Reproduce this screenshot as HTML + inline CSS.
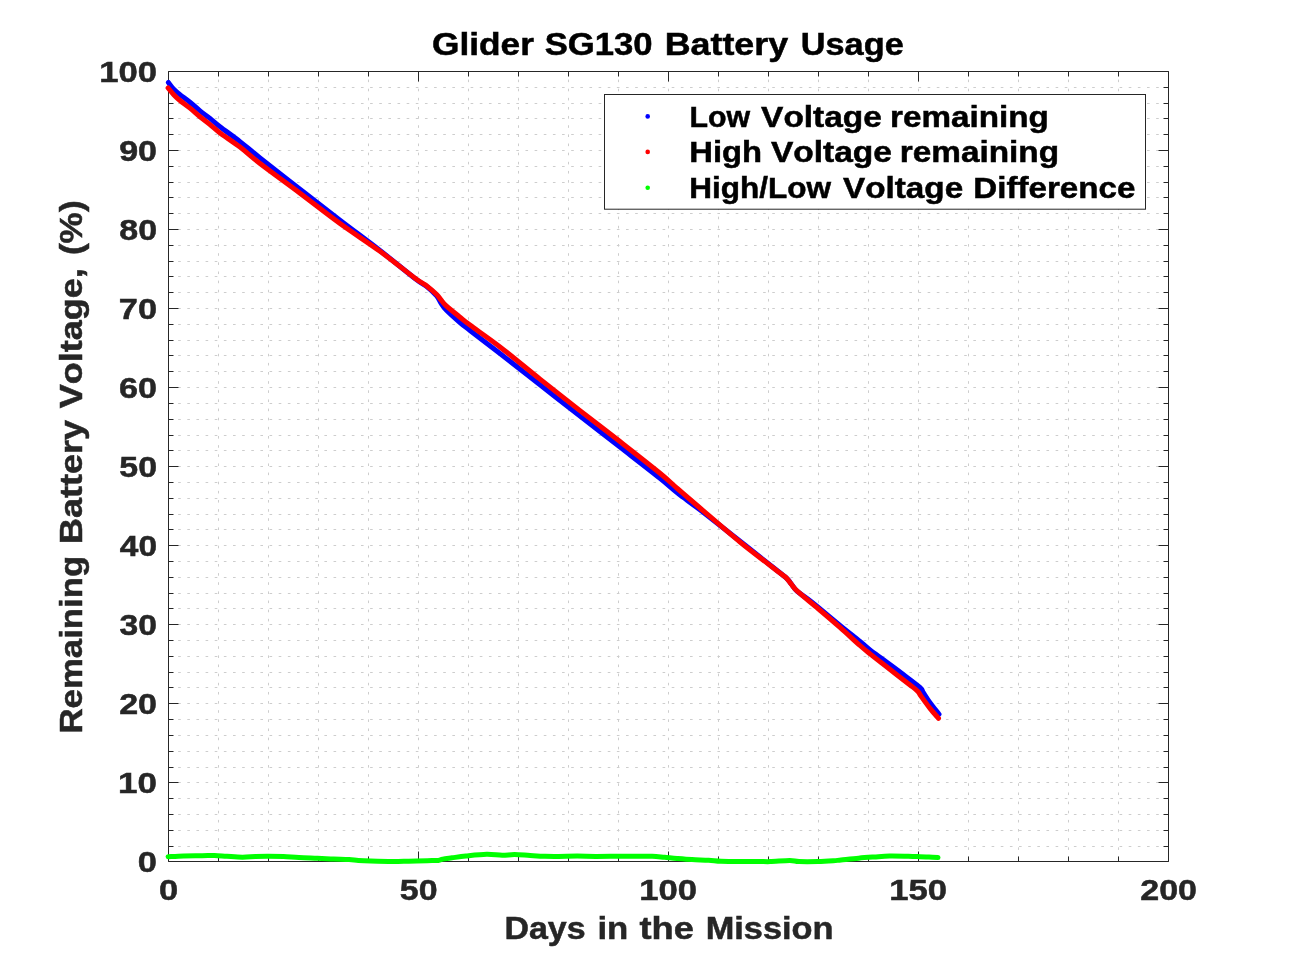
<!DOCTYPE html>
<html><head><meta charset="utf-8"><style>
html,body{margin:0;padding:0;background:#fff;width:1291px;height:968px;overflow:hidden}
svg{display:block;will-change:transform}
text{font-family:"Liberation Sans",sans-serif;font-weight:bold;font-kerning:none}
</style></head><body>
<svg width="1291" height="968" viewBox="0 0 1291 968">
<rect width="1291" height="968" fill="#fff"/>
<path d="M218.5 859.05V856.45M218.5 849.91V847.31M218.5 840.77V838.17M218.5 831.63V829.03M218.5 822.49V819.89M218.5 813.35V810.75M218.5 804.21V801.61M218.5 795.07V792.47M218.5 785.93V783.33M218.5 776.79V774.19M218.5 767.65V765.05M218.5 758.51V755.91M218.5 749.37V746.77M218.5 740.23V737.63M218.5 731.09V728.49M218.5 721.95V719.35M218.5 712.81V710.21M218.5 703.67V701.07M218.5 694.53V691.93M218.5 685.39V682.79M218.5 676.25V673.65M218.5 667.11V664.51M218.5 657.97V655.37M218.5 648.83V646.23M218.5 639.69V637.09M218.5 630.55V627.95M218.5 621.41V618.81M218.5 612.27V609.67M218.5 603.13V600.53M218.5 593.99V591.39M218.5 584.85V582.25M218.5 575.71V573.11M218.5 566.57V563.97M218.5 557.43V554.83M218.5 548.29V545.69M218.5 539.15V536.55M218.5 530.01V527.41M218.5 520.87V518.27M218.5 511.73V509.13M218.5 502.59V499.99M218.5 493.45V490.85M218.5 484.31V481.71M218.5 475.17V472.57M218.5 466.03V463.43M218.5 456.89V454.29M218.5 447.75V445.15M218.5 438.61V436.01M218.5 429.47V426.87M218.5 420.33V417.73M218.5 411.19V408.59M218.5 402.05V399.45M218.5 392.91V390.31M218.5 383.77V381.17M218.5 374.63V372.03M218.5 365.49V362.89M218.5 356.35V353.75M218.5 347.21V344.61M218.5 338.07V335.47M218.5 328.93V326.33M218.5 319.79V317.19M218.5 310.65V308.05M218.5 301.51V298.91M218.5 292.37V289.77M218.5 283.23V280.63M218.5 274.09V271.49M218.5 264.95V262.35M218.5 255.81V253.21M218.5 246.67V244.07M218.5 237.53V234.93M218.5 228.39V225.79M218.5 219.25V216.65M218.5 210.11V207.51M218.5 200.97V198.37M218.5 191.83V189.23M218.5 182.69V180.09M218.5 173.55V170.95M218.5 164.41V161.81M218.5 155.27V152.67M218.5 146.13V143.53M218.5 136.99V134.39M218.5 127.85V125.25M218.5 118.71V116.11M218.5 109.57V106.97M218.5 100.43V97.83M218.5 91.29V88.69M218.5 82.15V79.55M218.5 73.01V71.50M268.5 859.05V856.45M268.5 849.91V847.31M268.5 840.77V838.17M268.5 831.63V829.03M268.5 822.49V819.89M268.5 813.35V810.75M268.5 804.21V801.61M268.5 795.07V792.47M268.5 785.93V783.33M268.5 776.79V774.19M268.5 767.65V765.05M268.5 758.51V755.91M268.5 749.37V746.77M268.5 740.23V737.63M268.5 731.09V728.49M268.5 721.95V719.35M268.5 712.81V710.21M268.5 703.67V701.07M268.5 694.53V691.93M268.5 685.39V682.79M268.5 676.25V673.65M268.5 667.11V664.51M268.5 657.97V655.37M268.5 648.83V646.23M268.5 639.69V637.09M268.5 630.55V627.95M268.5 621.41V618.81M268.5 612.27V609.67M268.5 603.13V600.53M268.5 593.99V591.39M268.5 584.85V582.25M268.5 575.71V573.11M268.5 566.57V563.97M268.5 557.43V554.83M268.5 548.29V545.69M268.5 539.15V536.55M268.5 530.01V527.41M268.5 520.87V518.27M268.5 511.73V509.13M268.5 502.59V499.99M268.5 493.45V490.85M268.5 484.31V481.71M268.5 475.17V472.57M268.5 466.03V463.43M268.5 456.89V454.29M268.5 447.75V445.15M268.5 438.61V436.01M268.5 429.47V426.87M268.5 420.33V417.73M268.5 411.19V408.59M268.5 402.05V399.45M268.5 392.91V390.31M268.5 383.77V381.17M268.5 374.63V372.03M268.5 365.49V362.89M268.5 356.35V353.75M268.5 347.21V344.61M268.5 338.07V335.47M268.5 328.93V326.33M268.5 319.79V317.19M268.5 310.65V308.05M268.5 301.51V298.91M268.5 292.37V289.77M268.5 283.23V280.63M268.5 274.09V271.49M268.5 264.95V262.35M268.5 255.81V253.21M268.5 246.67V244.07M268.5 237.53V234.93M268.5 228.39V225.79M268.5 219.25V216.65M268.5 210.11V207.51M268.5 200.97V198.37M268.5 191.83V189.23M268.5 182.69V180.09M268.5 173.55V170.95M268.5 164.41V161.81M268.5 155.27V152.67M268.5 146.13V143.53M268.5 136.99V134.39M268.5 127.85V125.25M268.5 118.71V116.11M268.5 109.57V106.97M268.5 100.43V97.83M268.5 91.29V88.69M268.5 82.15V79.55M268.5 73.01V71.50M318.5 859.05V856.45M318.5 849.91V847.31M318.5 840.77V838.17M318.5 831.63V829.03M318.5 822.49V819.89M318.5 813.35V810.75M318.5 804.21V801.61M318.5 795.07V792.47M318.5 785.93V783.33M318.5 776.79V774.19M318.5 767.65V765.05M318.5 758.51V755.91M318.5 749.37V746.77M318.5 740.23V737.63M318.5 731.09V728.49M318.5 721.95V719.35M318.5 712.81V710.21M318.5 703.67V701.07M318.5 694.53V691.93M318.5 685.39V682.79M318.5 676.25V673.65M318.5 667.11V664.51M318.5 657.97V655.37M318.5 648.83V646.23M318.5 639.69V637.09M318.5 630.55V627.95M318.5 621.41V618.81M318.5 612.27V609.67M318.5 603.13V600.53M318.5 593.99V591.39M318.5 584.85V582.25M318.5 575.71V573.11M318.5 566.57V563.97M318.5 557.43V554.83M318.5 548.29V545.69M318.5 539.15V536.55M318.5 530.01V527.41M318.5 520.87V518.27M318.5 511.73V509.13M318.5 502.59V499.99M318.5 493.45V490.85M318.5 484.31V481.71M318.5 475.17V472.57M318.5 466.03V463.43M318.5 456.89V454.29M318.5 447.75V445.15M318.5 438.61V436.01M318.5 429.47V426.87M318.5 420.33V417.73M318.5 411.19V408.59M318.5 402.05V399.45M318.5 392.91V390.31M318.5 383.77V381.17M318.5 374.63V372.03M318.5 365.49V362.89M318.5 356.35V353.75M318.5 347.21V344.61M318.5 338.07V335.47M318.5 328.93V326.33M318.5 319.79V317.19M318.5 310.65V308.05M318.5 301.51V298.91M318.5 292.37V289.77M318.5 283.23V280.63M318.5 274.09V271.49M318.5 264.95V262.35M318.5 255.81V253.21M318.5 246.67V244.07M318.5 237.53V234.93M318.5 228.39V225.79M318.5 219.25V216.65M318.5 210.11V207.51M318.5 200.97V198.37M318.5 191.83V189.23M318.5 182.69V180.09M318.5 173.55V170.95M318.5 164.41V161.81M318.5 155.27V152.67M318.5 146.13V143.53M318.5 136.99V134.39M318.5 127.85V125.25M318.5 118.71V116.11M318.5 109.57V106.97M318.5 100.43V97.83M318.5 91.29V88.69M318.5 82.15V79.55M318.5 73.01V71.50M368.5 859.05V856.45M368.5 849.91V847.31M368.5 840.77V838.17M368.5 831.63V829.03M368.5 822.49V819.89M368.5 813.35V810.75M368.5 804.21V801.61M368.5 795.07V792.47M368.5 785.93V783.33M368.5 776.79V774.19M368.5 767.65V765.05M368.5 758.51V755.91M368.5 749.37V746.77M368.5 740.23V737.63M368.5 731.09V728.49M368.5 721.95V719.35M368.5 712.81V710.21M368.5 703.67V701.07M368.5 694.53V691.93M368.5 685.39V682.79M368.5 676.25V673.65M368.5 667.11V664.51M368.5 657.97V655.37M368.5 648.83V646.23M368.5 639.69V637.09M368.5 630.55V627.95M368.5 621.41V618.81M368.5 612.27V609.67M368.5 603.13V600.53M368.5 593.99V591.39M368.5 584.85V582.25M368.5 575.71V573.11M368.5 566.57V563.97M368.5 557.43V554.83M368.5 548.29V545.69M368.5 539.15V536.55M368.5 530.01V527.41M368.5 520.87V518.27M368.5 511.73V509.13M368.5 502.59V499.99M368.5 493.45V490.85M368.5 484.31V481.71M368.5 475.17V472.57M368.5 466.03V463.43M368.5 456.89V454.29M368.5 447.75V445.15M368.5 438.61V436.01M368.5 429.47V426.87M368.5 420.33V417.73M368.5 411.19V408.59M368.5 402.05V399.45M368.5 392.91V390.31M368.5 383.77V381.17M368.5 374.63V372.03M368.5 365.49V362.89M368.5 356.35V353.75M368.5 347.21V344.61M368.5 338.07V335.47M368.5 328.93V326.33M368.5 319.79V317.19M368.5 310.65V308.05M368.5 301.51V298.91M368.5 292.37V289.77M368.5 283.23V280.63M368.5 274.09V271.49M368.5 264.95V262.35M368.5 255.81V253.21M368.5 246.67V244.07M368.5 237.53V234.93M368.5 228.39V225.79M368.5 219.25V216.65M368.5 210.11V207.51M368.5 200.97V198.37M368.5 191.83V189.23M368.5 182.69V180.09M368.5 173.55V170.95M368.5 164.41V161.81M368.5 155.27V152.67M368.5 146.13V143.53M368.5 136.99V134.39M368.5 127.85V125.25M368.5 118.71V116.11M368.5 109.57V106.97M368.5 100.43V97.83M368.5 91.29V88.69M368.5 82.15V79.55M368.5 73.01V71.50M418.5 859.05V856.45M418.5 849.91V847.31M418.5 840.77V838.17M418.5 831.63V829.03M418.5 822.49V819.89M418.5 813.35V810.75M418.5 804.21V801.61M418.5 795.07V792.47M418.5 785.93V783.33M418.5 776.79V774.19M418.5 767.65V765.05M418.5 758.51V755.91M418.5 749.37V746.77M418.5 740.23V737.63M418.5 731.09V728.49M418.5 721.95V719.35M418.5 712.81V710.21M418.5 703.67V701.07M418.5 694.53V691.93M418.5 685.39V682.79M418.5 676.25V673.65M418.5 667.11V664.51M418.5 657.97V655.37M418.5 648.83V646.23M418.5 639.69V637.09M418.5 630.55V627.95M418.5 621.41V618.81M418.5 612.27V609.67M418.5 603.13V600.53M418.5 593.99V591.39M418.5 584.85V582.25M418.5 575.71V573.11M418.5 566.57V563.97M418.5 557.43V554.83M418.5 548.29V545.69M418.5 539.15V536.55M418.5 530.01V527.41M418.5 520.87V518.27M418.5 511.73V509.13M418.5 502.59V499.99M418.5 493.45V490.85M418.5 484.31V481.71M418.5 475.17V472.57M418.5 466.03V463.43M418.5 456.89V454.29M418.5 447.75V445.15M418.5 438.61V436.01M418.5 429.47V426.87M418.5 420.33V417.73M418.5 411.19V408.59M418.5 402.05V399.45M418.5 392.91V390.31M418.5 383.77V381.17M418.5 374.63V372.03M418.5 365.49V362.89M418.5 356.35V353.75M418.5 347.21V344.61M418.5 338.07V335.47M418.5 328.93V326.33M418.5 319.79V317.19M418.5 310.65V308.05M418.5 301.51V298.91M418.5 292.37V289.77M418.5 283.23V280.63M418.5 274.09V271.49M418.5 264.95V262.35M418.5 255.81V253.21M418.5 246.67V244.07M418.5 237.53V234.93M418.5 228.39V225.79M418.5 219.25V216.65M418.5 210.11V207.51M418.5 200.97V198.37M418.5 191.83V189.23M418.5 182.69V180.09M418.5 173.55V170.95M418.5 164.41V161.81M418.5 155.27V152.67M418.5 146.13V143.53M418.5 136.99V134.39M418.5 127.85V125.25M418.5 118.71V116.11M418.5 109.57V106.97M418.5 100.43V97.83M418.5 91.29V88.69M418.5 82.15V79.55M418.5 73.01V71.50M468.5 859.05V856.45M468.5 849.91V847.31M468.5 840.77V838.17M468.5 831.63V829.03M468.5 822.49V819.89M468.5 813.35V810.75M468.5 804.21V801.61M468.5 795.07V792.47M468.5 785.93V783.33M468.5 776.79V774.19M468.5 767.65V765.05M468.5 758.51V755.91M468.5 749.37V746.77M468.5 740.23V737.63M468.5 731.09V728.49M468.5 721.95V719.35M468.5 712.81V710.21M468.5 703.67V701.07M468.5 694.53V691.93M468.5 685.39V682.79M468.5 676.25V673.65M468.5 667.11V664.51M468.5 657.97V655.37M468.5 648.83V646.23M468.5 639.69V637.09M468.5 630.55V627.95M468.5 621.41V618.81M468.5 612.27V609.67M468.5 603.13V600.53M468.5 593.99V591.39M468.5 584.85V582.25M468.5 575.71V573.11M468.5 566.57V563.97M468.5 557.43V554.83M468.5 548.29V545.69M468.5 539.15V536.55M468.5 530.01V527.41M468.5 520.87V518.27M468.5 511.73V509.13M468.5 502.59V499.99M468.5 493.45V490.85M468.5 484.31V481.71M468.5 475.17V472.57M468.5 466.03V463.43M468.5 456.89V454.29M468.5 447.75V445.15M468.5 438.61V436.01M468.5 429.47V426.87M468.5 420.33V417.73M468.5 411.19V408.59M468.5 402.05V399.45M468.5 392.91V390.31M468.5 383.77V381.17M468.5 374.63V372.03M468.5 365.49V362.89M468.5 356.35V353.75M468.5 347.21V344.61M468.5 338.07V335.47M468.5 328.93V326.33M468.5 319.79V317.19M468.5 310.65V308.05M468.5 301.51V298.91M468.5 292.37V289.77M468.5 283.23V280.63M468.5 274.09V271.49M468.5 264.95V262.35M468.5 255.81V253.21M468.5 246.67V244.07M468.5 237.53V234.93M468.5 228.39V225.79M468.5 219.25V216.65M468.5 210.11V207.51M468.5 200.97V198.37M468.5 191.83V189.23M468.5 182.69V180.09M468.5 173.55V170.95M468.5 164.41V161.81M468.5 155.27V152.67M468.5 146.13V143.53M468.5 136.99V134.39M468.5 127.85V125.25M468.5 118.71V116.11M468.5 109.57V106.97M468.5 100.43V97.83M468.5 91.29V88.69M468.5 82.15V79.55M468.5 73.01V71.50M518.5 859.05V856.45M518.5 849.91V847.31M518.5 840.77V838.17M518.5 831.63V829.03M518.5 822.49V819.89M518.5 813.35V810.75M518.5 804.21V801.61M518.5 795.07V792.47M518.5 785.93V783.33M518.5 776.79V774.19M518.5 767.65V765.05M518.5 758.51V755.91M518.5 749.37V746.77M518.5 740.23V737.63M518.5 731.09V728.49M518.5 721.95V719.35M518.5 712.81V710.21M518.5 703.67V701.07M518.5 694.53V691.93M518.5 685.39V682.79M518.5 676.25V673.65M518.5 667.11V664.51M518.5 657.97V655.37M518.5 648.83V646.23M518.5 639.69V637.09M518.5 630.55V627.95M518.5 621.41V618.81M518.5 612.27V609.67M518.5 603.13V600.53M518.5 593.99V591.39M518.5 584.85V582.25M518.5 575.71V573.11M518.5 566.57V563.97M518.5 557.43V554.83M518.5 548.29V545.69M518.5 539.15V536.55M518.5 530.01V527.41M518.5 520.87V518.27M518.5 511.73V509.13M518.5 502.59V499.99M518.5 493.45V490.85M518.5 484.31V481.71M518.5 475.17V472.57M518.5 466.03V463.43M518.5 456.89V454.29M518.5 447.75V445.15M518.5 438.61V436.01M518.5 429.47V426.87M518.5 420.33V417.73M518.5 411.19V408.59M518.5 402.05V399.45M518.5 392.91V390.31M518.5 383.77V381.17M518.5 374.63V372.03M518.5 365.49V362.89M518.5 356.35V353.75M518.5 347.21V344.61M518.5 338.07V335.47M518.5 328.93V326.33M518.5 319.79V317.19M518.5 310.65V308.05M518.5 301.51V298.91M518.5 292.37V289.77M518.5 283.23V280.63M518.5 274.09V271.49M518.5 264.95V262.35M518.5 255.81V253.21M518.5 246.67V244.07M518.5 237.53V234.93M518.5 228.39V225.79M518.5 219.25V216.65M518.5 210.11V207.51M518.5 200.97V198.37M518.5 191.83V189.23M518.5 182.69V180.09M518.5 173.55V170.95M518.5 164.41V161.81M518.5 155.27V152.67M518.5 146.13V143.53M518.5 136.99V134.39M518.5 127.85V125.25M518.5 118.71V116.11M518.5 109.57V106.97M518.5 100.43V97.83M518.5 91.29V88.69M518.5 82.15V79.55M518.5 73.01V71.50M568.5 859.05V856.45M568.5 849.91V847.31M568.5 840.77V838.17M568.5 831.63V829.03M568.5 822.49V819.89M568.5 813.35V810.75M568.5 804.21V801.61M568.5 795.07V792.47M568.5 785.93V783.33M568.5 776.79V774.19M568.5 767.65V765.05M568.5 758.51V755.91M568.5 749.37V746.77M568.5 740.23V737.63M568.5 731.09V728.49M568.5 721.95V719.35M568.5 712.81V710.21M568.5 703.67V701.07M568.5 694.53V691.93M568.5 685.39V682.79M568.5 676.25V673.65M568.5 667.11V664.51M568.5 657.97V655.37M568.5 648.83V646.23M568.5 639.69V637.09M568.5 630.55V627.95M568.5 621.41V618.81M568.5 612.27V609.67M568.5 603.13V600.53M568.5 593.99V591.39M568.5 584.85V582.25M568.5 575.71V573.11M568.5 566.57V563.97M568.5 557.43V554.83M568.5 548.29V545.69M568.5 539.15V536.55M568.5 530.01V527.41M568.5 520.87V518.27M568.5 511.73V509.13M568.5 502.59V499.99M568.5 493.45V490.85M568.5 484.31V481.71M568.5 475.17V472.57M568.5 466.03V463.43M568.5 456.89V454.29M568.5 447.75V445.15M568.5 438.61V436.01M568.5 429.47V426.87M568.5 420.33V417.73M568.5 411.19V408.59M568.5 402.05V399.45M568.5 392.91V390.31M568.5 383.77V381.17M568.5 374.63V372.03M568.5 365.49V362.89M568.5 356.35V353.75M568.5 347.21V344.61M568.5 338.07V335.47M568.5 328.93V326.33M568.5 319.79V317.19M568.5 310.65V308.05M568.5 301.51V298.91M568.5 292.37V289.77M568.5 283.23V280.63M568.5 274.09V271.49M568.5 264.95V262.35M568.5 255.81V253.21M568.5 246.67V244.07M568.5 237.53V234.93M568.5 228.39V225.79M568.5 219.25V216.65M568.5 210.11V207.51M568.5 200.97V198.37M568.5 191.83V189.23M568.5 182.69V180.09M568.5 173.55V170.95M568.5 164.41V161.81M568.5 155.27V152.67M568.5 146.13V143.53M568.5 136.99V134.39M568.5 127.85V125.25M568.5 118.71V116.11M568.5 109.57V106.97M568.5 100.43V97.83M568.5 91.29V88.69M568.5 82.15V79.55M568.5 73.01V71.50M618.5 859.05V856.45M618.5 849.91V847.31M618.5 840.77V838.17M618.5 831.63V829.03M618.5 822.49V819.89M618.5 813.35V810.75M618.5 804.21V801.61M618.5 795.07V792.47M618.5 785.93V783.33M618.5 776.79V774.19M618.5 767.65V765.05M618.5 758.51V755.91M618.5 749.37V746.77M618.5 740.23V737.63M618.5 731.09V728.49M618.5 721.95V719.35M618.5 712.81V710.21M618.5 703.67V701.07M618.5 694.53V691.93M618.5 685.39V682.79M618.5 676.25V673.65M618.5 667.11V664.51M618.5 657.97V655.37M618.5 648.83V646.23M618.5 639.69V637.09M618.5 630.55V627.95M618.5 621.41V618.81M618.5 612.27V609.67M618.5 603.13V600.53M618.5 593.99V591.39M618.5 584.85V582.25M618.5 575.71V573.11M618.5 566.57V563.97M618.5 557.43V554.83M618.5 548.29V545.69M618.5 539.15V536.55M618.5 530.01V527.41M618.5 520.87V518.27M618.5 511.73V509.13M618.5 502.59V499.99M618.5 493.45V490.85M618.5 484.31V481.71M618.5 475.17V472.57M618.5 466.03V463.43M618.5 456.89V454.29M618.5 447.75V445.15M618.5 438.61V436.01M618.5 429.47V426.87M618.5 420.33V417.73M618.5 411.19V408.59M618.5 402.05V399.45M618.5 392.91V390.31M618.5 383.77V381.17M618.5 374.63V372.03M618.5 365.49V362.89M618.5 356.35V353.75M618.5 347.21V344.61M618.5 338.07V335.47M618.5 328.93V326.33M618.5 319.79V317.19M618.5 310.65V308.05M618.5 301.51V298.91M618.5 292.37V289.77M618.5 283.23V280.63M618.5 274.09V271.49M618.5 264.95V262.35M618.5 255.81V253.21M618.5 246.67V244.07M618.5 237.53V234.93M618.5 228.39V225.79M618.5 219.25V216.65M618.5 210.11V207.51M618.5 200.97V198.37M618.5 191.83V189.23M618.5 182.69V180.09M618.5 173.55V170.95M618.5 164.41V161.81M618.5 155.27V152.67M618.5 146.13V143.53M618.5 136.99V134.39M618.5 127.85V125.25M618.5 118.71V116.11M618.5 109.57V106.97M618.5 100.43V97.83M618.5 91.29V88.69M618.5 82.15V79.55M618.5 73.01V71.50M668.5 859.05V856.45M668.5 849.91V847.31M668.5 840.77V838.17M668.5 831.63V829.03M668.5 822.49V819.89M668.5 813.35V810.75M668.5 804.21V801.61M668.5 795.07V792.47M668.5 785.93V783.33M668.5 776.79V774.19M668.5 767.65V765.05M668.5 758.51V755.91M668.5 749.37V746.77M668.5 740.23V737.63M668.5 731.09V728.49M668.5 721.95V719.35M668.5 712.81V710.21M668.5 703.67V701.07M668.5 694.53V691.93M668.5 685.39V682.79M668.5 676.25V673.65M668.5 667.11V664.51M668.5 657.97V655.37M668.5 648.83V646.23M668.5 639.69V637.09M668.5 630.55V627.95M668.5 621.41V618.81M668.5 612.27V609.67M668.5 603.13V600.53M668.5 593.99V591.39M668.5 584.85V582.25M668.5 575.71V573.11M668.5 566.57V563.97M668.5 557.43V554.83M668.5 548.29V545.69M668.5 539.15V536.55M668.5 530.01V527.41M668.5 520.87V518.27M668.5 511.73V509.13M668.5 502.59V499.99M668.5 493.45V490.85M668.5 484.31V481.71M668.5 475.17V472.57M668.5 466.03V463.43M668.5 456.89V454.29M668.5 447.75V445.15M668.5 438.61V436.01M668.5 429.47V426.87M668.5 420.33V417.73M668.5 411.19V408.59M668.5 402.05V399.45M668.5 392.91V390.31M668.5 383.77V381.17M668.5 374.63V372.03M668.5 365.49V362.89M668.5 356.35V353.75M668.5 347.21V344.61M668.5 338.07V335.47M668.5 328.93V326.33M668.5 319.79V317.19M668.5 310.65V308.05M668.5 301.51V298.91M668.5 292.37V289.77M668.5 283.23V280.63M668.5 274.09V271.49M668.5 264.95V262.35M668.5 255.81V253.21M668.5 246.67V244.07M668.5 237.53V234.93M668.5 228.39V225.79M668.5 219.25V216.65M668.5 210.11V207.51M668.5 200.97V198.37M668.5 191.83V189.23M668.5 182.69V180.09M668.5 173.55V170.95M668.5 164.41V161.81M668.5 155.27V152.67M668.5 146.13V143.53M668.5 136.99V134.39M668.5 127.85V125.25M668.5 118.71V116.11M668.5 109.57V106.97M668.5 100.43V97.83M668.5 91.29V88.69M668.5 82.15V79.55M668.5 73.01V71.50M718.5 859.05V856.45M718.5 849.91V847.31M718.5 840.77V838.17M718.5 831.63V829.03M718.5 822.49V819.89M718.5 813.35V810.75M718.5 804.21V801.61M718.5 795.07V792.47M718.5 785.93V783.33M718.5 776.79V774.19M718.5 767.65V765.05M718.5 758.51V755.91M718.5 749.37V746.77M718.5 740.23V737.63M718.5 731.09V728.49M718.5 721.95V719.35M718.5 712.81V710.21M718.5 703.67V701.07M718.5 694.53V691.93M718.5 685.39V682.79M718.5 676.25V673.65M718.5 667.11V664.51M718.5 657.97V655.37M718.5 648.83V646.23M718.5 639.69V637.09M718.5 630.55V627.95M718.5 621.41V618.81M718.5 612.27V609.67M718.5 603.13V600.53M718.5 593.99V591.39M718.5 584.85V582.25M718.5 575.71V573.11M718.5 566.57V563.97M718.5 557.43V554.83M718.5 548.29V545.69M718.5 539.15V536.55M718.5 530.01V527.41M718.5 520.87V518.27M718.5 511.73V509.13M718.5 502.59V499.99M718.5 493.45V490.85M718.5 484.31V481.71M718.5 475.17V472.57M718.5 466.03V463.43M718.5 456.89V454.29M718.5 447.75V445.15M718.5 438.61V436.01M718.5 429.47V426.87M718.5 420.33V417.73M718.5 411.19V408.59M718.5 402.05V399.45M718.5 392.91V390.31M718.5 383.77V381.17M718.5 374.63V372.03M718.5 365.49V362.89M718.5 356.35V353.75M718.5 347.21V344.61M718.5 338.07V335.47M718.5 328.93V326.33M718.5 319.79V317.19M718.5 310.65V308.05M718.5 301.51V298.91M718.5 292.37V289.77M718.5 283.23V280.63M718.5 274.09V271.49M718.5 264.95V262.35M718.5 255.81V253.21M718.5 246.67V244.07M718.5 237.53V234.93M718.5 228.39V225.79M718.5 219.25V216.65M718.5 210.11V207.51M718.5 200.97V198.37M718.5 191.83V189.23M718.5 182.69V180.09M718.5 173.55V170.95M718.5 164.41V161.81M718.5 155.27V152.67M718.5 146.13V143.53M718.5 136.99V134.39M718.5 127.85V125.25M718.5 118.71V116.11M718.5 109.57V106.97M718.5 100.43V97.83M718.5 91.29V88.69M718.5 82.15V79.55M718.5 73.01V71.50M768.5 859.05V856.45M768.5 849.91V847.31M768.5 840.77V838.17M768.5 831.63V829.03M768.5 822.49V819.89M768.5 813.35V810.75M768.5 804.21V801.61M768.5 795.07V792.47M768.5 785.93V783.33M768.5 776.79V774.19M768.5 767.65V765.05M768.5 758.51V755.91M768.5 749.37V746.77M768.5 740.23V737.63M768.5 731.09V728.49M768.5 721.95V719.35M768.5 712.81V710.21M768.5 703.67V701.07M768.5 694.53V691.93M768.5 685.39V682.79M768.5 676.25V673.65M768.5 667.11V664.51M768.5 657.97V655.37M768.5 648.83V646.23M768.5 639.69V637.09M768.5 630.55V627.95M768.5 621.41V618.81M768.5 612.27V609.67M768.5 603.13V600.53M768.5 593.99V591.39M768.5 584.85V582.25M768.5 575.71V573.11M768.5 566.57V563.97M768.5 557.43V554.83M768.5 548.29V545.69M768.5 539.15V536.55M768.5 530.01V527.41M768.5 520.87V518.27M768.5 511.73V509.13M768.5 502.59V499.99M768.5 493.45V490.85M768.5 484.31V481.71M768.5 475.17V472.57M768.5 466.03V463.43M768.5 456.89V454.29M768.5 447.75V445.15M768.5 438.61V436.01M768.5 429.47V426.87M768.5 420.33V417.73M768.5 411.19V408.59M768.5 402.05V399.45M768.5 392.91V390.31M768.5 383.77V381.17M768.5 374.63V372.03M768.5 365.49V362.89M768.5 356.35V353.75M768.5 347.21V344.61M768.5 338.07V335.47M768.5 328.93V326.33M768.5 319.79V317.19M768.5 310.65V308.05M768.5 301.51V298.91M768.5 292.37V289.77M768.5 283.23V280.63M768.5 274.09V271.49M768.5 264.95V262.35M768.5 255.81V253.21M768.5 246.67V244.07M768.5 237.53V234.93M768.5 228.39V225.79M768.5 219.25V216.65M768.5 210.11V207.51M768.5 200.97V198.37M768.5 191.83V189.23M768.5 182.69V180.09M768.5 173.55V170.95M768.5 164.41V161.81M768.5 155.27V152.67M768.5 146.13V143.53M768.5 136.99V134.39M768.5 127.85V125.25M768.5 118.71V116.11M768.5 109.57V106.97M768.5 100.43V97.83M768.5 91.29V88.69M768.5 82.15V79.55M768.5 73.01V71.50M818.5 859.05V856.45M818.5 849.91V847.31M818.5 840.77V838.17M818.5 831.63V829.03M818.5 822.49V819.89M818.5 813.35V810.75M818.5 804.21V801.61M818.5 795.07V792.47M818.5 785.93V783.33M818.5 776.79V774.19M818.5 767.65V765.05M818.5 758.51V755.91M818.5 749.37V746.77M818.5 740.23V737.63M818.5 731.09V728.49M818.5 721.95V719.35M818.5 712.81V710.21M818.5 703.67V701.07M818.5 694.53V691.93M818.5 685.39V682.79M818.5 676.25V673.65M818.5 667.11V664.51M818.5 657.97V655.37M818.5 648.83V646.23M818.5 639.69V637.09M818.5 630.55V627.95M818.5 621.41V618.81M818.5 612.27V609.67M818.5 603.13V600.53M818.5 593.99V591.39M818.5 584.85V582.25M818.5 575.71V573.11M818.5 566.57V563.97M818.5 557.43V554.83M818.5 548.29V545.69M818.5 539.15V536.55M818.5 530.01V527.41M818.5 520.87V518.27M818.5 511.73V509.13M818.5 502.59V499.99M818.5 493.45V490.85M818.5 484.31V481.71M818.5 475.17V472.57M818.5 466.03V463.43M818.5 456.89V454.29M818.5 447.75V445.15M818.5 438.61V436.01M818.5 429.47V426.87M818.5 420.33V417.73M818.5 411.19V408.59M818.5 402.05V399.45M818.5 392.91V390.31M818.5 383.77V381.17M818.5 374.63V372.03M818.5 365.49V362.89M818.5 356.35V353.75M818.5 347.21V344.61M818.5 338.07V335.47M818.5 328.93V326.33M818.5 319.79V317.19M818.5 310.65V308.05M818.5 301.51V298.91M818.5 292.37V289.77M818.5 283.23V280.63M818.5 274.09V271.49M818.5 264.95V262.35M818.5 255.81V253.21M818.5 246.67V244.07M818.5 237.53V234.93M818.5 228.39V225.79M818.5 219.25V216.65M818.5 210.11V207.51M818.5 200.97V198.37M818.5 191.83V189.23M818.5 182.69V180.09M818.5 173.55V170.95M818.5 164.41V161.81M818.5 155.27V152.67M818.5 146.13V143.53M818.5 136.99V134.39M818.5 127.85V125.25M818.5 118.71V116.11M818.5 109.57V106.97M818.5 100.43V97.83M818.5 91.29V88.69M818.5 82.15V79.55M818.5 73.01V71.50M868.5 859.05V856.45M868.5 849.91V847.31M868.5 840.77V838.17M868.5 831.63V829.03M868.5 822.49V819.89M868.5 813.35V810.75M868.5 804.21V801.61M868.5 795.07V792.47M868.5 785.93V783.33M868.5 776.79V774.19M868.5 767.65V765.05M868.5 758.51V755.91M868.5 749.37V746.77M868.5 740.23V737.63M868.5 731.09V728.49M868.5 721.95V719.35M868.5 712.81V710.21M868.5 703.67V701.07M868.5 694.53V691.93M868.5 685.39V682.79M868.5 676.25V673.65M868.5 667.11V664.51M868.5 657.97V655.37M868.5 648.83V646.23M868.5 639.69V637.09M868.5 630.55V627.95M868.5 621.41V618.81M868.5 612.27V609.67M868.5 603.13V600.53M868.5 593.99V591.39M868.5 584.85V582.25M868.5 575.71V573.11M868.5 566.57V563.97M868.5 557.43V554.83M868.5 548.29V545.69M868.5 539.15V536.55M868.5 530.01V527.41M868.5 520.87V518.27M868.5 511.73V509.13M868.5 502.59V499.99M868.5 493.45V490.85M868.5 484.31V481.71M868.5 475.17V472.57M868.5 466.03V463.43M868.5 456.89V454.29M868.5 447.75V445.15M868.5 438.61V436.01M868.5 429.47V426.87M868.5 420.33V417.73M868.5 411.19V408.59M868.5 402.05V399.45M868.5 392.91V390.31M868.5 383.77V381.17M868.5 374.63V372.03M868.5 365.49V362.89M868.5 356.35V353.75M868.5 347.21V344.61M868.5 338.07V335.47M868.5 328.93V326.33M868.5 319.79V317.19M868.5 310.65V308.05M868.5 301.51V298.91M868.5 292.37V289.77M868.5 283.23V280.63M868.5 274.09V271.49M868.5 264.95V262.35M868.5 255.81V253.21M868.5 246.67V244.07M868.5 237.53V234.93M868.5 228.39V225.79M868.5 219.25V216.65M868.5 210.11V207.51M868.5 200.97V198.37M868.5 191.83V189.23M868.5 182.69V180.09M868.5 173.55V170.95M868.5 164.41V161.81M868.5 155.27V152.67M868.5 146.13V143.53M868.5 136.99V134.39M868.5 127.85V125.25M868.5 118.71V116.11M868.5 109.57V106.97M868.5 100.43V97.83M868.5 91.29V88.69M868.5 82.15V79.55M868.5 73.01V71.50M918.5 859.05V856.45M918.5 849.91V847.31M918.5 840.77V838.17M918.5 831.63V829.03M918.5 822.49V819.89M918.5 813.35V810.75M918.5 804.21V801.61M918.5 795.07V792.47M918.5 785.93V783.33M918.5 776.79V774.19M918.5 767.65V765.05M918.5 758.51V755.91M918.5 749.37V746.77M918.5 740.23V737.63M918.5 731.09V728.49M918.5 721.95V719.35M918.5 712.81V710.21M918.5 703.67V701.07M918.5 694.53V691.93M918.5 685.39V682.79M918.5 676.25V673.65M918.5 667.11V664.51M918.5 657.97V655.37M918.5 648.83V646.23M918.5 639.69V637.09M918.5 630.55V627.95M918.5 621.41V618.81M918.5 612.27V609.67M918.5 603.13V600.53M918.5 593.99V591.39M918.5 584.85V582.25M918.5 575.71V573.11M918.5 566.57V563.97M918.5 557.43V554.83M918.5 548.29V545.69M918.5 539.15V536.55M918.5 530.01V527.41M918.5 520.87V518.27M918.5 511.73V509.13M918.5 502.59V499.99M918.5 493.45V490.85M918.5 484.31V481.71M918.5 475.17V472.57M918.5 466.03V463.43M918.5 456.89V454.29M918.5 447.75V445.15M918.5 438.61V436.01M918.5 429.47V426.87M918.5 420.33V417.73M918.5 411.19V408.59M918.5 402.05V399.45M918.5 392.91V390.31M918.5 383.77V381.17M918.5 374.63V372.03M918.5 365.49V362.89M918.5 356.35V353.75M918.5 347.21V344.61M918.5 338.07V335.47M918.5 328.93V326.33M918.5 319.79V317.19M918.5 310.65V308.05M918.5 301.51V298.91M918.5 292.37V289.77M918.5 283.23V280.63M918.5 274.09V271.49M918.5 264.95V262.35M918.5 255.81V253.21M918.5 246.67V244.07M918.5 237.53V234.93M918.5 228.39V225.79M918.5 219.25V216.65M918.5 210.11V207.51M918.5 200.97V198.37M918.5 191.83V189.23M918.5 182.69V180.09M918.5 173.55V170.95M918.5 164.41V161.81M918.5 155.27V152.67M918.5 146.13V143.53M918.5 136.99V134.39M918.5 127.85V125.25M918.5 118.71V116.11M918.5 109.57V106.97M918.5 100.43V97.83M918.5 91.29V88.69M918.5 82.15V79.55M918.5 73.01V71.50M968.5 859.05V856.45M968.5 849.91V847.31M968.5 840.77V838.17M968.5 831.63V829.03M968.5 822.49V819.89M968.5 813.35V810.75M968.5 804.21V801.61M968.5 795.07V792.47M968.5 785.93V783.33M968.5 776.79V774.19M968.5 767.65V765.05M968.5 758.51V755.91M968.5 749.37V746.77M968.5 740.23V737.63M968.5 731.09V728.49M968.5 721.95V719.35M968.5 712.81V710.21M968.5 703.67V701.07M968.5 694.53V691.93M968.5 685.39V682.79M968.5 676.25V673.65M968.5 667.11V664.51M968.5 657.97V655.37M968.5 648.83V646.23M968.5 639.69V637.09M968.5 630.55V627.95M968.5 621.41V618.81M968.5 612.27V609.67M968.5 603.13V600.53M968.5 593.99V591.39M968.5 584.85V582.25M968.5 575.71V573.11M968.5 566.57V563.97M968.5 557.43V554.83M968.5 548.29V545.69M968.5 539.15V536.55M968.5 530.01V527.41M968.5 520.87V518.27M968.5 511.73V509.13M968.5 502.59V499.99M968.5 493.45V490.85M968.5 484.31V481.71M968.5 475.17V472.57M968.5 466.03V463.43M968.5 456.89V454.29M968.5 447.75V445.15M968.5 438.61V436.01M968.5 429.47V426.87M968.5 420.33V417.73M968.5 411.19V408.59M968.5 402.05V399.45M968.5 392.91V390.31M968.5 383.77V381.17M968.5 374.63V372.03M968.5 365.49V362.89M968.5 356.35V353.75M968.5 347.21V344.61M968.5 338.07V335.47M968.5 328.93V326.33M968.5 319.79V317.19M968.5 310.65V308.05M968.5 301.51V298.91M968.5 292.37V289.77M968.5 283.23V280.63M968.5 274.09V271.49M968.5 264.95V262.35M968.5 255.81V253.21M968.5 246.67V244.07M968.5 237.53V234.93M968.5 228.39V225.79M968.5 219.25V216.65M968.5 210.11V207.51M968.5 200.97V198.37M968.5 191.83V189.23M968.5 182.69V180.09M968.5 173.55V170.95M968.5 164.41V161.81M968.5 155.27V152.67M968.5 146.13V143.53M968.5 136.99V134.39M968.5 127.85V125.25M968.5 118.71V116.11M968.5 109.57V106.97M968.5 100.43V97.83M968.5 91.29V88.69M968.5 82.15V79.55M968.5 73.01V71.50M1018.5 859.05V856.45M1018.5 849.91V847.31M1018.5 840.77V838.17M1018.5 831.63V829.03M1018.5 822.49V819.89M1018.5 813.35V810.75M1018.5 804.21V801.61M1018.5 795.07V792.47M1018.5 785.93V783.33M1018.5 776.79V774.19M1018.5 767.65V765.05M1018.5 758.51V755.91M1018.5 749.37V746.77M1018.5 740.23V737.63M1018.5 731.09V728.49M1018.5 721.95V719.35M1018.5 712.81V710.21M1018.5 703.67V701.07M1018.5 694.53V691.93M1018.5 685.39V682.79M1018.5 676.25V673.65M1018.5 667.11V664.51M1018.5 657.97V655.37M1018.5 648.83V646.23M1018.5 639.69V637.09M1018.5 630.55V627.95M1018.5 621.41V618.81M1018.5 612.27V609.67M1018.5 603.13V600.53M1018.5 593.99V591.39M1018.5 584.85V582.25M1018.5 575.71V573.11M1018.5 566.57V563.97M1018.5 557.43V554.83M1018.5 548.29V545.69M1018.5 539.15V536.55M1018.5 530.01V527.41M1018.5 520.87V518.27M1018.5 511.73V509.13M1018.5 502.59V499.99M1018.5 493.45V490.85M1018.5 484.31V481.71M1018.5 475.17V472.57M1018.5 466.03V463.43M1018.5 456.89V454.29M1018.5 447.75V445.15M1018.5 438.61V436.01M1018.5 429.47V426.87M1018.5 420.33V417.73M1018.5 411.19V408.59M1018.5 402.05V399.45M1018.5 392.91V390.31M1018.5 383.77V381.17M1018.5 374.63V372.03M1018.5 365.49V362.89M1018.5 356.35V353.75M1018.5 347.21V344.61M1018.5 338.07V335.47M1018.5 328.93V326.33M1018.5 319.79V317.19M1018.5 310.65V308.05M1018.5 301.51V298.91M1018.5 292.37V289.77M1018.5 283.23V280.63M1018.5 274.09V271.49M1018.5 264.95V262.35M1018.5 255.81V253.21M1018.5 246.67V244.07M1018.5 237.53V234.93M1018.5 228.39V225.79M1018.5 219.25V216.65M1018.5 210.11V207.51M1018.5 200.97V198.37M1018.5 191.83V189.23M1018.5 182.69V180.09M1018.5 173.55V170.95M1018.5 164.41V161.81M1018.5 155.27V152.67M1018.5 146.13V143.53M1018.5 136.99V134.39M1018.5 127.85V125.25M1018.5 118.71V116.11M1018.5 109.57V106.97M1018.5 100.43V97.83M1018.5 91.29V88.69M1018.5 82.15V79.55M1018.5 73.01V71.50M1068.5 859.05V856.45M1068.5 849.91V847.31M1068.5 840.77V838.17M1068.5 831.63V829.03M1068.5 822.49V819.89M1068.5 813.35V810.75M1068.5 804.21V801.61M1068.5 795.07V792.47M1068.5 785.93V783.33M1068.5 776.79V774.19M1068.5 767.65V765.05M1068.5 758.51V755.91M1068.5 749.37V746.77M1068.5 740.23V737.63M1068.5 731.09V728.49M1068.5 721.95V719.35M1068.5 712.81V710.21M1068.5 703.67V701.07M1068.5 694.53V691.93M1068.5 685.39V682.79M1068.5 676.25V673.65M1068.5 667.11V664.51M1068.5 657.97V655.37M1068.5 648.83V646.23M1068.5 639.69V637.09M1068.5 630.55V627.95M1068.5 621.41V618.81M1068.5 612.27V609.67M1068.5 603.13V600.53M1068.5 593.99V591.39M1068.5 584.85V582.25M1068.5 575.71V573.11M1068.5 566.57V563.97M1068.5 557.43V554.83M1068.5 548.29V545.69M1068.5 539.15V536.55M1068.5 530.01V527.41M1068.5 520.87V518.27M1068.5 511.73V509.13M1068.5 502.59V499.99M1068.5 493.45V490.85M1068.5 484.31V481.71M1068.5 475.17V472.57M1068.5 466.03V463.43M1068.5 456.89V454.29M1068.5 447.75V445.15M1068.5 438.61V436.01M1068.5 429.47V426.87M1068.5 420.33V417.73M1068.5 411.19V408.59M1068.5 402.05V399.45M1068.5 392.91V390.31M1068.5 383.77V381.17M1068.5 374.63V372.03M1068.5 365.49V362.89M1068.5 356.35V353.75M1068.5 347.21V344.61M1068.5 338.07V335.47M1068.5 328.93V326.33M1068.5 319.79V317.19M1068.5 310.65V308.05M1068.5 301.51V298.91M1068.5 292.37V289.77M1068.5 283.23V280.63M1068.5 274.09V271.49M1068.5 264.95V262.35M1068.5 255.81V253.21M1068.5 246.67V244.07M1068.5 237.53V234.93M1068.5 228.39V225.79M1068.5 219.25V216.65M1068.5 210.11V207.51M1068.5 200.97V198.37M1068.5 191.83V189.23M1068.5 182.69V180.09M1068.5 173.55V170.95M1068.5 164.41V161.81M1068.5 155.27V152.67M1068.5 146.13V143.53M1068.5 136.99V134.39M1068.5 127.85V125.25M1068.5 118.71V116.11M1068.5 109.57V106.97M1068.5 100.43V97.83M1068.5 91.29V88.69M1068.5 82.15V79.55M1068.5 73.01V71.50M1118.5 859.05V856.45M1118.5 849.91V847.31M1118.5 840.77V838.17M1118.5 831.63V829.03M1118.5 822.49V819.89M1118.5 813.35V810.75M1118.5 804.21V801.61M1118.5 795.07V792.47M1118.5 785.93V783.33M1118.5 776.79V774.19M1118.5 767.65V765.05M1118.5 758.51V755.91M1118.5 749.37V746.77M1118.5 740.23V737.63M1118.5 731.09V728.49M1118.5 721.95V719.35M1118.5 712.81V710.21M1118.5 703.67V701.07M1118.5 694.53V691.93M1118.5 685.39V682.79M1118.5 676.25V673.65M1118.5 667.11V664.51M1118.5 657.97V655.37M1118.5 648.83V646.23M1118.5 639.69V637.09M1118.5 630.55V627.95M1118.5 621.41V618.81M1118.5 612.27V609.67M1118.5 603.13V600.53M1118.5 593.99V591.39M1118.5 584.85V582.25M1118.5 575.71V573.11M1118.5 566.57V563.97M1118.5 557.43V554.83M1118.5 548.29V545.69M1118.5 539.15V536.55M1118.5 530.01V527.41M1118.5 520.87V518.27M1118.5 511.73V509.13M1118.5 502.59V499.99M1118.5 493.45V490.85M1118.5 484.31V481.71M1118.5 475.17V472.57M1118.5 466.03V463.43M1118.5 456.89V454.29M1118.5 447.75V445.15M1118.5 438.61V436.01M1118.5 429.47V426.87M1118.5 420.33V417.73M1118.5 411.19V408.59M1118.5 402.05V399.45M1118.5 392.91V390.31M1118.5 383.77V381.17M1118.5 374.63V372.03M1118.5 365.49V362.89M1118.5 356.35V353.75M1118.5 347.21V344.61M1118.5 338.07V335.47M1118.5 328.93V326.33M1118.5 319.79V317.19M1118.5 310.65V308.05M1118.5 301.51V298.91M1118.5 292.37V289.77M1118.5 283.23V280.63M1118.5 274.09V271.49M1118.5 264.95V262.35M1118.5 255.81V253.21M1118.5 246.67V244.07M1118.5 237.53V234.93M1118.5 228.39V225.79M1118.5 219.25V216.65M1118.5 210.11V207.51M1118.5 200.97V198.37M1118.5 191.83V189.23M1118.5 182.69V180.09M1118.5 173.55V170.95M1118.5 164.41V161.81M1118.5 155.27V152.67M1118.5 146.13V143.53M1118.5 136.99V134.39M1118.5 127.85V125.25M1118.5 118.71V116.11M1118.5 109.57V106.97M1118.5 100.43V97.83M1118.5 91.29V88.69M1118.5 82.15V79.55M1118.5 73.01V71.50M169.03 846.5H171.63M178.17 846.5H180.77M187.31 846.5H189.91M196.45 846.5H199.05M205.59 846.5H208.19M214.73 846.5H217.33M223.87 846.5H226.47M233.01 846.5H235.61M242.15 846.5H244.75M251.29 846.5H253.89M260.43 846.5H263.03M269.57 846.5H272.17M278.71 846.5H281.31M287.85 846.5H290.45M296.99 846.5H299.59M306.13 846.5H308.73M315.27 846.5H317.87M324.41 846.5H327.01M333.55 846.5H336.15M342.69 846.5H345.29M351.83 846.5H354.43M360.97 846.5H363.57M370.11 846.5H372.71M379.25 846.5H381.85M388.39 846.5H390.99M397.53 846.5H400.13M406.67 846.5H409.27M415.81 846.5H418.41M424.95 846.5H427.55M434.09 846.5H436.69M443.23 846.5H445.83M452.37 846.5H454.97M461.51 846.5H464.11M470.65 846.5H473.25M479.79 846.5H482.39M488.93 846.5H491.53M498.07 846.5H500.67M507.21 846.5H509.81M516.35 846.5H518.95M525.49 846.5H528.09M534.63 846.5H537.23M543.77 846.5H546.37M552.91 846.5H555.51M562.05 846.5H564.65M571.19 846.5H573.79M580.33 846.5H582.93M589.47 846.5H592.07M598.61 846.5H601.21M607.75 846.5H610.35M616.89 846.5H619.49M626.03 846.5H628.63M635.17 846.5H637.77M644.31 846.5H646.91M653.45 846.5H656.05M662.59 846.5H665.19M671.73 846.5H674.33M680.87 846.5H683.47M690.01 846.5H692.61M699.15 846.5H701.75M708.29 846.5H710.89M717.43 846.5H720.03M726.57 846.5H729.17M735.71 846.5H738.31M744.85 846.5H747.45M753.99 846.5H756.59M763.13 846.5H765.73M772.27 846.5H774.87M781.41 846.5H784.01M790.55 846.5H793.15M799.69 846.5H802.29M808.83 846.5H811.43M817.97 846.5H820.57M827.11 846.5H829.71M836.25 846.5H838.85M845.39 846.5H847.99M854.53 846.5H857.13M863.67 846.5H866.27M872.81 846.5H875.41M881.95 846.5H884.55M891.09 846.5H893.69M900.23 846.5H902.83M909.37 846.5H911.97M918.51 846.5H921.11M927.65 846.5H930.25M936.79 846.5H939.39M945.93 846.5H948.53M955.07 846.5H957.67M964.21 846.5H966.81M973.35 846.5H975.95M982.49 846.5H985.09M991.63 846.5H994.23M1000.77 846.5H1003.37M1009.91 846.5H1012.51M1019.05 846.5H1021.65M1028.19 846.5H1030.79M1037.33 846.5H1039.93M1046.47 846.5H1049.07M1055.61 846.5H1058.21M1064.75 846.5H1067.35M1073.89 846.5H1076.49M1083.03 846.5H1085.63M1092.17 846.5H1094.77M1101.31 846.5H1103.91M1110.45 846.5H1113.05M1119.59 846.5H1122.19M1128.73 846.5H1131.33M1137.87 846.5H1140.47M1147.01 846.5H1149.61M1156.15 846.5H1158.75M1165.29 846.5H1167.89M169.03 830.5H171.63M178.17 830.5H180.77M187.31 830.5H189.91M196.45 830.5H199.05M205.59 830.5H208.19M214.73 830.5H217.33M223.87 830.5H226.47M233.01 830.5H235.61M242.15 830.5H244.75M251.29 830.5H253.89M260.43 830.5H263.03M269.57 830.5H272.17M278.71 830.5H281.31M287.85 830.5H290.45M296.99 830.5H299.59M306.13 830.5H308.73M315.27 830.5H317.87M324.41 830.5H327.01M333.55 830.5H336.15M342.69 830.5H345.29M351.83 830.5H354.43M360.97 830.5H363.57M370.11 830.5H372.71M379.25 830.5H381.85M388.39 830.5H390.99M397.53 830.5H400.13M406.67 830.5H409.27M415.81 830.5H418.41M424.95 830.5H427.55M434.09 830.5H436.69M443.23 830.5H445.83M452.37 830.5H454.97M461.51 830.5H464.11M470.65 830.5H473.25M479.79 830.5H482.39M488.93 830.5H491.53M498.07 830.5H500.67M507.21 830.5H509.81M516.35 830.5H518.95M525.49 830.5H528.09M534.63 830.5H537.23M543.77 830.5H546.37M552.91 830.5H555.51M562.05 830.5H564.65M571.19 830.5H573.79M580.33 830.5H582.93M589.47 830.5H592.07M598.61 830.5H601.21M607.75 830.5H610.35M616.89 830.5H619.49M626.03 830.5H628.63M635.17 830.5H637.77M644.31 830.5H646.91M653.45 830.5H656.05M662.59 830.5H665.19M671.73 830.5H674.33M680.87 830.5H683.47M690.01 830.5H692.61M699.15 830.5H701.75M708.29 830.5H710.89M717.43 830.5H720.03M726.57 830.5H729.17M735.71 830.5H738.31M744.85 830.5H747.45M753.99 830.5H756.59M763.13 830.5H765.73M772.27 830.5H774.87M781.41 830.5H784.01M790.55 830.5H793.15M799.69 830.5H802.29M808.83 830.5H811.43M817.97 830.5H820.57M827.11 830.5H829.71M836.25 830.5H838.85M845.39 830.5H847.99M854.53 830.5H857.13M863.67 830.5H866.27M872.81 830.5H875.41M881.95 830.5H884.55M891.09 830.5H893.69M900.23 830.5H902.83M909.37 830.5H911.97M918.51 830.5H921.11M927.65 830.5H930.25M936.79 830.5H939.39M945.93 830.5H948.53M955.07 830.5H957.67M964.21 830.5H966.81M973.35 830.5H975.95M982.49 830.5H985.09M991.63 830.5H994.23M1000.77 830.5H1003.37M1009.91 830.5H1012.51M1019.05 830.5H1021.65M1028.19 830.5H1030.79M1037.33 830.5H1039.93M1046.47 830.5H1049.07M1055.61 830.5H1058.21M1064.75 830.5H1067.35M1073.89 830.5H1076.49M1083.03 830.5H1085.63M1092.17 830.5H1094.77M1101.31 830.5H1103.91M1110.45 830.5H1113.05M1119.59 830.5H1122.19M1128.73 830.5H1131.33M1137.87 830.5H1140.47M1147.01 830.5H1149.61M1156.15 830.5H1158.75M1165.29 830.5H1167.89M169.03 814.5H171.63M178.17 814.5H180.77M187.31 814.5H189.91M196.45 814.5H199.05M205.59 814.5H208.19M214.73 814.5H217.33M223.87 814.5H226.47M233.01 814.5H235.61M242.15 814.5H244.75M251.29 814.5H253.89M260.43 814.5H263.03M269.57 814.5H272.17M278.71 814.5H281.31M287.85 814.5H290.45M296.99 814.5H299.59M306.13 814.5H308.73M315.27 814.5H317.87M324.41 814.5H327.01M333.55 814.5H336.15M342.69 814.5H345.29M351.83 814.5H354.43M360.97 814.5H363.57M370.11 814.5H372.71M379.25 814.5H381.85M388.39 814.5H390.99M397.53 814.5H400.13M406.67 814.5H409.27M415.81 814.5H418.41M424.95 814.5H427.55M434.09 814.5H436.69M443.23 814.5H445.83M452.37 814.5H454.97M461.51 814.5H464.11M470.65 814.5H473.25M479.79 814.5H482.39M488.93 814.5H491.53M498.07 814.5H500.67M507.21 814.5H509.81M516.35 814.5H518.95M525.49 814.5H528.09M534.63 814.5H537.23M543.77 814.5H546.37M552.91 814.5H555.51M562.05 814.5H564.65M571.19 814.5H573.79M580.33 814.5H582.93M589.47 814.5H592.07M598.61 814.5H601.21M607.75 814.5H610.35M616.89 814.5H619.49M626.03 814.5H628.63M635.17 814.5H637.77M644.31 814.5H646.91M653.45 814.5H656.05M662.59 814.5H665.19M671.73 814.5H674.33M680.87 814.5H683.47M690.01 814.5H692.61M699.15 814.5H701.75M708.29 814.5H710.89M717.43 814.5H720.03M726.57 814.5H729.17M735.71 814.5H738.31M744.85 814.5H747.45M753.99 814.5H756.59M763.13 814.5H765.73M772.27 814.5H774.87M781.41 814.5H784.01M790.55 814.5H793.15M799.69 814.5H802.29M808.83 814.5H811.43M817.97 814.5H820.57M827.11 814.5H829.71M836.25 814.5H838.85M845.39 814.5H847.99M854.53 814.5H857.13M863.67 814.5H866.27M872.81 814.5H875.41M881.95 814.5H884.55M891.09 814.5H893.69M900.23 814.5H902.83M909.37 814.5H911.97M918.51 814.5H921.11M927.65 814.5H930.25M936.79 814.5H939.39M945.93 814.5H948.53M955.07 814.5H957.67M964.21 814.5H966.81M973.35 814.5H975.95M982.49 814.5H985.09M991.63 814.5H994.23M1000.77 814.5H1003.37M1009.91 814.5H1012.51M1019.05 814.5H1021.65M1028.19 814.5H1030.79M1037.33 814.5H1039.93M1046.47 814.5H1049.07M1055.61 814.5H1058.21M1064.75 814.5H1067.35M1073.89 814.5H1076.49M1083.03 814.5H1085.63M1092.17 814.5H1094.77M1101.31 814.5H1103.91M1110.45 814.5H1113.05M1119.59 814.5H1122.19M1128.73 814.5H1131.33M1137.87 814.5H1140.47M1147.01 814.5H1149.61M1156.15 814.5H1158.75M1165.29 814.5H1167.89M169.03 798.5H171.63M178.17 798.5H180.77M187.31 798.5H189.91M196.45 798.5H199.05M205.59 798.5H208.19M214.73 798.5H217.33M223.87 798.5H226.47M233.01 798.5H235.61M242.15 798.5H244.75M251.29 798.5H253.89M260.43 798.5H263.03M269.57 798.5H272.17M278.71 798.5H281.31M287.85 798.5H290.45M296.99 798.5H299.59M306.13 798.5H308.73M315.27 798.5H317.87M324.41 798.5H327.01M333.55 798.5H336.15M342.69 798.5H345.29M351.83 798.5H354.43M360.97 798.5H363.57M370.11 798.5H372.71M379.25 798.5H381.85M388.39 798.5H390.99M397.53 798.5H400.13M406.67 798.5H409.27M415.81 798.5H418.41M424.95 798.5H427.55M434.09 798.5H436.69M443.23 798.5H445.83M452.37 798.5H454.97M461.51 798.5H464.11M470.65 798.5H473.25M479.79 798.5H482.39M488.93 798.5H491.53M498.07 798.5H500.67M507.21 798.5H509.81M516.35 798.5H518.95M525.49 798.5H528.09M534.63 798.5H537.23M543.77 798.5H546.37M552.91 798.5H555.51M562.05 798.5H564.65M571.19 798.5H573.79M580.33 798.5H582.93M589.47 798.5H592.07M598.61 798.5H601.21M607.75 798.5H610.35M616.89 798.5H619.49M626.03 798.5H628.63M635.17 798.5H637.77M644.31 798.5H646.91M653.45 798.5H656.05M662.59 798.5H665.19M671.73 798.5H674.33M680.87 798.5H683.47M690.01 798.5H692.61M699.15 798.5H701.75M708.29 798.5H710.89M717.43 798.5H720.03M726.57 798.5H729.17M735.71 798.5H738.31M744.85 798.5H747.45M753.99 798.5H756.59M763.13 798.5H765.73M772.27 798.5H774.87M781.41 798.5H784.01M790.55 798.5H793.15M799.69 798.5H802.29M808.83 798.5H811.43M817.97 798.5H820.57M827.11 798.5H829.71M836.25 798.5H838.85M845.39 798.5H847.99M854.53 798.5H857.13M863.67 798.5H866.27M872.81 798.5H875.41M881.95 798.5H884.55M891.09 798.5H893.69M900.23 798.5H902.83M909.37 798.5H911.97M918.51 798.5H921.11M927.65 798.5H930.25M936.79 798.5H939.39M945.93 798.5H948.53M955.07 798.5H957.67M964.21 798.5H966.81M973.35 798.5H975.95M982.49 798.5H985.09M991.63 798.5H994.23M1000.77 798.5H1003.37M1009.91 798.5H1012.51M1019.05 798.5H1021.65M1028.19 798.5H1030.79M1037.33 798.5H1039.93M1046.47 798.5H1049.07M1055.61 798.5H1058.21M1064.75 798.5H1067.35M1073.89 798.5H1076.49M1083.03 798.5H1085.63M1092.17 798.5H1094.77M1101.31 798.5H1103.91M1110.45 798.5H1113.05M1119.59 798.5H1122.19M1128.73 798.5H1131.33M1137.87 798.5H1140.47M1147.01 798.5H1149.61M1156.15 798.5H1158.75M1165.29 798.5H1167.89M169.03 782.5H171.63M178.17 782.5H180.77M187.31 782.5H189.91M196.45 782.5H199.05M205.59 782.5H208.19M214.73 782.5H217.33M223.87 782.5H226.47M233.01 782.5H235.61M242.15 782.5H244.75M251.29 782.5H253.89M260.43 782.5H263.03M269.57 782.5H272.17M278.71 782.5H281.31M287.85 782.5H290.45M296.99 782.5H299.59M306.13 782.5H308.73M315.27 782.5H317.87M324.41 782.5H327.01M333.55 782.5H336.15M342.69 782.5H345.29M351.83 782.5H354.43M360.97 782.5H363.57M370.11 782.5H372.71M379.25 782.5H381.85M388.39 782.5H390.99M397.53 782.5H400.13M406.67 782.5H409.27M415.81 782.5H418.41M424.95 782.5H427.55M434.09 782.5H436.69M443.23 782.5H445.83M452.37 782.5H454.97M461.51 782.5H464.11M470.65 782.5H473.25M479.79 782.5H482.39M488.93 782.5H491.53M498.07 782.5H500.67M507.21 782.5H509.81M516.35 782.5H518.95M525.49 782.5H528.09M534.63 782.5H537.23M543.77 782.5H546.37M552.91 782.5H555.51M562.05 782.5H564.65M571.19 782.5H573.79M580.33 782.5H582.93M589.47 782.5H592.07M598.61 782.5H601.21M607.75 782.5H610.35M616.89 782.5H619.49M626.03 782.5H628.63M635.17 782.5H637.77M644.31 782.5H646.91M653.45 782.5H656.05M662.59 782.5H665.19M671.73 782.5H674.33M680.87 782.5H683.47M690.01 782.5H692.61M699.15 782.5H701.75M708.29 782.5H710.89M717.43 782.5H720.03M726.57 782.5H729.17M735.71 782.5H738.31M744.85 782.5H747.45M753.99 782.5H756.59M763.13 782.5H765.73M772.27 782.5H774.87M781.41 782.5H784.01M790.55 782.5H793.15M799.69 782.5H802.29M808.83 782.5H811.43M817.97 782.5H820.57M827.11 782.5H829.71M836.25 782.5H838.85M845.39 782.5H847.99M854.53 782.5H857.13M863.67 782.5H866.27M872.81 782.5H875.41M881.95 782.5H884.55M891.09 782.5H893.69M900.23 782.5H902.83M909.37 782.5H911.97M918.51 782.5H921.11M927.65 782.5H930.25M936.79 782.5H939.39M945.93 782.5H948.53M955.07 782.5H957.67M964.21 782.5H966.81M973.35 782.5H975.95M982.49 782.5H985.09M991.63 782.5H994.23M1000.77 782.5H1003.37M1009.91 782.5H1012.51M1019.05 782.5H1021.65M1028.19 782.5H1030.79M1037.33 782.5H1039.93M1046.47 782.5H1049.07M1055.61 782.5H1058.21M1064.75 782.5H1067.35M1073.89 782.5H1076.49M1083.03 782.5H1085.63M1092.17 782.5H1094.77M1101.31 782.5H1103.91M1110.45 782.5H1113.05M1119.59 782.5H1122.19M1128.73 782.5H1131.33M1137.87 782.5H1140.47M1147.01 782.5H1149.61M1156.15 782.5H1158.75M1165.29 782.5H1167.89M169.03 767.5H171.63M178.17 767.5H180.77M187.31 767.5H189.91M196.45 767.5H199.05M205.59 767.5H208.19M214.73 767.5H217.33M223.87 767.5H226.47M233.01 767.5H235.61M242.15 767.5H244.75M251.29 767.5H253.89M260.43 767.5H263.03M269.57 767.5H272.17M278.71 767.5H281.31M287.85 767.5H290.45M296.99 767.5H299.59M306.13 767.5H308.73M315.27 767.5H317.87M324.41 767.5H327.01M333.55 767.5H336.15M342.69 767.5H345.29M351.83 767.5H354.43M360.97 767.5H363.57M370.11 767.5H372.71M379.25 767.5H381.85M388.39 767.5H390.99M397.53 767.5H400.13M406.67 767.5H409.27M415.81 767.5H418.41M424.95 767.5H427.55M434.09 767.5H436.69M443.23 767.5H445.83M452.37 767.5H454.97M461.51 767.5H464.11M470.65 767.5H473.25M479.79 767.5H482.39M488.93 767.5H491.53M498.07 767.5H500.67M507.21 767.5H509.81M516.35 767.5H518.95M525.49 767.5H528.09M534.63 767.5H537.23M543.77 767.5H546.37M552.91 767.5H555.51M562.05 767.5H564.65M571.19 767.5H573.79M580.33 767.5H582.93M589.47 767.5H592.07M598.61 767.5H601.21M607.75 767.5H610.35M616.89 767.5H619.49M626.03 767.5H628.63M635.17 767.5H637.77M644.31 767.5H646.91M653.45 767.5H656.05M662.59 767.5H665.19M671.73 767.5H674.33M680.87 767.5H683.47M690.01 767.5H692.61M699.15 767.5H701.75M708.29 767.5H710.89M717.43 767.5H720.03M726.57 767.5H729.17M735.71 767.5H738.31M744.85 767.5H747.45M753.99 767.5H756.59M763.13 767.5H765.73M772.27 767.5H774.87M781.41 767.5H784.01M790.55 767.5H793.15M799.69 767.5H802.29M808.83 767.5H811.43M817.97 767.5H820.57M827.11 767.5H829.71M836.25 767.5H838.85M845.39 767.5H847.99M854.53 767.5H857.13M863.67 767.5H866.27M872.81 767.5H875.41M881.95 767.5H884.55M891.09 767.5H893.69M900.23 767.5H902.83M909.37 767.5H911.97M918.51 767.5H921.11M927.65 767.5H930.25M936.79 767.5H939.39M945.93 767.5H948.53M955.07 767.5H957.67M964.21 767.5H966.81M973.35 767.5H975.95M982.49 767.5H985.09M991.63 767.5H994.23M1000.77 767.5H1003.37M1009.91 767.5H1012.51M1019.05 767.5H1021.65M1028.19 767.5H1030.79M1037.33 767.5H1039.93M1046.47 767.5H1049.07M1055.61 767.5H1058.21M1064.75 767.5H1067.35M1073.89 767.5H1076.49M1083.03 767.5H1085.63M1092.17 767.5H1094.77M1101.31 767.5H1103.91M1110.45 767.5H1113.05M1119.59 767.5H1122.19M1128.73 767.5H1131.33M1137.87 767.5H1140.47M1147.01 767.5H1149.61M1156.15 767.5H1158.75M1165.29 767.5H1167.89M169.03 751.5H171.63M178.17 751.5H180.77M187.31 751.5H189.91M196.45 751.5H199.05M205.59 751.5H208.19M214.73 751.5H217.33M223.87 751.5H226.47M233.01 751.5H235.61M242.15 751.5H244.75M251.29 751.5H253.89M260.43 751.5H263.03M269.57 751.5H272.17M278.71 751.5H281.31M287.85 751.5H290.45M296.99 751.5H299.59M306.13 751.5H308.73M315.27 751.5H317.87M324.41 751.5H327.01M333.55 751.5H336.15M342.69 751.5H345.29M351.83 751.5H354.43M360.97 751.5H363.57M370.11 751.5H372.71M379.25 751.5H381.85M388.39 751.5H390.99M397.53 751.5H400.13M406.67 751.5H409.27M415.81 751.5H418.41M424.95 751.5H427.55M434.09 751.5H436.69M443.23 751.5H445.83M452.37 751.5H454.97M461.51 751.5H464.11M470.65 751.5H473.25M479.79 751.5H482.39M488.93 751.5H491.53M498.07 751.5H500.67M507.21 751.5H509.81M516.35 751.5H518.95M525.49 751.5H528.09M534.63 751.5H537.23M543.77 751.5H546.37M552.91 751.5H555.51M562.05 751.5H564.65M571.19 751.5H573.79M580.33 751.5H582.93M589.47 751.5H592.07M598.61 751.5H601.21M607.75 751.5H610.35M616.89 751.5H619.49M626.03 751.5H628.63M635.17 751.5H637.77M644.31 751.5H646.91M653.45 751.5H656.05M662.59 751.5H665.19M671.73 751.5H674.33M680.87 751.5H683.47M690.01 751.5H692.61M699.15 751.5H701.75M708.29 751.5H710.89M717.43 751.5H720.03M726.57 751.5H729.17M735.71 751.5H738.31M744.85 751.5H747.45M753.99 751.5H756.59M763.13 751.5H765.73M772.27 751.5H774.87M781.41 751.5H784.01M790.55 751.5H793.15M799.69 751.5H802.29M808.83 751.5H811.43M817.97 751.5H820.57M827.11 751.5H829.71M836.25 751.5H838.85M845.39 751.5H847.99M854.53 751.5H857.13M863.67 751.5H866.27M872.81 751.5H875.41M881.95 751.5H884.55M891.09 751.5H893.69M900.23 751.5H902.83M909.37 751.5H911.97M918.51 751.5H921.11M927.65 751.5H930.25M936.79 751.5H939.39M945.93 751.5H948.53M955.07 751.5H957.67M964.21 751.5H966.81M973.35 751.5H975.95M982.49 751.5H985.09M991.63 751.5H994.23M1000.77 751.5H1003.37M1009.91 751.5H1012.51M1019.05 751.5H1021.65M1028.19 751.5H1030.79M1037.33 751.5H1039.93M1046.47 751.5H1049.07M1055.61 751.5H1058.21M1064.75 751.5H1067.35M1073.89 751.5H1076.49M1083.03 751.5H1085.63M1092.17 751.5H1094.77M1101.31 751.5H1103.91M1110.45 751.5H1113.05M1119.59 751.5H1122.19M1128.73 751.5H1131.33M1137.87 751.5H1140.47M1147.01 751.5H1149.61M1156.15 751.5H1158.75M1165.29 751.5H1167.89M169.03 735.5H171.63M178.17 735.5H180.77M187.31 735.5H189.91M196.45 735.5H199.05M205.59 735.5H208.19M214.73 735.5H217.33M223.87 735.5H226.47M233.01 735.5H235.61M242.15 735.5H244.75M251.29 735.5H253.89M260.43 735.5H263.03M269.57 735.5H272.17M278.71 735.5H281.31M287.85 735.5H290.45M296.99 735.5H299.59M306.13 735.5H308.73M315.27 735.5H317.87M324.41 735.5H327.01M333.55 735.5H336.15M342.69 735.5H345.29M351.83 735.5H354.43M360.97 735.5H363.57M370.11 735.5H372.71M379.25 735.5H381.85M388.39 735.5H390.99M397.53 735.5H400.13M406.67 735.5H409.27M415.81 735.5H418.41M424.95 735.5H427.55M434.09 735.5H436.69M443.23 735.5H445.83M452.37 735.5H454.97M461.51 735.5H464.11M470.65 735.5H473.25M479.79 735.5H482.39M488.93 735.5H491.53M498.07 735.5H500.67M507.21 735.5H509.81M516.35 735.5H518.95M525.49 735.5H528.09M534.63 735.5H537.23M543.77 735.5H546.37M552.91 735.5H555.51M562.05 735.5H564.65M571.19 735.5H573.79M580.33 735.5H582.93M589.47 735.5H592.07M598.61 735.5H601.21M607.75 735.5H610.35M616.89 735.5H619.49M626.03 735.5H628.63M635.17 735.5H637.77M644.31 735.5H646.91M653.45 735.5H656.05M662.59 735.5H665.19M671.73 735.5H674.33M680.87 735.5H683.47M690.01 735.5H692.61M699.15 735.5H701.75M708.29 735.5H710.89M717.43 735.5H720.03M726.57 735.5H729.17M735.71 735.5H738.31M744.85 735.5H747.45M753.99 735.5H756.59M763.13 735.5H765.73M772.27 735.5H774.87M781.41 735.5H784.01M790.55 735.5H793.15M799.69 735.5H802.29M808.83 735.5H811.43M817.97 735.5H820.57M827.11 735.5H829.71M836.25 735.5H838.85M845.39 735.5H847.99M854.53 735.5H857.13M863.67 735.5H866.27M872.81 735.5H875.41M881.95 735.5H884.55M891.09 735.5H893.69M900.23 735.5H902.83M909.37 735.5H911.97M918.51 735.5H921.11M927.65 735.5H930.25M936.79 735.5H939.39M945.93 735.5H948.53M955.07 735.5H957.67M964.21 735.5H966.81M973.35 735.5H975.95M982.49 735.5H985.09M991.63 735.5H994.23M1000.77 735.5H1003.37M1009.91 735.5H1012.51M1019.05 735.5H1021.65M1028.19 735.5H1030.79M1037.33 735.5H1039.93M1046.47 735.5H1049.07M1055.61 735.5H1058.21M1064.75 735.5H1067.35M1073.89 735.5H1076.49M1083.03 735.5H1085.63M1092.17 735.5H1094.77M1101.31 735.5H1103.91M1110.45 735.5H1113.05M1119.59 735.5H1122.19M1128.73 735.5H1131.33M1137.87 735.5H1140.47M1147.01 735.5H1149.61M1156.15 735.5H1158.75M1165.29 735.5H1167.89M169.03 719.5H171.63M178.17 719.5H180.77M187.31 719.5H189.91M196.45 719.5H199.05M205.59 719.5H208.19M214.73 719.5H217.33M223.87 719.5H226.47M233.01 719.5H235.61M242.15 719.5H244.75M251.29 719.5H253.89M260.43 719.5H263.03M269.57 719.5H272.17M278.71 719.5H281.31M287.85 719.5H290.45M296.99 719.5H299.59M306.13 719.5H308.73M315.27 719.5H317.87M324.41 719.5H327.01M333.55 719.5H336.15M342.69 719.5H345.29M351.83 719.5H354.43M360.97 719.5H363.57M370.11 719.5H372.71M379.25 719.5H381.85M388.39 719.5H390.99M397.53 719.5H400.13M406.67 719.5H409.27M415.81 719.5H418.41M424.95 719.5H427.55M434.09 719.5H436.69M443.23 719.5H445.83M452.37 719.5H454.97M461.51 719.5H464.11M470.65 719.5H473.25M479.79 719.5H482.39M488.93 719.5H491.53M498.07 719.5H500.67M507.21 719.5H509.81M516.35 719.5H518.95M525.49 719.5H528.09M534.63 719.5H537.23M543.77 719.5H546.37M552.91 719.5H555.51M562.05 719.5H564.65M571.19 719.5H573.79M580.33 719.5H582.93M589.47 719.5H592.07M598.61 719.5H601.21M607.75 719.5H610.35M616.89 719.5H619.49M626.03 719.5H628.63M635.17 719.5H637.77M644.31 719.5H646.91M653.45 719.5H656.05M662.59 719.5H665.19M671.73 719.5H674.33M680.87 719.5H683.47M690.01 719.5H692.61M699.15 719.5H701.75M708.29 719.5H710.89M717.43 719.5H720.03M726.57 719.5H729.17M735.71 719.5H738.31M744.85 719.5H747.45M753.99 719.5H756.59M763.13 719.5H765.73M772.27 719.5H774.87M781.41 719.5H784.01M790.55 719.5H793.15M799.69 719.5H802.29M808.83 719.5H811.43M817.97 719.5H820.57M827.11 719.5H829.71M836.25 719.5H838.85M845.39 719.5H847.99M854.53 719.5H857.13M863.67 719.5H866.27M872.81 719.5H875.41M881.95 719.5H884.55M891.09 719.5H893.69M900.23 719.5H902.83M909.37 719.5H911.97M918.51 719.5H921.11M927.65 719.5H930.25M936.79 719.5H939.39M945.93 719.5H948.53M955.07 719.5H957.67M964.21 719.5H966.81M973.35 719.5H975.95M982.49 719.5H985.09M991.63 719.5H994.23M1000.77 719.5H1003.37M1009.91 719.5H1012.51M1019.05 719.5H1021.65M1028.19 719.5H1030.79M1037.33 719.5H1039.93M1046.47 719.5H1049.07M1055.61 719.5H1058.21M1064.75 719.5H1067.35M1073.89 719.5H1076.49M1083.03 719.5H1085.63M1092.17 719.5H1094.77M1101.31 719.5H1103.91M1110.45 719.5H1113.05M1119.59 719.5H1122.19M1128.73 719.5H1131.33M1137.87 719.5H1140.47M1147.01 719.5H1149.61M1156.15 719.5H1158.75M1165.29 719.5H1167.89M169.03 703.5H171.63M178.17 703.5H180.77M187.31 703.5H189.91M196.45 703.5H199.05M205.59 703.5H208.19M214.73 703.5H217.33M223.87 703.5H226.47M233.01 703.5H235.61M242.15 703.5H244.75M251.29 703.5H253.89M260.43 703.5H263.03M269.57 703.5H272.17M278.71 703.5H281.31M287.85 703.5H290.45M296.99 703.5H299.59M306.13 703.5H308.73M315.27 703.5H317.87M324.41 703.5H327.01M333.55 703.5H336.15M342.69 703.5H345.29M351.83 703.5H354.43M360.97 703.5H363.57M370.11 703.5H372.71M379.25 703.5H381.85M388.39 703.5H390.99M397.53 703.5H400.13M406.67 703.5H409.27M415.81 703.5H418.41M424.95 703.5H427.55M434.09 703.5H436.69M443.23 703.5H445.83M452.37 703.5H454.97M461.51 703.5H464.11M470.65 703.5H473.25M479.79 703.5H482.39M488.93 703.5H491.53M498.07 703.5H500.67M507.21 703.5H509.81M516.35 703.5H518.95M525.49 703.5H528.09M534.63 703.5H537.23M543.77 703.5H546.37M552.91 703.5H555.51M562.05 703.5H564.65M571.19 703.5H573.79M580.33 703.5H582.93M589.47 703.5H592.07M598.61 703.5H601.21M607.75 703.5H610.35M616.89 703.5H619.49M626.03 703.5H628.63M635.17 703.5H637.77M644.31 703.5H646.91M653.45 703.5H656.05M662.59 703.5H665.19M671.73 703.5H674.33M680.87 703.5H683.47M690.01 703.5H692.61M699.15 703.5H701.75M708.29 703.5H710.89M717.43 703.5H720.03M726.57 703.5H729.17M735.71 703.5H738.31M744.85 703.5H747.45M753.99 703.5H756.59M763.13 703.5H765.73M772.27 703.5H774.87M781.41 703.5H784.01M790.55 703.5H793.15M799.69 703.5H802.29M808.83 703.5H811.43M817.97 703.5H820.57M827.11 703.5H829.71M836.25 703.5H838.85M845.39 703.5H847.99M854.53 703.5H857.13M863.67 703.5H866.27M872.81 703.5H875.41M881.95 703.5H884.55M891.09 703.5H893.69M900.23 703.5H902.83M909.37 703.5H911.97M918.51 703.5H921.11M927.65 703.5H930.25M936.79 703.5H939.39M945.93 703.5H948.53M955.07 703.5H957.67M964.21 703.5H966.81M973.35 703.5H975.95M982.49 703.5H985.09M991.63 703.5H994.23M1000.77 703.5H1003.37M1009.91 703.5H1012.51M1019.05 703.5H1021.65M1028.19 703.5H1030.79M1037.33 703.5H1039.93M1046.47 703.5H1049.07M1055.61 703.5H1058.21M1064.75 703.5H1067.35M1073.89 703.5H1076.49M1083.03 703.5H1085.63M1092.17 703.5H1094.77M1101.31 703.5H1103.91M1110.45 703.5H1113.05M1119.59 703.5H1122.19M1128.73 703.5H1131.33M1137.87 703.5H1140.47M1147.01 703.5H1149.61M1156.15 703.5H1158.75M1165.29 703.5H1167.89M169.03 687.5H171.63M178.17 687.5H180.77M187.31 687.5H189.91M196.45 687.5H199.05M205.59 687.5H208.19M214.73 687.5H217.33M223.87 687.5H226.47M233.01 687.5H235.61M242.15 687.5H244.75M251.29 687.5H253.89M260.43 687.5H263.03M269.57 687.5H272.17M278.71 687.5H281.31M287.85 687.5H290.45M296.99 687.5H299.59M306.13 687.5H308.73M315.27 687.5H317.87M324.41 687.5H327.01M333.55 687.5H336.15M342.69 687.5H345.29M351.83 687.5H354.43M360.97 687.5H363.57M370.11 687.5H372.71M379.25 687.5H381.85M388.39 687.5H390.99M397.53 687.5H400.13M406.67 687.5H409.27M415.81 687.5H418.41M424.95 687.5H427.55M434.09 687.5H436.69M443.23 687.5H445.83M452.37 687.5H454.97M461.51 687.5H464.11M470.65 687.5H473.25M479.79 687.5H482.39M488.93 687.5H491.53M498.07 687.5H500.67M507.21 687.5H509.81M516.35 687.5H518.95M525.49 687.5H528.09M534.63 687.5H537.23M543.77 687.5H546.37M552.91 687.5H555.51M562.05 687.5H564.65M571.19 687.5H573.79M580.33 687.5H582.93M589.47 687.5H592.07M598.61 687.5H601.21M607.75 687.5H610.35M616.89 687.5H619.49M626.03 687.5H628.63M635.17 687.5H637.77M644.31 687.5H646.91M653.45 687.5H656.05M662.59 687.5H665.19M671.73 687.5H674.33M680.87 687.5H683.47M690.01 687.5H692.61M699.15 687.5H701.75M708.29 687.5H710.89M717.43 687.5H720.03M726.57 687.5H729.17M735.71 687.5H738.31M744.85 687.5H747.45M753.99 687.5H756.59M763.13 687.5H765.73M772.27 687.5H774.87M781.41 687.5H784.01M790.55 687.5H793.15M799.69 687.5H802.29M808.83 687.5H811.43M817.97 687.5H820.57M827.11 687.5H829.71M836.25 687.5H838.85M845.39 687.5H847.99M854.53 687.5H857.13M863.67 687.5H866.27M872.81 687.5H875.41M881.95 687.5H884.55M891.09 687.5H893.69M900.23 687.5H902.83M909.37 687.5H911.97M918.51 687.5H921.11M927.65 687.5H930.25M936.79 687.5H939.39M945.93 687.5H948.53M955.07 687.5H957.67M964.21 687.5H966.81M973.35 687.5H975.95M982.49 687.5H985.09M991.63 687.5H994.23M1000.77 687.5H1003.37M1009.91 687.5H1012.51M1019.05 687.5H1021.65M1028.19 687.5H1030.79M1037.33 687.5H1039.93M1046.47 687.5H1049.07M1055.61 687.5H1058.21M1064.75 687.5H1067.35M1073.89 687.5H1076.49M1083.03 687.5H1085.63M1092.17 687.5H1094.77M1101.31 687.5H1103.91M1110.45 687.5H1113.05M1119.59 687.5H1122.19M1128.73 687.5H1131.33M1137.87 687.5H1140.47M1147.01 687.5H1149.61M1156.15 687.5H1158.75M1165.29 687.5H1167.89M169.03 672.5H171.63M178.17 672.5H180.77M187.31 672.5H189.91M196.45 672.5H199.05M205.59 672.5H208.19M214.73 672.5H217.33M223.87 672.5H226.47M233.01 672.5H235.61M242.15 672.5H244.75M251.29 672.5H253.89M260.43 672.5H263.03M269.57 672.5H272.17M278.71 672.5H281.31M287.85 672.5H290.45M296.99 672.5H299.59M306.13 672.5H308.73M315.27 672.5H317.87M324.41 672.5H327.01M333.55 672.5H336.15M342.69 672.5H345.29M351.83 672.5H354.43M360.97 672.5H363.57M370.11 672.5H372.71M379.25 672.5H381.85M388.39 672.5H390.99M397.53 672.5H400.13M406.67 672.5H409.27M415.81 672.5H418.41M424.95 672.5H427.55M434.09 672.5H436.69M443.23 672.5H445.83M452.37 672.5H454.97M461.51 672.5H464.11M470.65 672.5H473.25M479.79 672.5H482.39M488.93 672.5H491.53M498.07 672.5H500.67M507.21 672.5H509.81M516.35 672.5H518.95M525.49 672.5H528.09M534.63 672.5H537.23M543.77 672.5H546.37M552.91 672.5H555.51M562.05 672.5H564.65M571.19 672.5H573.79M580.33 672.5H582.93M589.47 672.5H592.07M598.61 672.5H601.21M607.75 672.5H610.35M616.89 672.5H619.49M626.03 672.5H628.63M635.17 672.5H637.77M644.31 672.5H646.91M653.45 672.5H656.05M662.59 672.5H665.19M671.73 672.5H674.33M680.87 672.5H683.47M690.01 672.5H692.61M699.15 672.5H701.75M708.29 672.5H710.89M717.43 672.5H720.03M726.57 672.5H729.17M735.71 672.5H738.31M744.85 672.5H747.45M753.99 672.5H756.59M763.13 672.5H765.73M772.27 672.5H774.87M781.41 672.5H784.01M790.55 672.5H793.15M799.69 672.5H802.29M808.83 672.5H811.43M817.97 672.5H820.57M827.11 672.5H829.71M836.25 672.5H838.85M845.39 672.5H847.99M854.53 672.5H857.13M863.67 672.5H866.27M872.81 672.5H875.41M881.95 672.5H884.55M891.09 672.5H893.69M900.23 672.5H902.83M909.37 672.5H911.97M918.51 672.5H921.11M927.65 672.5H930.25M936.79 672.5H939.39M945.93 672.5H948.53M955.07 672.5H957.67M964.21 672.5H966.81M973.35 672.5H975.95M982.49 672.5H985.09M991.63 672.5H994.23M1000.77 672.5H1003.37M1009.91 672.5H1012.51M1019.05 672.5H1021.65M1028.19 672.5H1030.79M1037.33 672.5H1039.93M1046.47 672.5H1049.07M1055.61 672.5H1058.21M1064.75 672.5H1067.35M1073.89 672.5H1076.49M1083.03 672.5H1085.63M1092.17 672.5H1094.77M1101.31 672.5H1103.91M1110.45 672.5H1113.05M1119.59 672.5H1122.19M1128.73 672.5H1131.33M1137.87 672.5H1140.47M1147.01 672.5H1149.61M1156.15 672.5H1158.75M1165.29 672.5H1167.89M169.03 656.5H171.63M178.17 656.5H180.77M187.31 656.5H189.91M196.45 656.5H199.05M205.59 656.5H208.19M214.73 656.5H217.33M223.87 656.5H226.47M233.01 656.5H235.61M242.15 656.5H244.75M251.29 656.5H253.89M260.43 656.5H263.03M269.57 656.5H272.17M278.71 656.5H281.31M287.85 656.5H290.45M296.99 656.5H299.59M306.13 656.5H308.73M315.27 656.5H317.87M324.41 656.5H327.01M333.55 656.5H336.15M342.69 656.5H345.29M351.83 656.5H354.43M360.97 656.5H363.57M370.11 656.5H372.71M379.25 656.5H381.85M388.39 656.5H390.99M397.53 656.5H400.13M406.67 656.5H409.27M415.81 656.5H418.41M424.95 656.5H427.55M434.09 656.5H436.69M443.23 656.5H445.83M452.37 656.5H454.97M461.51 656.5H464.11M470.65 656.5H473.25M479.79 656.5H482.39M488.93 656.5H491.53M498.07 656.5H500.67M507.21 656.5H509.81M516.35 656.5H518.95M525.49 656.5H528.09M534.63 656.5H537.23M543.77 656.5H546.37M552.91 656.5H555.51M562.05 656.5H564.65M571.19 656.5H573.79M580.33 656.5H582.93M589.47 656.5H592.07M598.61 656.5H601.21M607.75 656.5H610.35M616.89 656.5H619.49M626.03 656.5H628.63M635.17 656.5H637.77M644.31 656.5H646.91M653.45 656.5H656.05M662.59 656.5H665.19M671.73 656.5H674.33M680.87 656.5H683.47M690.01 656.5H692.61M699.15 656.5H701.75M708.29 656.5H710.89M717.43 656.5H720.03M726.57 656.5H729.17M735.71 656.5H738.31M744.85 656.5H747.45M753.99 656.5H756.59M763.13 656.5H765.73M772.27 656.5H774.87M781.41 656.5H784.01M790.55 656.5H793.15M799.69 656.5H802.29M808.83 656.5H811.43M817.97 656.5H820.57M827.11 656.5H829.71M836.25 656.5H838.85M845.39 656.5H847.99M854.53 656.5H857.13M863.67 656.5H866.27M872.81 656.5H875.41M881.95 656.5H884.55M891.09 656.5H893.69M900.23 656.5H902.83M909.37 656.5H911.97M918.51 656.5H921.11M927.65 656.5H930.25M936.79 656.5H939.39M945.93 656.5H948.53M955.07 656.5H957.67M964.21 656.5H966.81M973.35 656.5H975.95M982.49 656.5H985.09M991.63 656.5H994.23M1000.77 656.5H1003.37M1009.91 656.5H1012.51M1019.05 656.5H1021.65M1028.19 656.5H1030.79M1037.33 656.5H1039.93M1046.47 656.5H1049.07M1055.61 656.5H1058.21M1064.75 656.5H1067.35M1073.89 656.5H1076.49M1083.03 656.5H1085.63M1092.17 656.5H1094.77M1101.31 656.5H1103.91M1110.45 656.5H1113.05M1119.59 656.5H1122.19M1128.73 656.5H1131.33M1137.87 656.5H1140.47M1147.01 656.5H1149.61M1156.15 656.5H1158.75M1165.29 656.5H1167.89M169.03 640.5H171.63M178.17 640.5H180.77M187.31 640.5H189.91M196.45 640.5H199.05M205.59 640.5H208.19M214.73 640.5H217.33M223.87 640.5H226.47M233.01 640.5H235.61M242.15 640.5H244.75M251.29 640.5H253.89M260.43 640.5H263.03M269.57 640.5H272.17M278.71 640.5H281.31M287.85 640.5H290.45M296.99 640.5H299.59M306.13 640.5H308.73M315.27 640.5H317.87M324.41 640.5H327.01M333.55 640.5H336.15M342.69 640.5H345.29M351.83 640.5H354.43M360.97 640.5H363.57M370.11 640.5H372.71M379.25 640.5H381.85M388.39 640.5H390.99M397.53 640.5H400.13M406.67 640.5H409.27M415.81 640.5H418.41M424.95 640.5H427.55M434.09 640.5H436.69M443.23 640.5H445.83M452.37 640.5H454.97M461.51 640.5H464.11M470.65 640.5H473.25M479.79 640.5H482.39M488.93 640.5H491.53M498.07 640.5H500.67M507.21 640.5H509.81M516.35 640.5H518.95M525.49 640.5H528.09M534.63 640.5H537.23M543.77 640.5H546.37M552.91 640.5H555.51M562.05 640.5H564.65M571.19 640.5H573.79M580.33 640.5H582.93M589.47 640.5H592.07M598.61 640.5H601.21M607.75 640.5H610.35M616.89 640.5H619.49M626.03 640.5H628.63M635.17 640.5H637.77M644.31 640.5H646.91M653.45 640.5H656.05M662.59 640.5H665.19M671.73 640.5H674.33M680.87 640.5H683.47M690.01 640.5H692.61M699.15 640.5H701.75M708.29 640.5H710.89M717.43 640.5H720.03M726.57 640.5H729.17M735.71 640.5H738.31M744.85 640.5H747.45M753.99 640.5H756.59M763.13 640.5H765.73M772.27 640.5H774.87M781.41 640.5H784.01M790.55 640.5H793.15M799.69 640.5H802.29M808.83 640.5H811.43M817.97 640.5H820.57M827.11 640.5H829.71M836.25 640.5H838.85M845.39 640.5H847.99M854.53 640.5H857.13M863.67 640.5H866.27M872.81 640.5H875.41M881.95 640.5H884.55M891.09 640.5H893.69M900.23 640.5H902.83M909.37 640.5H911.97M918.51 640.5H921.11M927.65 640.5H930.25M936.79 640.5H939.39M945.93 640.5H948.53M955.07 640.5H957.67M964.21 640.5H966.81M973.35 640.5H975.95M982.49 640.5H985.09M991.63 640.5H994.23M1000.77 640.5H1003.37M1009.91 640.5H1012.51M1019.05 640.5H1021.65M1028.19 640.5H1030.79M1037.33 640.5H1039.93M1046.47 640.5H1049.07M1055.61 640.5H1058.21M1064.75 640.5H1067.35M1073.89 640.5H1076.49M1083.03 640.5H1085.63M1092.17 640.5H1094.77M1101.31 640.5H1103.91M1110.45 640.5H1113.05M1119.59 640.5H1122.19M1128.73 640.5H1131.33M1137.87 640.5H1140.47M1147.01 640.5H1149.61M1156.15 640.5H1158.75M1165.29 640.5H1167.89M169.03 624.5H171.63M178.17 624.5H180.77M187.31 624.5H189.91M196.45 624.5H199.05M205.59 624.5H208.19M214.73 624.5H217.33M223.87 624.5H226.47M233.01 624.5H235.61M242.15 624.5H244.75M251.29 624.5H253.89M260.43 624.5H263.03M269.57 624.5H272.17M278.71 624.5H281.31M287.85 624.5H290.45M296.99 624.5H299.59M306.13 624.5H308.73M315.27 624.5H317.87M324.41 624.5H327.01M333.55 624.5H336.15M342.69 624.5H345.29M351.83 624.5H354.43M360.97 624.5H363.57M370.11 624.5H372.71M379.25 624.5H381.85M388.39 624.5H390.99M397.53 624.5H400.13M406.67 624.5H409.27M415.81 624.5H418.41M424.95 624.5H427.55M434.09 624.5H436.69M443.23 624.5H445.83M452.37 624.5H454.97M461.51 624.5H464.11M470.65 624.5H473.25M479.79 624.5H482.39M488.93 624.5H491.53M498.07 624.5H500.67M507.21 624.5H509.81M516.35 624.5H518.95M525.49 624.5H528.09M534.63 624.5H537.23M543.77 624.5H546.37M552.91 624.5H555.51M562.05 624.5H564.65M571.19 624.5H573.79M580.33 624.5H582.93M589.47 624.5H592.07M598.61 624.5H601.21M607.75 624.5H610.35M616.89 624.5H619.49M626.03 624.5H628.63M635.17 624.5H637.77M644.31 624.5H646.91M653.45 624.5H656.05M662.59 624.5H665.19M671.73 624.5H674.33M680.87 624.5H683.47M690.01 624.5H692.61M699.15 624.5H701.75M708.29 624.5H710.89M717.43 624.5H720.03M726.57 624.5H729.17M735.71 624.5H738.31M744.85 624.5H747.45M753.99 624.5H756.59M763.13 624.5H765.73M772.27 624.5H774.87M781.41 624.5H784.01M790.55 624.5H793.15M799.69 624.5H802.29M808.83 624.5H811.43M817.97 624.5H820.57M827.11 624.5H829.71M836.25 624.5H838.85M845.39 624.5H847.99M854.53 624.5H857.13M863.67 624.5H866.27M872.81 624.5H875.41M881.95 624.5H884.55M891.09 624.5H893.69M900.23 624.5H902.83M909.37 624.5H911.97M918.51 624.5H921.11M927.65 624.5H930.25M936.79 624.5H939.39M945.93 624.5H948.53M955.07 624.5H957.67M964.21 624.5H966.81M973.35 624.5H975.95M982.49 624.5H985.09M991.63 624.5H994.23M1000.77 624.5H1003.37M1009.91 624.5H1012.51M1019.05 624.5H1021.65M1028.19 624.5H1030.79M1037.33 624.5H1039.93M1046.47 624.5H1049.07M1055.61 624.5H1058.21M1064.75 624.5H1067.35M1073.89 624.5H1076.49M1083.03 624.5H1085.63M1092.17 624.5H1094.77M1101.31 624.5H1103.91M1110.45 624.5H1113.05M1119.59 624.5H1122.19M1128.73 624.5H1131.33M1137.87 624.5H1140.47M1147.01 624.5H1149.61M1156.15 624.5H1158.75M1165.29 624.5H1167.89M169.03 608.5H171.63M178.17 608.5H180.77M187.31 608.5H189.91M196.45 608.5H199.05M205.59 608.5H208.19M214.73 608.5H217.33M223.87 608.5H226.47M233.01 608.5H235.61M242.15 608.5H244.75M251.29 608.5H253.89M260.43 608.5H263.03M269.57 608.5H272.17M278.71 608.5H281.31M287.85 608.5H290.45M296.99 608.5H299.59M306.13 608.5H308.73M315.27 608.5H317.87M324.41 608.5H327.01M333.55 608.5H336.15M342.69 608.5H345.29M351.83 608.5H354.43M360.97 608.5H363.57M370.11 608.5H372.71M379.25 608.5H381.85M388.39 608.5H390.99M397.53 608.5H400.13M406.67 608.5H409.27M415.81 608.5H418.41M424.95 608.5H427.55M434.09 608.5H436.69M443.23 608.5H445.83M452.37 608.5H454.97M461.51 608.5H464.11M470.65 608.5H473.25M479.79 608.5H482.39M488.93 608.5H491.53M498.07 608.5H500.67M507.21 608.5H509.81M516.35 608.5H518.95M525.49 608.5H528.09M534.63 608.5H537.23M543.77 608.5H546.37M552.91 608.5H555.51M562.05 608.5H564.65M571.19 608.5H573.79M580.33 608.5H582.93M589.47 608.5H592.07M598.61 608.5H601.21M607.75 608.5H610.35M616.89 608.5H619.49M626.03 608.5H628.63M635.17 608.5H637.77M644.31 608.5H646.91M653.45 608.5H656.05M662.59 608.5H665.19M671.73 608.5H674.33M680.87 608.5H683.47M690.01 608.5H692.61M699.15 608.5H701.75M708.29 608.5H710.89M717.43 608.5H720.03M726.57 608.5H729.17M735.71 608.5H738.31M744.85 608.5H747.45M753.99 608.5H756.59M763.13 608.5H765.73M772.27 608.5H774.87M781.41 608.5H784.01M790.55 608.5H793.15M799.69 608.5H802.29M808.83 608.5H811.43M817.97 608.5H820.57M827.11 608.5H829.71M836.25 608.5H838.85M845.39 608.5H847.99M854.53 608.5H857.13M863.67 608.5H866.27M872.81 608.5H875.41M881.95 608.5H884.55M891.09 608.5H893.69M900.23 608.5H902.83M909.37 608.5H911.97M918.51 608.5H921.11M927.65 608.5H930.25M936.79 608.5H939.39M945.93 608.5H948.53M955.07 608.5H957.67M964.21 608.5H966.81M973.35 608.5H975.95M982.49 608.5H985.09M991.63 608.5H994.23M1000.77 608.5H1003.37M1009.91 608.5H1012.51M1019.05 608.5H1021.65M1028.19 608.5H1030.79M1037.33 608.5H1039.93M1046.47 608.5H1049.07M1055.61 608.5H1058.21M1064.75 608.5H1067.35M1073.89 608.5H1076.49M1083.03 608.5H1085.63M1092.17 608.5H1094.77M1101.31 608.5H1103.91M1110.45 608.5H1113.05M1119.59 608.5H1122.19M1128.73 608.5H1131.33M1137.87 608.5H1140.47M1147.01 608.5H1149.61M1156.15 608.5H1158.75M1165.29 608.5H1167.89M169.03 593.5H171.63M178.17 593.5H180.77M187.31 593.5H189.91M196.45 593.5H199.05M205.59 593.5H208.19M214.73 593.5H217.33M223.87 593.5H226.47M233.01 593.5H235.61M242.15 593.5H244.75M251.29 593.5H253.89M260.43 593.5H263.03M269.57 593.5H272.17M278.71 593.5H281.31M287.85 593.5H290.45M296.99 593.5H299.59M306.13 593.5H308.73M315.27 593.5H317.87M324.41 593.5H327.01M333.55 593.5H336.15M342.69 593.5H345.29M351.83 593.5H354.43M360.97 593.5H363.57M370.11 593.5H372.71M379.25 593.5H381.85M388.39 593.5H390.99M397.53 593.5H400.13M406.67 593.5H409.27M415.81 593.5H418.41M424.95 593.5H427.55M434.09 593.5H436.69M443.23 593.5H445.83M452.37 593.5H454.97M461.51 593.5H464.11M470.65 593.5H473.25M479.79 593.5H482.39M488.93 593.5H491.53M498.07 593.5H500.67M507.21 593.5H509.81M516.35 593.5H518.95M525.49 593.5H528.09M534.63 593.5H537.23M543.77 593.5H546.37M552.91 593.5H555.51M562.05 593.5H564.65M571.19 593.5H573.79M580.33 593.5H582.93M589.47 593.5H592.07M598.61 593.5H601.21M607.75 593.5H610.35M616.89 593.5H619.49M626.03 593.5H628.63M635.17 593.5H637.77M644.31 593.5H646.91M653.45 593.5H656.05M662.59 593.5H665.19M671.73 593.5H674.33M680.87 593.5H683.47M690.01 593.5H692.61M699.15 593.5H701.75M708.29 593.5H710.89M717.43 593.5H720.03M726.57 593.5H729.17M735.71 593.5H738.31M744.85 593.5H747.45M753.99 593.5H756.59M763.13 593.5H765.73M772.27 593.5H774.87M781.41 593.5H784.01M790.55 593.5H793.15M799.69 593.5H802.29M808.83 593.5H811.43M817.97 593.5H820.57M827.11 593.5H829.71M836.25 593.5H838.85M845.39 593.5H847.99M854.53 593.5H857.13M863.67 593.5H866.27M872.81 593.5H875.41M881.95 593.5H884.55M891.09 593.5H893.69M900.23 593.5H902.83M909.37 593.5H911.97M918.51 593.5H921.11M927.65 593.5H930.25M936.79 593.5H939.39M945.93 593.5H948.53M955.07 593.5H957.67M964.21 593.5H966.81M973.35 593.5H975.95M982.49 593.5H985.09M991.63 593.5H994.23M1000.77 593.5H1003.37M1009.91 593.5H1012.51M1019.05 593.5H1021.65M1028.19 593.5H1030.79M1037.33 593.5H1039.93M1046.47 593.5H1049.07M1055.61 593.5H1058.21M1064.75 593.5H1067.35M1073.89 593.5H1076.49M1083.03 593.5H1085.63M1092.17 593.5H1094.77M1101.31 593.5H1103.91M1110.45 593.5H1113.05M1119.59 593.5H1122.19M1128.73 593.5H1131.33M1137.87 593.5H1140.47M1147.01 593.5H1149.61M1156.15 593.5H1158.75M1165.29 593.5H1167.89M169.03 577.5H171.63M178.17 577.5H180.77M187.31 577.5H189.91M196.45 577.5H199.05M205.59 577.5H208.19M214.73 577.5H217.33M223.87 577.5H226.47M233.01 577.5H235.61M242.15 577.5H244.75M251.29 577.5H253.89M260.43 577.5H263.03M269.57 577.5H272.17M278.71 577.5H281.31M287.85 577.5H290.45M296.99 577.5H299.59M306.13 577.5H308.73M315.27 577.5H317.87M324.41 577.5H327.01M333.55 577.5H336.15M342.69 577.5H345.29M351.83 577.5H354.43M360.97 577.5H363.57M370.11 577.5H372.71M379.25 577.5H381.85M388.39 577.5H390.99M397.53 577.5H400.13M406.67 577.5H409.27M415.81 577.5H418.41M424.95 577.5H427.55M434.09 577.5H436.69M443.23 577.5H445.83M452.37 577.5H454.97M461.51 577.5H464.11M470.65 577.5H473.25M479.79 577.5H482.39M488.93 577.5H491.53M498.07 577.5H500.67M507.21 577.5H509.81M516.35 577.5H518.95M525.49 577.5H528.09M534.63 577.5H537.23M543.77 577.5H546.37M552.91 577.5H555.51M562.05 577.5H564.65M571.19 577.5H573.79M580.33 577.5H582.93M589.47 577.5H592.07M598.61 577.5H601.21M607.75 577.5H610.35M616.89 577.5H619.49M626.03 577.5H628.63M635.17 577.5H637.77M644.31 577.5H646.91M653.45 577.5H656.05M662.59 577.5H665.19M671.73 577.5H674.33M680.87 577.5H683.47M690.01 577.5H692.61M699.15 577.5H701.75M708.29 577.5H710.89M717.43 577.5H720.03M726.57 577.5H729.17M735.71 577.5H738.31M744.85 577.5H747.45M753.99 577.5H756.59M763.13 577.5H765.73M772.27 577.5H774.87M781.41 577.5H784.01M790.55 577.5H793.15M799.69 577.5H802.29M808.83 577.5H811.43M817.97 577.5H820.57M827.11 577.5H829.71M836.25 577.5H838.85M845.39 577.5H847.99M854.53 577.5H857.13M863.67 577.5H866.27M872.81 577.5H875.41M881.95 577.5H884.55M891.09 577.5H893.69M900.23 577.5H902.83M909.37 577.5H911.97M918.51 577.5H921.11M927.65 577.5H930.25M936.79 577.5H939.39M945.93 577.5H948.53M955.07 577.5H957.67M964.21 577.5H966.81M973.35 577.5H975.95M982.49 577.5H985.09M991.63 577.5H994.23M1000.77 577.5H1003.37M1009.91 577.5H1012.51M1019.05 577.5H1021.65M1028.19 577.5H1030.79M1037.33 577.5H1039.93M1046.47 577.5H1049.07M1055.61 577.5H1058.21M1064.75 577.5H1067.35M1073.89 577.5H1076.49M1083.03 577.5H1085.63M1092.17 577.5H1094.77M1101.31 577.5H1103.91M1110.45 577.5H1113.05M1119.59 577.5H1122.19M1128.73 577.5H1131.33M1137.87 577.5H1140.47M1147.01 577.5H1149.61M1156.15 577.5H1158.75M1165.29 577.5H1167.89M169.03 561.5H171.63M178.17 561.5H180.77M187.31 561.5H189.91M196.45 561.5H199.05M205.59 561.5H208.19M214.73 561.5H217.33M223.87 561.5H226.47M233.01 561.5H235.61M242.15 561.5H244.75M251.29 561.5H253.89M260.43 561.5H263.03M269.57 561.5H272.17M278.71 561.5H281.31M287.85 561.5H290.45M296.99 561.5H299.59M306.13 561.5H308.73M315.27 561.5H317.87M324.41 561.5H327.01M333.55 561.5H336.15M342.69 561.5H345.29M351.83 561.5H354.43M360.97 561.5H363.57M370.11 561.5H372.71M379.25 561.5H381.85M388.39 561.5H390.99M397.53 561.5H400.13M406.67 561.5H409.27M415.81 561.5H418.41M424.95 561.5H427.55M434.09 561.5H436.69M443.23 561.5H445.83M452.37 561.5H454.97M461.51 561.5H464.11M470.65 561.5H473.25M479.79 561.5H482.39M488.93 561.5H491.53M498.07 561.5H500.67M507.21 561.5H509.81M516.35 561.5H518.95M525.49 561.5H528.09M534.63 561.5H537.23M543.77 561.5H546.37M552.91 561.5H555.51M562.05 561.5H564.65M571.19 561.5H573.79M580.33 561.5H582.93M589.47 561.5H592.07M598.61 561.5H601.21M607.75 561.5H610.35M616.89 561.5H619.49M626.03 561.5H628.63M635.17 561.5H637.77M644.31 561.5H646.91M653.45 561.5H656.05M662.59 561.5H665.19M671.73 561.5H674.33M680.87 561.5H683.47M690.01 561.5H692.61M699.15 561.5H701.75M708.29 561.5H710.89M717.43 561.5H720.03M726.57 561.5H729.17M735.71 561.5H738.31M744.85 561.5H747.45M753.99 561.5H756.59M763.13 561.5H765.73M772.27 561.5H774.87M781.41 561.5H784.01M790.55 561.5H793.15M799.69 561.5H802.29M808.83 561.5H811.43M817.97 561.5H820.57M827.11 561.5H829.71M836.25 561.5H838.85M845.39 561.5H847.99M854.53 561.5H857.13M863.67 561.5H866.27M872.81 561.5H875.41M881.95 561.5H884.55M891.09 561.5H893.69M900.23 561.5H902.83M909.37 561.5H911.97M918.51 561.5H921.11M927.65 561.5H930.25M936.79 561.5H939.39M945.93 561.5H948.53M955.07 561.5H957.67M964.21 561.5H966.81M973.35 561.5H975.95M982.49 561.5H985.09M991.63 561.5H994.23M1000.77 561.5H1003.37M1009.91 561.5H1012.51M1019.05 561.5H1021.65M1028.19 561.5H1030.79M1037.33 561.5H1039.93M1046.47 561.5H1049.07M1055.61 561.5H1058.21M1064.75 561.5H1067.35M1073.89 561.5H1076.49M1083.03 561.5H1085.63M1092.17 561.5H1094.77M1101.31 561.5H1103.91M1110.45 561.5H1113.05M1119.59 561.5H1122.19M1128.73 561.5H1131.33M1137.87 561.5H1140.47M1147.01 561.5H1149.61M1156.15 561.5H1158.75M1165.29 561.5H1167.89M169.03 545.5H171.63M178.17 545.5H180.77M187.31 545.5H189.91M196.45 545.5H199.05M205.59 545.5H208.19M214.73 545.5H217.33M223.87 545.5H226.47M233.01 545.5H235.61M242.15 545.5H244.75M251.29 545.5H253.89M260.43 545.5H263.03M269.57 545.5H272.17M278.71 545.5H281.31M287.85 545.5H290.45M296.99 545.5H299.59M306.13 545.5H308.73M315.27 545.5H317.87M324.41 545.5H327.01M333.55 545.5H336.15M342.69 545.5H345.29M351.83 545.5H354.43M360.97 545.5H363.57M370.11 545.5H372.71M379.25 545.5H381.85M388.39 545.5H390.99M397.53 545.5H400.13M406.67 545.5H409.27M415.81 545.5H418.41M424.95 545.5H427.55M434.09 545.5H436.69M443.23 545.5H445.83M452.37 545.5H454.97M461.51 545.5H464.11M470.65 545.5H473.25M479.79 545.5H482.39M488.93 545.5H491.53M498.07 545.5H500.67M507.21 545.5H509.81M516.35 545.5H518.95M525.49 545.5H528.09M534.63 545.5H537.23M543.77 545.5H546.37M552.91 545.5H555.51M562.05 545.5H564.65M571.19 545.5H573.79M580.33 545.5H582.93M589.47 545.5H592.07M598.61 545.5H601.21M607.75 545.5H610.35M616.89 545.5H619.49M626.03 545.5H628.63M635.17 545.5H637.77M644.31 545.5H646.91M653.45 545.5H656.05M662.59 545.5H665.19M671.73 545.5H674.33M680.87 545.5H683.47M690.01 545.5H692.61M699.15 545.5H701.75M708.29 545.5H710.89M717.43 545.5H720.03M726.57 545.5H729.17M735.71 545.5H738.31M744.85 545.5H747.45M753.99 545.5H756.59M763.13 545.5H765.73M772.27 545.5H774.87M781.41 545.5H784.01M790.55 545.5H793.15M799.69 545.5H802.29M808.83 545.5H811.43M817.97 545.5H820.57M827.11 545.5H829.71M836.25 545.5H838.85M845.39 545.5H847.99M854.53 545.5H857.13M863.67 545.5H866.27M872.81 545.5H875.41M881.95 545.5H884.55M891.09 545.5H893.69M900.23 545.5H902.83M909.37 545.5H911.97M918.51 545.5H921.11M927.65 545.5H930.25M936.79 545.5H939.39M945.93 545.5H948.53M955.07 545.5H957.67M964.21 545.5H966.81M973.35 545.5H975.95M982.49 545.5H985.09M991.63 545.5H994.23M1000.77 545.5H1003.37M1009.91 545.5H1012.51M1019.05 545.5H1021.65M1028.19 545.5H1030.79M1037.33 545.5H1039.93M1046.47 545.5H1049.07M1055.61 545.5H1058.21M1064.75 545.5H1067.35M1073.89 545.5H1076.49M1083.03 545.5H1085.63M1092.17 545.5H1094.77M1101.31 545.5H1103.91M1110.45 545.5H1113.05M1119.59 545.5H1122.19M1128.73 545.5H1131.33M1137.87 545.5H1140.47M1147.01 545.5H1149.61M1156.15 545.5H1158.75M1165.29 545.5H1167.89M169.03 529.5H171.63M178.17 529.5H180.77M187.31 529.5H189.91M196.45 529.5H199.05M205.59 529.5H208.19M214.73 529.5H217.33M223.87 529.5H226.47M233.01 529.5H235.61M242.15 529.5H244.75M251.29 529.5H253.89M260.43 529.5H263.03M269.57 529.5H272.17M278.71 529.5H281.31M287.85 529.5H290.45M296.99 529.5H299.59M306.13 529.5H308.73M315.27 529.5H317.87M324.41 529.5H327.01M333.55 529.5H336.15M342.69 529.5H345.29M351.83 529.5H354.43M360.97 529.5H363.57M370.11 529.5H372.71M379.25 529.5H381.85M388.39 529.5H390.99M397.53 529.5H400.13M406.67 529.5H409.27M415.81 529.5H418.41M424.95 529.5H427.55M434.09 529.5H436.69M443.23 529.5H445.83M452.37 529.5H454.97M461.51 529.5H464.11M470.65 529.5H473.25M479.79 529.5H482.39M488.93 529.5H491.53M498.07 529.5H500.67M507.21 529.5H509.81M516.35 529.5H518.95M525.49 529.5H528.09M534.63 529.5H537.23M543.77 529.5H546.37M552.91 529.5H555.51M562.05 529.5H564.65M571.19 529.5H573.79M580.33 529.5H582.93M589.47 529.5H592.07M598.61 529.5H601.21M607.75 529.5H610.35M616.89 529.5H619.49M626.03 529.5H628.63M635.17 529.5H637.77M644.31 529.5H646.91M653.45 529.5H656.05M662.59 529.5H665.19M671.73 529.5H674.33M680.87 529.5H683.47M690.01 529.5H692.61M699.15 529.5H701.75M708.29 529.5H710.89M717.43 529.5H720.03M726.57 529.5H729.17M735.71 529.5H738.31M744.85 529.5H747.45M753.99 529.5H756.59M763.13 529.5H765.73M772.27 529.5H774.87M781.41 529.5H784.01M790.55 529.5H793.15M799.69 529.5H802.29M808.83 529.5H811.43M817.97 529.5H820.57M827.11 529.5H829.71M836.25 529.5H838.85M845.39 529.5H847.99M854.53 529.5H857.13M863.67 529.5H866.27M872.81 529.5H875.41M881.95 529.5H884.55M891.09 529.5H893.69M900.23 529.5H902.83M909.37 529.5H911.97M918.51 529.5H921.11M927.65 529.5H930.25M936.79 529.5H939.39M945.93 529.5H948.53M955.07 529.5H957.67M964.21 529.5H966.81M973.35 529.5H975.95M982.49 529.5H985.09M991.63 529.5H994.23M1000.77 529.5H1003.37M1009.91 529.5H1012.51M1019.05 529.5H1021.65M1028.19 529.5H1030.79M1037.33 529.5H1039.93M1046.47 529.5H1049.07M1055.61 529.5H1058.21M1064.75 529.5H1067.35M1073.89 529.5H1076.49M1083.03 529.5H1085.63M1092.17 529.5H1094.77M1101.31 529.5H1103.91M1110.45 529.5H1113.05M1119.59 529.5H1122.19M1128.73 529.5H1131.33M1137.87 529.5H1140.47M1147.01 529.5H1149.61M1156.15 529.5H1158.75M1165.29 529.5H1167.89M169.03 514.5H171.63M178.17 514.5H180.77M187.31 514.5H189.91M196.45 514.5H199.05M205.59 514.5H208.19M214.73 514.5H217.33M223.87 514.5H226.47M233.01 514.5H235.61M242.15 514.5H244.75M251.29 514.5H253.89M260.43 514.5H263.03M269.57 514.5H272.17M278.71 514.5H281.31M287.85 514.5H290.45M296.99 514.5H299.59M306.13 514.5H308.73M315.27 514.5H317.87M324.41 514.5H327.01M333.55 514.5H336.15M342.69 514.5H345.29M351.83 514.5H354.43M360.97 514.5H363.57M370.11 514.5H372.71M379.25 514.5H381.85M388.39 514.5H390.99M397.53 514.5H400.13M406.67 514.5H409.27M415.81 514.5H418.41M424.95 514.5H427.55M434.09 514.5H436.69M443.23 514.5H445.83M452.37 514.5H454.97M461.51 514.5H464.11M470.65 514.5H473.25M479.79 514.5H482.39M488.93 514.5H491.53M498.07 514.5H500.67M507.21 514.5H509.81M516.35 514.5H518.95M525.49 514.5H528.09M534.63 514.5H537.23M543.77 514.5H546.37M552.91 514.5H555.51M562.05 514.5H564.65M571.19 514.5H573.79M580.33 514.5H582.93M589.47 514.5H592.07M598.61 514.5H601.21M607.75 514.5H610.35M616.89 514.5H619.49M626.03 514.5H628.63M635.17 514.5H637.77M644.31 514.5H646.91M653.45 514.5H656.05M662.59 514.5H665.19M671.73 514.5H674.33M680.87 514.5H683.47M690.01 514.5H692.61M699.15 514.5H701.75M708.29 514.5H710.89M717.43 514.5H720.03M726.57 514.5H729.17M735.71 514.5H738.31M744.85 514.5H747.45M753.99 514.5H756.59M763.13 514.5H765.73M772.27 514.5H774.87M781.41 514.5H784.01M790.55 514.5H793.15M799.69 514.5H802.29M808.83 514.5H811.43M817.97 514.5H820.57M827.11 514.5H829.71M836.25 514.5H838.85M845.39 514.5H847.99M854.53 514.5H857.13M863.67 514.5H866.27M872.81 514.5H875.41M881.95 514.5H884.55M891.09 514.5H893.69M900.23 514.5H902.83M909.37 514.5H911.97M918.51 514.5H921.11M927.65 514.5H930.25M936.79 514.5H939.39M945.93 514.5H948.53M955.07 514.5H957.67M964.21 514.5H966.81M973.35 514.5H975.95M982.49 514.5H985.09M991.63 514.5H994.23M1000.77 514.5H1003.37M1009.91 514.5H1012.51M1019.05 514.5H1021.65M1028.19 514.5H1030.79M1037.33 514.5H1039.93M1046.47 514.5H1049.07M1055.61 514.5H1058.21M1064.75 514.5H1067.35M1073.89 514.5H1076.49M1083.03 514.5H1085.63M1092.17 514.5H1094.77M1101.31 514.5H1103.91M1110.45 514.5H1113.05M1119.59 514.5H1122.19M1128.73 514.5H1131.33M1137.87 514.5H1140.47M1147.01 514.5H1149.61M1156.15 514.5H1158.75M1165.29 514.5H1167.89M169.03 498.5H171.63M178.17 498.5H180.77M187.31 498.5H189.91M196.45 498.5H199.05M205.59 498.5H208.19M214.73 498.5H217.33M223.87 498.5H226.47M233.01 498.5H235.61M242.15 498.5H244.75M251.29 498.5H253.89M260.43 498.5H263.03M269.57 498.5H272.17M278.71 498.5H281.31M287.85 498.5H290.45M296.99 498.5H299.59M306.13 498.5H308.73M315.27 498.5H317.87M324.41 498.5H327.01M333.55 498.5H336.15M342.69 498.5H345.29M351.83 498.5H354.43M360.97 498.5H363.57M370.11 498.5H372.71M379.25 498.5H381.85M388.39 498.5H390.99M397.53 498.5H400.13M406.67 498.5H409.27M415.81 498.5H418.41M424.95 498.5H427.55M434.09 498.5H436.69M443.23 498.5H445.83M452.37 498.5H454.97M461.51 498.5H464.11M470.65 498.5H473.25M479.79 498.5H482.39M488.93 498.5H491.53M498.07 498.5H500.67M507.21 498.5H509.81M516.35 498.5H518.95M525.49 498.5H528.09M534.63 498.5H537.23M543.77 498.5H546.37M552.91 498.5H555.51M562.05 498.5H564.65M571.19 498.5H573.79M580.33 498.5H582.93M589.47 498.5H592.07M598.61 498.5H601.21M607.75 498.5H610.35M616.89 498.5H619.49M626.03 498.5H628.63M635.17 498.5H637.77M644.31 498.5H646.91M653.45 498.5H656.05M662.59 498.5H665.19M671.73 498.5H674.33M680.87 498.5H683.47M690.01 498.5H692.61M699.15 498.5H701.75M708.29 498.5H710.89M717.43 498.5H720.03M726.57 498.5H729.17M735.71 498.5H738.31M744.85 498.5H747.45M753.99 498.5H756.59M763.13 498.5H765.73M772.27 498.5H774.87M781.41 498.5H784.01M790.55 498.5H793.15M799.69 498.5H802.29M808.83 498.5H811.43M817.97 498.5H820.57M827.11 498.5H829.71M836.25 498.5H838.85M845.39 498.5H847.99M854.53 498.5H857.13M863.67 498.5H866.27M872.81 498.5H875.41M881.95 498.5H884.55M891.09 498.5H893.69M900.23 498.5H902.83M909.37 498.5H911.97M918.51 498.5H921.11M927.65 498.5H930.25M936.79 498.5H939.39M945.93 498.5H948.53M955.07 498.5H957.67M964.21 498.5H966.81M973.35 498.5H975.95M982.49 498.5H985.09M991.63 498.5H994.23M1000.77 498.5H1003.37M1009.91 498.5H1012.51M1019.05 498.5H1021.65M1028.19 498.5H1030.79M1037.33 498.5H1039.93M1046.47 498.5H1049.07M1055.61 498.5H1058.21M1064.75 498.5H1067.35M1073.89 498.5H1076.49M1083.03 498.5H1085.63M1092.17 498.5H1094.77M1101.31 498.5H1103.91M1110.45 498.5H1113.05M1119.59 498.5H1122.19M1128.73 498.5H1131.33M1137.87 498.5H1140.47M1147.01 498.5H1149.61M1156.15 498.5H1158.75M1165.29 498.5H1167.89M169.03 482.5H171.63M178.17 482.5H180.77M187.31 482.5H189.91M196.45 482.5H199.05M205.59 482.5H208.19M214.73 482.5H217.33M223.87 482.5H226.47M233.01 482.5H235.61M242.15 482.5H244.75M251.29 482.5H253.89M260.43 482.5H263.03M269.57 482.5H272.17M278.71 482.5H281.31M287.85 482.5H290.45M296.99 482.5H299.59M306.13 482.5H308.73M315.27 482.5H317.87M324.41 482.5H327.01M333.55 482.5H336.15M342.69 482.5H345.29M351.83 482.5H354.43M360.97 482.5H363.57M370.11 482.5H372.71M379.25 482.5H381.85M388.39 482.5H390.99M397.53 482.5H400.13M406.67 482.5H409.27M415.81 482.5H418.41M424.95 482.5H427.55M434.09 482.5H436.69M443.23 482.5H445.83M452.37 482.5H454.97M461.51 482.5H464.11M470.65 482.5H473.25M479.79 482.5H482.39M488.93 482.5H491.53M498.07 482.5H500.67M507.21 482.5H509.81M516.35 482.5H518.95M525.49 482.5H528.09M534.63 482.5H537.23M543.77 482.5H546.37M552.91 482.5H555.51M562.05 482.5H564.65M571.19 482.5H573.79M580.33 482.5H582.93M589.47 482.5H592.07M598.61 482.5H601.21M607.75 482.5H610.35M616.89 482.5H619.49M626.03 482.5H628.63M635.17 482.5H637.77M644.31 482.5H646.91M653.45 482.5H656.05M662.59 482.5H665.19M671.73 482.5H674.33M680.87 482.5H683.47M690.01 482.5H692.61M699.15 482.5H701.75M708.29 482.5H710.89M717.43 482.5H720.03M726.57 482.5H729.17M735.71 482.5H738.31M744.85 482.5H747.45M753.99 482.5H756.59M763.13 482.5H765.73M772.27 482.5H774.87M781.41 482.5H784.01M790.55 482.5H793.15M799.69 482.5H802.29M808.83 482.5H811.43M817.97 482.5H820.57M827.11 482.5H829.71M836.25 482.5H838.85M845.39 482.5H847.99M854.53 482.5H857.13M863.67 482.5H866.27M872.81 482.5H875.41M881.95 482.5H884.55M891.09 482.5H893.69M900.23 482.5H902.83M909.37 482.5H911.97M918.51 482.5H921.11M927.65 482.5H930.25M936.79 482.5H939.39M945.93 482.5H948.53M955.07 482.5H957.67M964.21 482.5H966.81M973.35 482.5H975.95M982.49 482.5H985.09M991.63 482.5H994.23M1000.77 482.5H1003.37M1009.91 482.5H1012.51M1019.05 482.5H1021.65M1028.19 482.5H1030.79M1037.33 482.5H1039.93M1046.47 482.5H1049.07M1055.61 482.5H1058.21M1064.75 482.5H1067.35M1073.89 482.5H1076.49M1083.03 482.5H1085.63M1092.17 482.5H1094.77M1101.31 482.5H1103.91M1110.45 482.5H1113.05M1119.59 482.5H1122.19M1128.73 482.5H1131.33M1137.87 482.5H1140.47M1147.01 482.5H1149.61M1156.15 482.5H1158.75M1165.29 482.5H1167.89M169.03 466.5H171.63M178.17 466.5H180.77M187.31 466.5H189.91M196.45 466.5H199.05M205.59 466.5H208.19M214.73 466.5H217.33M223.87 466.5H226.47M233.01 466.5H235.61M242.15 466.5H244.75M251.29 466.5H253.89M260.43 466.5H263.03M269.57 466.5H272.17M278.71 466.5H281.31M287.85 466.5H290.45M296.99 466.5H299.59M306.13 466.5H308.73M315.27 466.5H317.87M324.41 466.5H327.01M333.55 466.5H336.15M342.69 466.5H345.29M351.83 466.5H354.43M360.97 466.5H363.57M370.11 466.5H372.71M379.25 466.5H381.85M388.39 466.5H390.99M397.53 466.5H400.13M406.67 466.5H409.27M415.81 466.5H418.41M424.95 466.5H427.55M434.09 466.5H436.69M443.23 466.5H445.83M452.37 466.5H454.97M461.51 466.5H464.11M470.65 466.5H473.25M479.79 466.5H482.39M488.93 466.5H491.53M498.07 466.5H500.67M507.21 466.5H509.81M516.35 466.5H518.95M525.49 466.5H528.09M534.63 466.5H537.23M543.77 466.5H546.37M552.91 466.5H555.51M562.05 466.5H564.65M571.19 466.5H573.79M580.33 466.5H582.93M589.47 466.5H592.07M598.61 466.5H601.21M607.75 466.5H610.35M616.89 466.5H619.49M626.03 466.5H628.63M635.17 466.5H637.77M644.31 466.5H646.91M653.45 466.5H656.05M662.59 466.5H665.19M671.73 466.5H674.33M680.87 466.5H683.47M690.01 466.5H692.61M699.15 466.5H701.75M708.29 466.5H710.89M717.43 466.5H720.03M726.57 466.5H729.17M735.71 466.5H738.31M744.85 466.5H747.45M753.99 466.5H756.59M763.13 466.5H765.73M772.27 466.5H774.87M781.41 466.5H784.01M790.55 466.5H793.15M799.69 466.5H802.29M808.83 466.5H811.43M817.97 466.5H820.57M827.11 466.5H829.71M836.25 466.5H838.85M845.39 466.5H847.99M854.53 466.5H857.13M863.67 466.5H866.27M872.81 466.5H875.41M881.95 466.5H884.55M891.09 466.5H893.69M900.23 466.5H902.83M909.37 466.5H911.97M918.51 466.5H921.11M927.65 466.5H930.25M936.79 466.5H939.39M945.93 466.5H948.53M955.07 466.5H957.67M964.21 466.5H966.81M973.35 466.5H975.95M982.49 466.5H985.09M991.63 466.5H994.23M1000.77 466.5H1003.37M1009.91 466.5H1012.51M1019.05 466.5H1021.65M1028.19 466.5H1030.79M1037.33 466.5H1039.93M1046.47 466.5H1049.07M1055.61 466.5H1058.21M1064.75 466.5H1067.35M1073.89 466.5H1076.49M1083.03 466.5H1085.63M1092.17 466.5H1094.77M1101.31 466.5H1103.91M1110.45 466.5H1113.05M1119.59 466.5H1122.19M1128.73 466.5H1131.33M1137.87 466.5H1140.47M1147.01 466.5H1149.61M1156.15 466.5H1158.75M1165.29 466.5H1167.89M169.03 450.5H171.63M178.17 450.5H180.77M187.31 450.5H189.91M196.45 450.5H199.05M205.59 450.5H208.19M214.73 450.5H217.33M223.87 450.5H226.47M233.01 450.5H235.61M242.15 450.5H244.75M251.29 450.5H253.89M260.43 450.5H263.03M269.57 450.5H272.17M278.71 450.5H281.31M287.85 450.5H290.45M296.99 450.5H299.59M306.13 450.5H308.73M315.27 450.5H317.87M324.41 450.5H327.01M333.55 450.5H336.15M342.69 450.5H345.29M351.83 450.5H354.43M360.97 450.5H363.57M370.11 450.5H372.71M379.25 450.5H381.85M388.39 450.5H390.99M397.53 450.5H400.13M406.67 450.5H409.27M415.81 450.5H418.41M424.95 450.5H427.55M434.09 450.5H436.69M443.23 450.5H445.83M452.37 450.5H454.97M461.51 450.5H464.11M470.65 450.5H473.25M479.79 450.5H482.39M488.93 450.5H491.53M498.07 450.5H500.67M507.21 450.5H509.81M516.35 450.5H518.95M525.49 450.5H528.09M534.63 450.5H537.23M543.77 450.5H546.37M552.91 450.5H555.51M562.05 450.5H564.65M571.19 450.5H573.79M580.33 450.5H582.93M589.47 450.5H592.07M598.61 450.5H601.21M607.75 450.5H610.35M616.89 450.5H619.49M626.03 450.5H628.63M635.17 450.5H637.77M644.31 450.5H646.91M653.45 450.5H656.05M662.59 450.5H665.19M671.73 450.5H674.33M680.87 450.5H683.47M690.01 450.5H692.61M699.15 450.5H701.75M708.29 450.5H710.89M717.43 450.5H720.03M726.57 450.5H729.17M735.71 450.5H738.31M744.85 450.5H747.45M753.99 450.5H756.59M763.13 450.5H765.73M772.27 450.5H774.87M781.41 450.5H784.01M790.55 450.5H793.15M799.69 450.5H802.29M808.83 450.5H811.43M817.97 450.5H820.57M827.11 450.5H829.71M836.25 450.5H838.85M845.39 450.5H847.99M854.53 450.5H857.13M863.67 450.5H866.27M872.81 450.5H875.41M881.95 450.5H884.55M891.09 450.5H893.69M900.23 450.5H902.83M909.37 450.5H911.97M918.51 450.5H921.11M927.65 450.5H930.25M936.79 450.5H939.39M945.93 450.5H948.53M955.07 450.5H957.67M964.21 450.5H966.81M973.35 450.5H975.95M982.49 450.5H985.09M991.63 450.5H994.23M1000.77 450.5H1003.37M1009.91 450.5H1012.51M1019.05 450.5H1021.65M1028.19 450.5H1030.79M1037.33 450.5H1039.93M1046.47 450.5H1049.07M1055.61 450.5H1058.21M1064.75 450.5H1067.35M1073.89 450.5H1076.49M1083.03 450.5H1085.63M1092.17 450.5H1094.77M1101.31 450.5H1103.91M1110.45 450.5H1113.05M1119.59 450.5H1122.19M1128.73 450.5H1131.33M1137.87 450.5H1140.47M1147.01 450.5H1149.61M1156.15 450.5H1158.75M1165.29 450.5H1167.89M169.03 435.5H171.63M178.17 435.5H180.77M187.31 435.5H189.91M196.45 435.5H199.05M205.59 435.5H208.19M214.73 435.5H217.33M223.87 435.5H226.47M233.01 435.5H235.61M242.15 435.5H244.75M251.29 435.5H253.89M260.43 435.5H263.03M269.57 435.5H272.17M278.71 435.5H281.31M287.85 435.5H290.45M296.99 435.5H299.59M306.13 435.5H308.73M315.27 435.5H317.87M324.41 435.5H327.01M333.55 435.5H336.15M342.69 435.5H345.29M351.83 435.5H354.43M360.97 435.5H363.57M370.11 435.5H372.71M379.25 435.5H381.85M388.39 435.5H390.99M397.53 435.5H400.13M406.67 435.5H409.27M415.81 435.5H418.41M424.95 435.5H427.55M434.09 435.5H436.69M443.23 435.5H445.83M452.37 435.5H454.97M461.51 435.5H464.11M470.65 435.5H473.25M479.79 435.5H482.39M488.93 435.5H491.53M498.07 435.5H500.67M507.21 435.5H509.81M516.35 435.5H518.95M525.49 435.5H528.09M534.63 435.5H537.23M543.77 435.5H546.37M552.91 435.5H555.51M562.05 435.5H564.65M571.19 435.5H573.79M580.33 435.5H582.93M589.47 435.5H592.07M598.61 435.5H601.21M607.75 435.5H610.35M616.89 435.5H619.49M626.03 435.5H628.63M635.17 435.5H637.77M644.31 435.5H646.91M653.45 435.5H656.05M662.59 435.5H665.19M671.73 435.5H674.33M680.87 435.5H683.47M690.01 435.5H692.61M699.15 435.5H701.75M708.29 435.5H710.89M717.43 435.5H720.03M726.57 435.5H729.17M735.71 435.5H738.31M744.85 435.5H747.45M753.99 435.5H756.59M763.13 435.5H765.73M772.27 435.5H774.87M781.41 435.5H784.01M790.55 435.5H793.15M799.69 435.5H802.29M808.83 435.5H811.43M817.97 435.5H820.57M827.11 435.5H829.71M836.25 435.5H838.85M845.39 435.5H847.99M854.53 435.5H857.13M863.67 435.5H866.27M872.81 435.5H875.41M881.95 435.5H884.55M891.09 435.5H893.69M900.23 435.5H902.83M909.37 435.5H911.97M918.51 435.5H921.11M927.65 435.5H930.25M936.79 435.5H939.39M945.93 435.5H948.53M955.07 435.5H957.67M964.21 435.5H966.81M973.35 435.5H975.95M982.49 435.5H985.09M991.63 435.5H994.23M1000.77 435.5H1003.37M1009.91 435.5H1012.51M1019.05 435.5H1021.65M1028.19 435.5H1030.79M1037.33 435.5H1039.93M1046.47 435.5H1049.07M1055.61 435.5H1058.21M1064.75 435.5H1067.35M1073.89 435.5H1076.49M1083.03 435.5H1085.63M1092.17 435.5H1094.77M1101.31 435.5H1103.91M1110.45 435.5H1113.05M1119.59 435.5H1122.19M1128.73 435.5H1131.33M1137.87 435.5H1140.47M1147.01 435.5H1149.61M1156.15 435.5H1158.75M1165.29 435.5H1167.89M169.03 419.5H171.63M178.17 419.5H180.77M187.31 419.5H189.91M196.45 419.5H199.05M205.59 419.5H208.19M214.73 419.5H217.33M223.87 419.5H226.47M233.01 419.5H235.61M242.15 419.5H244.75M251.29 419.5H253.89M260.43 419.5H263.03M269.57 419.5H272.17M278.71 419.5H281.31M287.85 419.5H290.45M296.99 419.5H299.59M306.13 419.5H308.73M315.27 419.5H317.87M324.41 419.5H327.01M333.55 419.5H336.15M342.69 419.5H345.29M351.83 419.5H354.43M360.97 419.5H363.57M370.11 419.5H372.71M379.25 419.5H381.85M388.39 419.5H390.99M397.53 419.5H400.13M406.67 419.5H409.27M415.81 419.5H418.41M424.95 419.5H427.55M434.09 419.5H436.69M443.23 419.5H445.83M452.37 419.5H454.97M461.51 419.5H464.11M470.65 419.5H473.25M479.79 419.5H482.39M488.93 419.5H491.53M498.07 419.5H500.67M507.21 419.5H509.81M516.35 419.5H518.95M525.49 419.5H528.09M534.63 419.5H537.23M543.77 419.5H546.37M552.91 419.5H555.51M562.05 419.5H564.65M571.19 419.5H573.79M580.33 419.5H582.93M589.47 419.5H592.07M598.61 419.5H601.21M607.75 419.5H610.35M616.89 419.5H619.49M626.03 419.5H628.63M635.17 419.5H637.77M644.31 419.5H646.91M653.45 419.5H656.05M662.59 419.5H665.19M671.73 419.5H674.33M680.87 419.5H683.47M690.01 419.5H692.61M699.15 419.5H701.75M708.29 419.5H710.89M717.43 419.5H720.03M726.57 419.5H729.17M735.71 419.5H738.31M744.85 419.5H747.45M753.99 419.5H756.59M763.13 419.5H765.73M772.27 419.5H774.87M781.41 419.5H784.01M790.55 419.5H793.15M799.69 419.5H802.29M808.83 419.5H811.43M817.97 419.5H820.57M827.11 419.5H829.71M836.25 419.5H838.85M845.39 419.5H847.99M854.53 419.5H857.13M863.67 419.5H866.27M872.81 419.5H875.41M881.95 419.5H884.55M891.09 419.5H893.69M900.23 419.5H902.83M909.37 419.5H911.97M918.51 419.5H921.11M927.65 419.5H930.25M936.79 419.5H939.39M945.93 419.5H948.53M955.07 419.5H957.67M964.21 419.5H966.81M973.35 419.5H975.95M982.49 419.5H985.09M991.63 419.5H994.23M1000.77 419.5H1003.37M1009.91 419.5H1012.51M1019.05 419.5H1021.65M1028.19 419.5H1030.79M1037.33 419.5H1039.93M1046.47 419.5H1049.07M1055.61 419.5H1058.21M1064.75 419.5H1067.35M1073.89 419.5H1076.49M1083.03 419.5H1085.63M1092.17 419.5H1094.77M1101.31 419.5H1103.91M1110.45 419.5H1113.05M1119.59 419.5H1122.19M1128.73 419.5H1131.33M1137.87 419.5H1140.47M1147.01 419.5H1149.61M1156.15 419.5H1158.75M1165.29 419.5H1167.89M169.03 403.5H171.63M178.17 403.5H180.77M187.31 403.5H189.91M196.45 403.5H199.05M205.59 403.5H208.19M214.73 403.5H217.33M223.87 403.5H226.47M233.01 403.5H235.61M242.15 403.5H244.75M251.29 403.5H253.89M260.43 403.5H263.03M269.57 403.5H272.17M278.71 403.5H281.31M287.85 403.5H290.45M296.99 403.5H299.59M306.13 403.5H308.73M315.27 403.5H317.87M324.41 403.5H327.01M333.55 403.5H336.15M342.69 403.5H345.29M351.83 403.5H354.43M360.97 403.5H363.57M370.11 403.5H372.71M379.25 403.5H381.85M388.39 403.5H390.99M397.53 403.5H400.13M406.67 403.5H409.27M415.81 403.5H418.41M424.95 403.5H427.55M434.09 403.5H436.69M443.23 403.5H445.83M452.37 403.5H454.97M461.51 403.5H464.11M470.65 403.5H473.25M479.79 403.5H482.39M488.93 403.5H491.53M498.07 403.5H500.67M507.21 403.5H509.81M516.35 403.5H518.95M525.49 403.5H528.09M534.63 403.5H537.23M543.77 403.5H546.37M552.91 403.5H555.51M562.05 403.5H564.65M571.19 403.5H573.79M580.33 403.5H582.93M589.47 403.5H592.07M598.61 403.5H601.21M607.75 403.5H610.35M616.89 403.5H619.49M626.03 403.5H628.63M635.17 403.5H637.77M644.31 403.5H646.91M653.45 403.5H656.05M662.59 403.5H665.19M671.73 403.5H674.33M680.87 403.5H683.47M690.01 403.5H692.61M699.15 403.5H701.75M708.29 403.5H710.89M717.43 403.5H720.03M726.57 403.5H729.17M735.71 403.5H738.31M744.85 403.5H747.45M753.99 403.5H756.59M763.13 403.5H765.73M772.27 403.5H774.87M781.41 403.5H784.01M790.55 403.5H793.15M799.69 403.5H802.29M808.83 403.5H811.43M817.97 403.5H820.57M827.11 403.5H829.71M836.25 403.5H838.85M845.39 403.5H847.99M854.53 403.5H857.13M863.67 403.5H866.27M872.81 403.5H875.41M881.95 403.5H884.55M891.09 403.5H893.69M900.23 403.5H902.83M909.37 403.5H911.97M918.51 403.5H921.11M927.65 403.5H930.25M936.79 403.5H939.39M945.93 403.5H948.53M955.07 403.5H957.67M964.21 403.5H966.81M973.35 403.5H975.95M982.49 403.5H985.09M991.63 403.5H994.23M1000.77 403.5H1003.37M1009.91 403.5H1012.51M1019.05 403.5H1021.65M1028.19 403.5H1030.79M1037.33 403.5H1039.93M1046.47 403.5H1049.07M1055.61 403.5H1058.21M1064.75 403.5H1067.35M1073.89 403.5H1076.49M1083.03 403.5H1085.63M1092.17 403.5H1094.77M1101.31 403.5H1103.91M1110.45 403.5H1113.05M1119.59 403.5H1122.19M1128.73 403.5H1131.33M1137.87 403.5H1140.47M1147.01 403.5H1149.61M1156.15 403.5H1158.75M1165.29 403.5H1167.89M169.03 387.5H171.63M178.17 387.5H180.77M187.31 387.5H189.91M196.45 387.5H199.05M205.59 387.5H208.19M214.73 387.5H217.33M223.87 387.5H226.47M233.01 387.5H235.61M242.15 387.5H244.75M251.29 387.5H253.89M260.43 387.5H263.03M269.57 387.5H272.17M278.71 387.5H281.31M287.85 387.5H290.45M296.99 387.5H299.59M306.13 387.5H308.73M315.27 387.5H317.87M324.41 387.5H327.01M333.55 387.5H336.15M342.69 387.5H345.29M351.83 387.5H354.43M360.97 387.5H363.57M370.11 387.5H372.71M379.25 387.5H381.85M388.39 387.5H390.99M397.53 387.5H400.13M406.67 387.5H409.27M415.81 387.5H418.41M424.95 387.5H427.55M434.09 387.5H436.69M443.23 387.5H445.83M452.37 387.5H454.97M461.51 387.5H464.11M470.65 387.5H473.25M479.79 387.5H482.39M488.93 387.5H491.53M498.07 387.5H500.67M507.21 387.5H509.81M516.35 387.5H518.95M525.49 387.5H528.09M534.63 387.5H537.23M543.77 387.5H546.37M552.91 387.5H555.51M562.05 387.5H564.65M571.19 387.5H573.79M580.33 387.5H582.93M589.47 387.5H592.07M598.61 387.5H601.21M607.75 387.5H610.35M616.89 387.5H619.49M626.03 387.5H628.63M635.17 387.5H637.77M644.31 387.5H646.91M653.45 387.5H656.05M662.59 387.5H665.19M671.73 387.5H674.33M680.87 387.5H683.47M690.01 387.5H692.61M699.15 387.5H701.75M708.29 387.5H710.89M717.43 387.5H720.03M726.57 387.5H729.17M735.71 387.5H738.31M744.85 387.5H747.45M753.99 387.5H756.59M763.13 387.5H765.73M772.27 387.5H774.87M781.41 387.5H784.01M790.55 387.5H793.15M799.69 387.5H802.29M808.83 387.5H811.43M817.97 387.5H820.57M827.11 387.5H829.71M836.25 387.5H838.85M845.39 387.5H847.99M854.53 387.5H857.13M863.67 387.5H866.27M872.81 387.5H875.41M881.95 387.5H884.55M891.09 387.5H893.69M900.23 387.5H902.83M909.37 387.5H911.97M918.51 387.5H921.11M927.65 387.5H930.25M936.79 387.5H939.39M945.93 387.5H948.53M955.07 387.5H957.67M964.21 387.5H966.81M973.35 387.5H975.95M982.49 387.5H985.09M991.63 387.5H994.23M1000.77 387.5H1003.37M1009.91 387.5H1012.51M1019.05 387.5H1021.65M1028.19 387.5H1030.79M1037.33 387.5H1039.93M1046.47 387.5H1049.07M1055.61 387.5H1058.21M1064.75 387.5H1067.35M1073.89 387.5H1076.49M1083.03 387.5H1085.63M1092.17 387.5H1094.77M1101.31 387.5H1103.91M1110.45 387.5H1113.05M1119.59 387.5H1122.19M1128.73 387.5H1131.33M1137.87 387.5H1140.47M1147.01 387.5H1149.61M1156.15 387.5H1158.75M1165.29 387.5H1167.89M169.03 371.5H171.63M178.17 371.5H180.77M187.31 371.5H189.91M196.45 371.5H199.05M205.59 371.5H208.19M214.73 371.5H217.33M223.87 371.5H226.47M233.01 371.5H235.61M242.15 371.5H244.75M251.29 371.5H253.89M260.43 371.5H263.03M269.57 371.5H272.17M278.71 371.5H281.31M287.85 371.5H290.45M296.99 371.5H299.59M306.13 371.5H308.73M315.27 371.5H317.87M324.41 371.5H327.01M333.55 371.5H336.15M342.69 371.5H345.29M351.83 371.5H354.43M360.97 371.5H363.57M370.11 371.5H372.71M379.25 371.5H381.85M388.39 371.5H390.99M397.53 371.5H400.13M406.67 371.5H409.27M415.81 371.5H418.41M424.95 371.5H427.55M434.09 371.5H436.69M443.23 371.5H445.83M452.37 371.5H454.97M461.51 371.5H464.11M470.65 371.5H473.25M479.79 371.5H482.39M488.93 371.5H491.53M498.07 371.5H500.67M507.21 371.5H509.81M516.35 371.5H518.95M525.49 371.5H528.09M534.63 371.5H537.23M543.77 371.5H546.37M552.91 371.5H555.51M562.05 371.5H564.65M571.19 371.5H573.79M580.33 371.5H582.93M589.47 371.5H592.07M598.61 371.5H601.21M607.75 371.5H610.35M616.89 371.5H619.49M626.03 371.5H628.63M635.17 371.5H637.77M644.31 371.5H646.91M653.45 371.5H656.05M662.59 371.5H665.19M671.73 371.5H674.33M680.87 371.5H683.47M690.01 371.5H692.61M699.15 371.5H701.75M708.29 371.5H710.89M717.43 371.5H720.03M726.57 371.5H729.17M735.71 371.5H738.31M744.85 371.5H747.45M753.99 371.5H756.59M763.13 371.5H765.73M772.27 371.5H774.87M781.41 371.5H784.01M790.55 371.5H793.15M799.69 371.5H802.29M808.83 371.5H811.43M817.97 371.5H820.57M827.11 371.5H829.71M836.25 371.5H838.85M845.39 371.5H847.99M854.53 371.5H857.13M863.67 371.5H866.27M872.81 371.5H875.41M881.95 371.5H884.55M891.09 371.5H893.69M900.23 371.5H902.83M909.37 371.5H911.97M918.51 371.5H921.11M927.65 371.5H930.25M936.79 371.5H939.39M945.93 371.5H948.53M955.07 371.5H957.67M964.21 371.5H966.81M973.35 371.5H975.95M982.49 371.5H985.09M991.63 371.5H994.23M1000.77 371.5H1003.37M1009.91 371.5H1012.51M1019.05 371.5H1021.65M1028.19 371.5H1030.79M1037.33 371.5H1039.93M1046.47 371.5H1049.07M1055.61 371.5H1058.21M1064.75 371.5H1067.35M1073.89 371.5H1076.49M1083.03 371.5H1085.63M1092.17 371.5H1094.77M1101.31 371.5H1103.91M1110.45 371.5H1113.05M1119.59 371.5H1122.19M1128.73 371.5H1131.33M1137.87 371.5H1140.47M1147.01 371.5H1149.61M1156.15 371.5H1158.75M1165.29 371.5H1167.89M169.03 355.5H171.63M178.17 355.5H180.77M187.31 355.5H189.91M196.45 355.5H199.05M205.59 355.5H208.19M214.73 355.5H217.33M223.87 355.5H226.47M233.01 355.5H235.61M242.15 355.5H244.75M251.29 355.5H253.89M260.43 355.5H263.03M269.57 355.5H272.17M278.71 355.5H281.31M287.85 355.5H290.45M296.99 355.5H299.59M306.13 355.5H308.73M315.27 355.5H317.87M324.41 355.5H327.01M333.55 355.5H336.15M342.69 355.5H345.29M351.83 355.5H354.43M360.97 355.5H363.57M370.11 355.5H372.71M379.25 355.5H381.85M388.39 355.5H390.99M397.53 355.5H400.13M406.67 355.5H409.27M415.81 355.5H418.41M424.95 355.5H427.55M434.09 355.5H436.69M443.23 355.5H445.83M452.37 355.5H454.97M461.51 355.5H464.11M470.65 355.5H473.25M479.79 355.5H482.39M488.93 355.5H491.53M498.07 355.5H500.67M507.21 355.5H509.81M516.35 355.5H518.95M525.49 355.5H528.09M534.63 355.5H537.23M543.77 355.5H546.37M552.91 355.5H555.51M562.05 355.5H564.65M571.19 355.5H573.79M580.33 355.5H582.93M589.47 355.5H592.07M598.61 355.5H601.21M607.75 355.5H610.35M616.89 355.5H619.49M626.03 355.5H628.63M635.17 355.5H637.77M644.31 355.5H646.91M653.45 355.5H656.05M662.59 355.5H665.19M671.73 355.5H674.33M680.87 355.5H683.47M690.01 355.5H692.61M699.15 355.5H701.75M708.29 355.5H710.89M717.43 355.5H720.03M726.57 355.5H729.17M735.71 355.5H738.31M744.85 355.5H747.45M753.99 355.5H756.59M763.13 355.5H765.73M772.27 355.5H774.87M781.41 355.5H784.01M790.55 355.5H793.15M799.69 355.5H802.29M808.83 355.5H811.43M817.97 355.5H820.57M827.11 355.5H829.71M836.25 355.5H838.85M845.39 355.5H847.99M854.53 355.5H857.13M863.67 355.5H866.27M872.81 355.5H875.41M881.95 355.5H884.55M891.09 355.5H893.69M900.23 355.5H902.83M909.37 355.5H911.97M918.51 355.5H921.11M927.65 355.5H930.25M936.79 355.5H939.39M945.93 355.5H948.53M955.07 355.5H957.67M964.21 355.5H966.81M973.35 355.5H975.95M982.49 355.5H985.09M991.63 355.5H994.23M1000.77 355.5H1003.37M1009.91 355.5H1012.51M1019.05 355.5H1021.65M1028.19 355.5H1030.79M1037.33 355.5H1039.93M1046.47 355.5H1049.07M1055.61 355.5H1058.21M1064.75 355.5H1067.35M1073.89 355.5H1076.49M1083.03 355.5H1085.63M1092.17 355.5H1094.77M1101.31 355.5H1103.91M1110.45 355.5H1113.05M1119.59 355.5H1122.19M1128.73 355.5H1131.33M1137.87 355.5H1140.47M1147.01 355.5H1149.61M1156.15 355.5H1158.75M1165.29 355.5H1167.89M169.03 340.5H171.63M178.17 340.5H180.77M187.31 340.5H189.91M196.45 340.5H199.05M205.59 340.5H208.19M214.73 340.5H217.33M223.87 340.5H226.47M233.01 340.5H235.61M242.15 340.5H244.75M251.29 340.5H253.89M260.43 340.5H263.03M269.57 340.5H272.17M278.71 340.5H281.31M287.85 340.5H290.45M296.99 340.5H299.59M306.13 340.5H308.73M315.27 340.5H317.87M324.41 340.5H327.01M333.55 340.5H336.15M342.69 340.5H345.29M351.83 340.5H354.43M360.97 340.5H363.57M370.11 340.5H372.71M379.25 340.5H381.85M388.39 340.5H390.99M397.53 340.5H400.13M406.67 340.5H409.27M415.81 340.5H418.41M424.95 340.5H427.55M434.09 340.5H436.69M443.23 340.5H445.83M452.37 340.5H454.97M461.51 340.5H464.11M470.65 340.5H473.25M479.79 340.5H482.39M488.93 340.5H491.53M498.07 340.5H500.67M507.21 340.5H509.81M516.35 340.5H518.95M525.49 340.5H528.09M534.63 340.5H537.23M543.77 340.5H546.37M552.91 340.5H555.51M562.05 340.5H564.65M571.19 340.5H573.79M580.33 340.5H582.93M589.47 340.5H592.07M598.61 340.5H601.21M607.75 340.5H610.35M616.89 340.5H619.49M626.03 340.5H628.63M635.17 340.5H637.77M644.31 340.5H646.91M653.45 340.5H656.05M662.59 340.5H665.19M671.73 340.5H674.33M680.87 340.5H683.47M690.01 340.5H692.61M699.15 340.5H701.75M708.29 340.5H710.89M717.43 340.5H720.03M726.57 340.5H729.17M735.71 340.5H738.31M744.85 340.5H747.45M753.99 340.5H756.59M763.13 340.5H765.73M772.27 340.5H774.87M781.41 340.5H784.01M790.55 340.5H793.15M799.69 340.5H802.29M808.83 340.5H811.43M817.97 340.5H820.57M827.11 340.5H829.71M836.25 340.5H838.85M845.39 340.5H847.99M854.53 340.5H857.13M863.67 340.5H866.27M872.81 340.5H875.41M881.95 340.5H884.55M891.09 340.5H893.69M900.23 340.5H902.83M909.37 340.5H911.97M918.51 340.5H921.11M927.65 340.5H930.25M936.79 340.5H939.39M945.93 340.5H948.53M955.07 340.5H957.67M964.21 340.5H966.81M973.35 340.5H975.95M982.49 340.5H985.09M991.63 340.5H994.23M1000.77 340.5H1003.37M1009.91 340.5H1012.51M1019.05 340.5H1021.65M1028.19 340.5H1030.79M1037.33 340.5H1039.93M1046.47 340.5H1049.07M1055.61 340.5H1058.21M1064.75 340.5H1067.35M1073.89 340.5H1076.49M1083.03 340.5H1085.63M1092.17 340.5H1094.77M1101.31 340.5H1103.91M1110.45 340.5H1113.05M1119.59 340.5H1122.19M1128.73 340.5H1131.33M1137.87 340.5H1140.47M1147.01 340.5H1149.61M1156.15 340.5H1158.75M1165.29 340.5H1167.89M169.03 324.5H171.63M178.17 324.5H180.77M187.31 324.5H189.91M196.45 324.5H199.05M205.59 324.5H208.19M214.73 324.5H217.33M223.87 324.5H226.47M233.01 324.5H235.61M242.15 324.5H244.75M251.29 324.5H253.89M260.43 324.5H263.03M269.57 324.5H272.17M278.71 324.5H281.31M287.85 324.5H290.45M296.99 324.5H299.59M306.13 324.5H308.73M315.27 324.5H317.87M324.41 324.5H327.01M333.55 324.5H336.15M342.69 324.5H345.29M351.83 324.5H354.43M360.97 324.5H363.57M370.11 324.5H372.71M379.25 324.5H381.85M388.39 324.5H390.99M397.53 324.5H400.13M406.67 324.5H409.27M415.81 324.5H418.41M424.95 324.5H427.55M434.09 324.5H436.69M443.23 324.5H445.83M452.37 324.5H454.97M461.51 324.5H464.11M470.65 324.5H473.25M479.79 324.5H482.39M488.93 324.5H491.53M498.07 324.5H500.67M507.21 324.5H509.81M516.35 324.5H518.95M525.49 324.5H528.09M534.63 324.5H537.23M543.77 324.5H546.37M552.91 324.5H555.51M562.05 324.5H564.65M571.19 324.5H573.79M580.33 324.5H582.93M589.47 324.5H592.07M598.61 324.5H601.21M607.75 324.5H610.35M616.89 324.5H619.49M626.03 324.5H628.63M635.17 324.5H637.77M644.31 324.5H646.91M653.45 324.5H656.05M662.59 324.5H665.19M671.73 324.5H674.33M680.87 324.5H683.47M690.01 324.5H692.61M699.15 324.5H701.75M708.29 324.5H710.89M717.43 324.5H720.03M726.57 324.5H729.17M735.71 324.5H738.31M744.85 324.5H747.45M753.99 324.5H756.59M763.13 324.5H765.73M772.27 324.5H774.87M781.41 324.5H784.01M790.55 324.5H793.15M799.69 324.5H802.29M808.83 324.5H811.43M817.97 324.5H820.57M827.11 324.5H829.71M836.25 324.5H838.85M845.39 324.5H847.99M854.53 324.5H857.13M863.67 324.5H866.27M872.81 324.5H875.41M881.95 324.5H884.55M891.09 324.5H893.69M900.23 324.5H902.83M909.37 324.5H911.97M918.51 324.5H921.11M927.65 324.5H930.25M936.79 324.5H939.39M945.93 324.5H948.53M955.07 324.5H957.67M964.21 324.5H966.81M973.35 324.5H975.95M982.49 324.5H985.09M991.63 324.5H994.23M1000.77 324.5H1003.37M1009.91 324.5H1012.51M1019.05 324.5H1021.65M1028.19 324.5H1030.79M1037.33 324.5H1039.93M1046.47 324.5H1049.07M1055.61 324.5H1058.21M1064.75 324.5H1067.35M1073.89 324.5H1076.49M1083.03 324.5H1085.63M1092.17 324.5H1094.77M1101.31 324.5H1103.91M1110.45 324.5H1113.05M1119.59 324.5H1122.19M1128.73 324.5H1131.33M1137.87 324.5H1140.47M1147.01 324.5H1149.61M1156.15 324.5H1158.75M1165.29 324.5H1167.89M169.03 308.5H171.63M178.17 308.5H180.77M187.31 308.5H189.91M196.45 308.5H199.05M205.59 308.5H208.19M214.73 308.5H217.33M223.87 308.5H226.47M233.01 308.5H235.61M242.15 308.5H244.75M251.29 308.5H253.89M260.43 308.5H263.03M269.57 308.5H272.17M278.71 308.5H281.31M287.85 308.5H290.45M296.99 308.5H299.59M306.13 308.5H308.73M315.27 308.5H317.87M324.41 308.5H327.01M333.55 308.5H336.15M342.69 308.5H345.29M351.83 308.5H354.43M360.97 308.5H363.57M370.11 308.5H372.71M379.25 308.5H381.85M388.39 308.5H390.99M397.53 308.5H400.13M406.67 308.5H409.27M415.81 308.5H418.41M424.95 308.5H427.55M434.09 308.5H436.69M443.23 308.5H445.83M452.37 308.5H454.97M461.51 308.5H464.11M470.65 308.5H473.25M479.79 308.5H482.39M488.93 308.5H491.53M498.07 308.5H500.67M507.21 308.5H509.81M516.35 308.5H518.95M525.49 308.5H528.09M534.63 308.5H537.23M543.77 308.5H546.37M552.91 308.5H555.51M562.05 308.5H564.65M571.19 308.5H573.79M580.33 308.5H582.93M589.47 308.5H592.07M598.61 308.5H601.21M607.75 308.5H610.35M616.89 308.5H619.49M626.03 308.5H628.63M635.17 308.5H637.77M644.31 308.5H646.91M653.45 308.5H656.05M662.59 308.5H665.19M671.73 308.5H674.33M680.87 308.5H683.47M690.01 308.5H692.61M699.15 308.5H701.75M708.29 308.5H710.89M717.43 308.5H720.03M726.57 308.5H729.17M735.71 308.5H738.31M744.85 308.5H747.45M753.99 308.5H756.59M763.13 308.5H765.73M772.27 308.5H774.87M781.41 308.5H784.01M790.55 308.5H793.15M799.69 308.5H802.29M808.83 308.5H811.43M817.97 308.5H820.57M827.11 308.5H829.71M836.25 308.5H838.85M845.39 308.5H847.99M854.53 308.5H857.13M863.67 308.5H866.27M872.81 308.5H875.41M881.95 308.5H884.55M891.09 308.5H893.69M900.23 308.5H902.83M909.37 308.5H911.97M918.51 308.5H921.11M927.65 308.5H930.25M936.79 308.5H939.39M945.93 308.5H948.53M955.07 308.5H957.67M964.21 308.5H966.81M973.35 308.5H975.95M982.49 308.5H985.09M991.63 308.5H994.23M1000.77 308.5H1003.37M1009.91 308.5H1012.51M1019.05 308.5H1021.65M1028.19 308.5H1030.79M1037.33 308.5H1039.93M1046.47 308.5H1049.07M1055.61 308.5H1058.21M1064.75 308.5H1067.35M1073.89 308.5H1076.49M1083.03 308.5H1085.63M1092.17 308.5H1094.77M1101.31 308.5H1103.91M1110.45 308.5H1113.05M1119.59 308.5H1122.19M1128.73 308.5H1131.33M1137.87 308.5H1140.47M1147.01 308.5H1149.61M1156.15 308.5H1158.75M1165.29 308.5H1167.89M169.03 292.5H171.63M178.17 292.5H180.77M187.31 292.5H189.91M196.45 292.5H199.05M205.59 292.5H208.19M214.73 292.5H217.33M223.87 292.5H226.47M233.01 292.5H235.61M242.15 292.5H244.75M251.29 292.5H253.89M260.43 292.5H263.03M269.57 292.5H272.17M278.71 292.5H281.31M287.85 292.5H290.45M296.99 292.5H299.59M306.13 292.5H308.73M315.27 292.5H317.87M324.41 292.5H327.01M333.55 292.5H336.15M342.69 292.5H345.29M351.83 292.5H354.43M360.97 292.5H363.57M370.11 292.5H372.71M379.25 292.5H381.85M388.39 292.5H390.99M397.53 292.5H400.13M406.67 292.5H409.27M415.81 292.5H418.41M424.95 292.5H427.55M434.09 292.5H436.69M443.23 292.5H445.83M452.37 292.5H454.97M461.51 292.5H464.11M470.65 292.5H473.25M479.79 292.5H482.39M488.93 292.5H491.53M498.07 292.5H500.67M507.21 292.5H509.81M516.35 292.5H518.95M525.49 292.5H528.09M534.63 292.5H537.23M543.77 292.5H546.37M552.91 292.5H555.51M562.05 292.5H564.65M571.19 292.5H573.79M580.33 292.5H582.93M589.47 292.5H592.07M598.61 292.5H601.21M607.75 292.5H610.35M616.89 292.5H619.49M626.03 292.5H628.63M635.17 292.5H637.77M644.31 292.5H646.91M653.45 292.5H656.05M662.59 292.5H665.19M671.73 292.5H674.33M680.87 292.5H683.47M690.01 292.5H692.61M699.15 292.5H701.75M708.29 292.5H710.89M717.43 292.5H720.03M726.57 292.5H729.17M735.71 292.5H738.31M744.85 292.5H747.45M753.99 292.5H756.59M763.13 292.5H765.73M772.27 292.5H774.87M781.41 292.5H784.01M790.55 292.5H793.15M799.69 292.5H802.29M808.83 292.5H811.43M817.97 292.5H820.57M827.11 292.5H829.71M836.25 292.5H838.85M845.39 292.5H847.99M854.53 292.5H857.13M863.67 292.5H866.27M872.81 292.5H875.41M881.95 292.5H884.55M891.09 292.5H893.69M900.23 292.5H902.83M909.37 292.5H911.97M918.51 292.5H921.11M927.65 292.5H930.25M936.79 292.5H939.39M945.93 292.5H948.53M955.07 292.5H957.67M964.21 292.5H966.81M973.35 292.5H975.95M982.49 292.5H985.09M991.63 292.5H994.23M1000.77 292.5H1003.37M1009.91 292.5H1012.51M1019.05 292.5H1021.65M1028.19 292.5H1030.79M1037.33 292.5H1039.93M1046.47 292.5H1049.07M1055.61 292.5H1058.21M1064.75 292.5H1067.35M1073.89 292.5H1076.49M1083.03 292.5H1085.63M1092.17 292.5H1094.77M1101.31 292.5H1103.91M1110.45 292.5H1113.05M1119.59 292.5H1122.19M1128.73 292.5H1131.33M1137.87 292.5H1140.47M1147.01 292.5H1149.61M1156.15 292.5H1158.75M1165.29 292.5H1167.89M169.03 276.5H171.63M178.17 276.5H180.77M187.31 276.5H189.91M196.45 276.5H199.05M205.59 276.5H208.19M214.73 276.5H217.33M223.87 276.5H226.47M233.01 276.5H235.61M242.15 276.5H244.75M251.29 276.5H253.89M260.43 276.5H263.03M269.57 276.5H272.17M278.71 276.5H281.31M287.85 276.5H290.45M296.99 276.5H299.59M306.13 276.5H308.73M315.27 276.5H317.87M324.41 276.5H327.01M333.55 276.5H336.15M342.69 276.5H345.29M351.83 276.5H354.43M360.97 276.5H363.57M370.11 276.5H372.71M379.25 276.5H381.85M388.39 276.5H390.99M397.53 276.5H400.13M406.67 276.5H409.27M415.81 276.5H418.41M424.95 276.5H427.55M434.09 276.5H436.69M443.23 276.5H445.83M452.37 276.5H454.97M461.51 276.5H464.11M470.65 276.5H473.25M479.79 276.5H482.39M488.93 276.5H491.53M498.07 276.5H500.67M507.21 276.5H509.81M516.35 276.5H518.95M525.49 276.5H528.09M534.63 276.5H537.23M543.77 276.5H546.37M552.91 276.5H555.51M562.05 276.5H564.65M571.19 276.5H573.79M580.33 276.5H582.93M589.47 276.5H592.07M598.61 276.5H601.21M607.75 276.5H610.35M616.89 276.5H619.49M626.03 276.5H628.63M635.17 276.5H637.77M644.31 276.5H646.91M653.45 276.5H656.05M662.59 276.5H665.19M671.73 276.5H674.33M680.87 276.5H683.47M690.01 276.5H692.61M699.15 276.5H701.75M708.29 276.5H710.89M717.43 276.5H720.03M726.57 276.5H729.17M735.71 276.5H738.31M744.85 276.5H747.45M753.99 276.5H756.59M763.13 276.5H765.73M772.27 276.5H774.87M781.41 276.5H784.01M790.55 276.5H793.15M799.69 276.5H802.29M808.83 276.5H811.43M817.97 276.5H820.57M827.11 276.5H829.71M836.25 276.5H838.85M845.39 276.5H847.99M854.53 276.5H857.13M863.67 276.5H866.27M872.81 276.5H875.41M881.95 276.5H884.55M891.09 276.5H893.69M900.23 276.5H902.83M909.37 276.5H911.97M918.51 276.5H921.11M927.65 276.5H930.25M936.79 276.5H939.39M945.93 276.5H948.53M955.07 276.5H957.67M964.21 276.5H966.81M973.35 276.5H975.95M982.49 276.5H985.09M991.63 276.5H994.23M1000.77 276.5H1003.37M1009.91 276.5H1012.51M1019.05 276.5H1021.65M1028.19 276.5H1030.79M1037.33 276.5H1039.93M1046.47 276.5H1049.07M1055.61 276.5H1058.21M1064.75 276.5H1067.35M1073.89 276.5H1076.49M1083.03 276.5H1085.63M1092.17 276.5H1094.77M1101.31 276.5H1103.91M1110.45 276.5H1113.05M1119.59 276.5H1122.19M1128.73 276.5H1131.33M1137.87 276.5H1140.47M1147.01 276.5H1149.61M1156.15 276.5H1158.75M1165.29 276.5H1167.89M169.03 261.5H171.63M178.17 261.5H180.77M187.31 261.5H189.91M196.45 261.5H199.05M205.59 261.5H208.19M214.73 261.5H217.33M223.87 261.5H226.47M233.01 261.5H235.61M242.15 261.5H244.75M251.29 261.5H253.89M260.43 261.5H263.03M269.57 261.5H272.17M278.71 261.5H281.31M287.85 261.5H290.45M296.99 261.5H299.59M306.13 261.5H308.73M315.27 261.5H317.87M324.41 261.5H327.01M333.55 261.5H336.15M342.69 261.5H345.29M351.83 261.5H354.43M360.97 261.5H363.57M370.11 261.5H372.71M379.25 261.5H381.85M388.39 261.5H390.99M397.53 261.5H400.13M406.67 261.5H409.27M415.81 261.5H418.41M424.95 261.5H427.55M434.09 261.5H436.69M443.23 261.5H445.83M452.37 261.5H454.97M461.51 261.5H464.11M470.65 261.5H473.25M479.79 261.5H482.39M488.93 261.5H491.53M498.07 261.5H500.67M507.21 261.5H509.81M516.35 261.5H518.95M525.49 261.5H528.09M534.63 261.5H537.23M543.77 261.5H546.37M552.91 261.5H555.51M562.05 261.5H564.65M571.19 261.5H573.79M580.33 261.5H582.93M589.47 261.5H592.07M598.61 261.5H601.21M607.75 261.5H610.35M616.89 261.5H619.49M626.03 261.5H628.63M635.17 261.5H637.77M644.31 261.5H646.91M653.45 261.5H656.05M662.59 261.5H665.19M671.73 261.5H674.33M680.87 261.5H683.47M690.01 261.5H692.61M699.15 261.5H701.75M708.29 261.5H710.89M717.43 261.5H720.03M726.57 261.5H729.17M735.71 261.5H738.31M744.85 261.5H747.45M753.99 261.5H756.59M763.13 261.5H765.73M772.27 261.5H774.87M781.41 261.5H784.01M790.55 261.5H793.15M799.69 261.5H802.29M808.83 261.5H811.43M817.97 261.5H820.57M827.11 261.5H829.71M836.25 261.5H838.85M845.39 261.5H847.99M854.53 261.5H857.13M863.67 261.5H866.27M872.81 261.5H875.41M881.95 261.5H884.55M891.09 261.5H893.69M900.23 261.5H902.83M909.37 261.5H911.97M918.51 261.5H921.11M927.65 261.5H930.25M936.79 261.5H939.39M945.93 261.5H948.53M955.07 261.5H957.67M964.21 261.5H966.81M973.35 261.5H975.95M982.49 261.5H985.09M991.63 261.5H994.23M1000.77 261.5H1003.37M1009.91 261.5H1012.51M1019.05 261.5H1021.65M1028.19 261.5H1030.79M1037.33 261.5H1039.93M1046.47 261.5H1049.07M1055.61 261.5H1058.21M1064.75 261.5H1067.35M1073.89 261.5H1076.49M1083.03 261.5H1085.63M1092.17 261.5H1094.77M1101.31 261.5H1103.91M1110.45 261.5H1113.05M1119.59 261.5H1122.19M1128.73 261.5H1131.33M1137.87 261.5H1140.47M1147.01 261.5H1149.61M1156.15 261.5H1158.75M1165.29 261.5H1167.89M169.03 245.5H171.63M178.17 245.5H180.77M187.31 245.5H189.91M196.45 245.5H199.05M205.59 245.5H208.19M214.73 245.5H217.33M223.87 245.5H226.47M233.01 245.5H235.61M242.15 245.5H244.75M251.29 245.5H253.89M260.43 245.5H263.03M269.57 245.5H272.17M278.71 245.5H281.31M287.85 245.5H290.45M296.99 245.5H299.59M306.13 245.5H308.73M315.27 245.5H317.87M324.41 245.5H327.01M333.55 245.5H336.15M342.69 245.5H345.29M351.83 245.5H354.43M360.97 245.5H363.57M370.11 245.5H372.71M379.25 245.5H381.85M388.39 245.5H390.99M397.53 245.5H400.13M406.67 245.5H409.27M415.81 245.5H418.41M424.95 245.5H427.55M434.09 245.5H436.69M443.23 245.5H445.83M452.37 245.5H454.97M461.51 245.5H464.11M470.65 245.5H473.25M479.79 245.5H482.39M488.93 245.5H491.53M498.07 245.5H500.67M507.21 245.5H509.81M516.35 245.5H518.95M525.49 245.5H528.09M534.63 245.5H537.23M543.77 245.5H546.37M552.91 245.5H555.51M562.05 245.5H564.65M571.19 245.5H573.79M580.33 245.5H582.93M589.47 245.5H592.07M598.61 245.5H601.21M607.75 245.5H610.35M616.89 245.5H619.49M626.03 245.5H628.63M635.17 245.5H637.77M644.31 245.5H646.91M653.45 245.5H656.05M662.59 245.5H665.19M671.73 245.5H674.33M680.87 245.5H683.47M690.01 245.5H692.61M699.15 245.5H701.75M708.29 245.5H710.89M717.43 245.5H720.03M726.57 245.5H729.17M735.71 245.5H738.31M744.85 245.5H747.45M753.99 245.5H756.59M763.13 245.5H765.73M772.27 245.5H774.87M781.41 245.5H784.01M790.55 245.5H793.15M799.69 245.5H802.29M808.83 245.5H811.43M817.97 245.5H820.57M827.11 245.5H829.71M836.25 245.5H838.85M845.39 245.5H847.99M854.53 245.5H857.13M863.67 245.5H866.27M872.81 245.5H875.41M881.95 245.5H884.55M891.09 245.5H893.69M900.23 245.5H902.83M909.37 245.5H911.97M918.51 245.5H921.11M927.65 245.5H930.25M936.79 245.5H939.39M945.93 245.5H948.53M955.07 245.5H957.67M964.21 245.5H966.81M973.35 245.5H975.95M982.49 245.5H985.09M991.63 245.5H994.23M1000.77 245.5H1003.37M1009.91 245.5H1012.51M1019.05 245.5H1021.65M1028.19 245.5H1030.79M1037.33 245.5H1039.93M1046.47 245.5H1049.07M1055.61 245.5H1058.21M1064.75 245.5H1067.35M1073.89 245.5H1076.49M1083.03 245.5H1085.63M1092.17 245.5H1094.77M1101.31 245.5H1103.91M1110.45 245.5H1113.05M1119.59 245.5H1122.19M1128.73 245.5H1131.33M1137.87 245.5H1140.47M1147.01 245.5H1149.61M1156.15 245.5H1158.75M1165.29 245.5H1167.89M169.03 229.5H171.63M178.17 229.5H180.77M187.31 229.5H189.91M196.45 229.5H199.05M205.59 229.5H208.19M214.73 229.5H217.33M223.87 229.5H226.47M233.01 229.5H235.61M242.15 229.5H244.75M251.29 229.5H253.89M260.43 229.5H263.03M269.57 229.5H272.17M278.71 229.5H281.31M287.85 229.5H290.45M296.99 229.5H299.59M306.13 229.5H308.73M315.27 229.5H317.87M324.41 229.5H327.01M333.55 229.5H336.15M342.69 229.5H345.29M351.83 229.5H354.43M360.97 229.5H363.57M370.11 229.5H372.71M379.25 229.5H381.85M388.39 229.5H390.99M397.53 229.5H400.13M406.67 229.5H409.27M415.81 229.5H418.41M424.95 229.5H427.55M434.09 229.5H436.69M443.23 229.5H445.83M452.37 229.5H454.97M461.51 229.5H464.11M470.65 229.5H473.25M479.79 229.5H482.39M488.93 229.5H491.53M498.07 229.5H500.67M507.21 229.5H509.81M516.35 229.5H518.95M525.49 229.5H528.09M534.63 229.5H537.23M543.77 229.5H546.37M552.91 229.5H555.51M562.05 229.5H564.65M571.19 229.5H573.79M580.33 229.5H582.93M589.47 229.5H592.07M598.61 229.5H601.21M607.75 229.5H610.35M616.89 229.5H619.49M626.03 229.5H628.63M635.17 229.5H637.77M644.31 229.5H646.91M653.45 229.5H656.05M662.59 229.5H665.19M671.73 229.5H674.33M680.87 229.5H683.47M690.01 229.5H692.61M699.15 229.5H701.75M708.29 229.5H710.89M717.43 229.5H720.03M726.57 229.5H729.17M735.71 229.5H738.31M744.85 229.5H747.45M753.99 229.5H756.59M763.13 229.5H765.73M772.27 229.5H774.87M781.41 229.5H784.01M790.55 229.5H793.15M799.69 229.5H802.29M808.83 229.5H811.43M817.97 229.5H820.57M827.11 229.5H829.71M836.25 229.5H838.85M845.39 229.5H847.99M854.53 229.5H857.13M863.67 229.5H866.27M872.81 229.5H875.41M881.95 229.5H884.55M891.09 229.5H893.69M900.23 229.5H902.83M909.37 229.5H911.97M918.51 229.5H921.11M927.65 229.5H930.25M936.79 229.5H939.39M945.93 229.5H948.53M955.07 229.5H957.67M964.21 229.5H966.81M973.35 229.5H975.95M982.49 229.5H985.09M991.63 229.5H994.23M1000.77 229.5H1003.37M1009.91 229.5H1012.51M1019.05 229.5H1021.65M1028.19 229.5H1030.79M1037.33 229.5H1039.93M1046.47 229.5H1049.07M1055.61 229.5H1058.21M1064.75 229.5H1067.35M1073.89 229.5H1076.49M1083.03 229.5H1085.63M1092.17 229.5H1094.77M1101.31 229.5H1103.91M1110.45 229.5H1113.05M1119.59 229.5H1122.19M1128.73 229.5H1131.33M1137.87 229.5H1140.47M1147.01 229.5H1149.61M1156.15 229.5H1158.75M1165.29 229.5H1167.89M169.03 213.5H171.63M178.17 213.5H180.77M187.31 213.5H189.91M196.45 213.5H199.05M205.59 213.5H208.19M214.73 213.5H217.33M223.87 213.5H226.47M233.01 213.5H235.61M242.15 213.5H244.75M251.29 213.5H253.89M260.43 213.5H263.03M269.57 213.5H272.17M278.71 213.5H281.31M287.85 213.5H290.45M296.99 213.5H299.59M306.13 213.5H308.73M315.27 213.5H317.87M324.41 213.5H327.01M333.55 213.5H336.15M342.69 213.5H345.29M351.83 213.5H354.43M360.97 213.5H363.57M370.11 213.5H372.71M379.25 213.5H381.85M388.39 213.5H390.99M397.53 213.5H400.13M406.67 213.5H409.27M415.81 213.5H418.41M424.95 213.5H427.55M434.09 213.5H436.69M443.23 213.5H445.83M452.37 213.5H454.97M461.51 213.5H464.11M470.65 213.5H473.25M479.79 213.5H482.39M488.93 213.5H491.53M498.07 213.5H500.67M507.21 213.5H509.81M516.35 213.5H518.95M525.49 213.5H528.09M534.63 213.5H537.23M543.77 213.5H546.37M552.91 213.5H555.51M562.05 213.5H564.65M571.19 213.5H573.79M580.33 213.5H582.93M589.47 213.5H592.07M598.61 213.5H601.21M607.75 213.5H610.35M616.89 213.5H619.49M626.03 213.5H628.63M635.17 213.5H637.77M644.31 213.5H646.91M653.45 213.5H656.05M662.59 213.5H665.19M671.73 213.5H674.33M680.87 213.5H683.47M690.01 213.5H692.61M699.15 213.5H701.75M708.29 213.5H710.89M717.43 213.5H720.03M726.57 213.5H729.17M735.71 213.5H738.31M744.85 213.5H747.45M753.99 213.5H756.59M763.13 213.5H765.73M772.27 213.5H774.87M781.41 213.5H784.01M790.55 213.5H793.15M799.69 213.5H802.29M808.83 213.5H811.43M817.97 213.5H820.57M827.11 213.5H829.71M836.25 213.5H838.85M845.39 213.5H847.99M854.53 213.5H857.13M863.67 213.5H866.27M872.81 213.5H875.41M881.95 213.5H884.55M891.09 213.5H893.69M900.23 213.5H902.83M909.37 213.5H911.97M918.51 213.5H921.11M927.65 213.5H930.25M936.79 213.5H939.39M945.93 213.5H948.53M955.07 213.5H957.67M964.21 213.5H966.81M973.35 213.5H975.95M982.49 213.5H985.09M991.63 213.5H994.23M1000.77 213.5H1003.37M1009.91 213.5H1012.51M1019.05 213.5H1021.65M1028.19 213.5H1030.79M1037.33 213.5H1039.93M1046.47 213.5H1049.07M1055.61 213.5H1058.21M1064.75 213.5H1067.35M1073.89 213.5H1076.49M1083.03 213.5H1085.63M1092.17 213.5H1094.77M1101.31 213.5H1103.91M1110.45 213.5H1113.05M1119.59 213.5H1122.19M1128.73 213.5H1131.33M1137.87 213.5H1140.47M1147.01 213.5H1149.61M1156.15 213.5H1158.75M1165.29 213.5H1167.89M169.03 197.5H171.63M178.17 197.5H180.77M187.31 197.5H189.91M196.45 197.5H199.05M205.59 197.5H208.19M214.73 197.5H217.33M223.87 197.5H226.47M233.01 197.5H235.61M242.15 197.5H244.75M251.29 197.5H253.89M260.43 197.5H263.03M269.57 197.5H272.17M278.71 197.5H281.31M287.85 197.5H290.45M296.99 197.5H299.59M306.13 197.5H308.73M315.27 197.5H317.87M324.41 197.5H327.01M333.55 197.5H336.15M342.69 197.5H345.29M351.83 197.5H354.43M360.97 197.5H363.57M370.11 197.5H372.71M379.25 197.5H381.85M388.39 197.5H390.99M397.53 197.5H400.13M406.67 197.5H409.27M415.81 197.5H418.41M424.95 197.5H427.55M434.09 197.5H436.69M443.23 197.5H445.83M452.37 197.5H454.97M461.51 197.5H464.11M470.65 197.5H473.25M479.79 197.5H482.39M488.93 197.5H491.53M498.07 197.5H500.67M507.21 197.5H509.81M516.35 197.5H518.95M525.49 197.5H528.09M534.63 197.5H537.23M543.77 197.5H546.37M552.91 197.5H555.51M562.05 197.5H564.65M571.19 197.5H573.79M580.33 197.5H582.93M589.47 197.5H592.07M598.61 197.5H601.21M607.75 197.5H610.35M616.89 197.5H619.49M626.03 197.5H628.63M635.17 197.5H637.77M644.31 197.5H646.91M653.45 197.5H656.05M662.59 197.5H665.19M671.73 197.5H674.33M680.87 197.5H683.47M690.01 197.5H692.61M699.15 197.5H701.75M708.29 197.5H710.89M717.43 197.5H720.03M726.57 197.5H729.17M735.71 197.5H738.31M744.85 197.5H747.45M753.99 197.5H756.59M763.13 197.5H765.73M772.27 197.5H774.87M781.41 197.5H784.01M790.55 197.5H793.15M799.69 197.5H802.29M808.83 197.5H811.43M817.97 197.5H820.57M827.11 197.5H829.71M836.25 197.5H838.85M845.39 197.5H847.99M854.53 197.5H857.13M863.67 197.5H866.27M872.81 197.5H875.41M881.95 197.5H884.55M891.09 197.5H893.69M900.23 197.5H902.83M909.37 197.5H911.97M918.51 197.5H921.11M927.65 197.5H930.25M936.79 197.5H939.39M945.93 197.5H948.53M955.07 197.5H957.67M964.21 197.5H966.81M973.35 197.5H975.95M982.49 197.5H985.09M991.63 197.5H994.23M1000.77 197.5H1003.37M1009.91 197.5H1012.51M1019.05 197.5H1021.65M1028.19 197.5H1030.79M1037.33 197.5H1039.93M1046.47 197.5H1049.07M1055.61 197.5H1058.21M1064.75 197.5H1067.35M1073.89 197.5H1076.49M1083.03 197.5H1085.63M1092.17 197.5H1094.77M1101.31 197.5H1103.91M1110.45 197.5H1113.05M1119.59 197.5H1122.19M1128.73 197.5H1131.33M1137.87 197.5H1140.47M1147.01 197.5H1149.61M1156.15 197.5H1158.75M1165.29 197.5H1167.89M169.03 182.5H171.63M178.17 182.5H180.77M187.31 182.5H189.91M196.45 182.5H199.05M205.59 182.5H208.19M214.73 182.5H217.33M223.87 182.5H226.47M233.01 182.5H235.61M242.15 182.5H244.75M251.29 182.5H253.89M260.43 182.5H263.03M269.57 182.5H272.17M278.71 182.5H281.31M287.85 182.5H290.45M296.99 182.5H299.59M306.13 182.5H308.73M315.27 182.5H317.87M324.41 182.5H327.01M333.55 182.5H336.15M342.69 182.5H345.29M351.83 182.5H354.43M360.97 182.5H363.57M370.11 182.5H372.71M379.25 182.5H381.85M388.39 182.5H390.99M397.53 182.5H400.13M406.67 182.5H409.27M415.81 182.5H418.41M424.95 182.5H427.55M434.09 182.5H436.69M443.23 182.5H445.83M452.37 182.5H454.97M461.51 182.5H464.11M470.65 182.5H473.25M479.79 182.5H482.39M488.93 182.5H491.53M498.07 182.5H500.67M507.21 182.5H509.81M516.35 182.5H518.95M525.49 182.5H528.09M534.63 182.5H537.23M543.77 182.5H546.37M552.91 182.5H555.51M562.05 182.5H564.65M571.19 182.5H573.79M580.33 182.5H582.93M589.47 182.5H592.07M598.61 182.5H601.21M607.75 182.5H610.35M616.89 182.5H619.49M626.03 182.5H628.63M635.17 182.5H637.77M644.31 182.5H646.91M653.45 182.5H656.05M662.59 182.5H665.19M671.73 182.5H674.33M680.87 182.5H683.47M690.01 182.5H692.61M699.15 182.5H701.75M708.29 182.5H710.89M717.43 182.5H720.03M726.57 182.5H729.17M735.71 182.5H738.31M744.85 182.5H747.45M753.99 182.5H756.59M763.13 182.5H765.73M772.27 182.5H774.87M781.41 182.5H784.01M790.55 182.5H793.15M799.69 182.5H802.29M808.83 182.5H811.43M817.97 182.5H820.57M827.11 182.5H829.71M836.25 182.5H838.85M845.39 182.5H847.99M854.53 182.5H857.13M863.67 182.5H866.27M872.81 182.5H875.41M881.95 182.5H884.55M891.09 182.5H893.69M900.23 182.5H902.83M909.37 182.5H911.97M918.51 182.5H921.11M927.65 182.5H930.25M936.79 182.5H939.39M945.93 182.5H948.53M955.07 182.5H957.67M964.21 182.5H966.81M973.35 182.5H975.95M982.49 182.5H985.09M991.63 182.5H994.23M1000.77 182.5H1003.37M1009.91 182.5H1012.51M1019.05 182.5H1021.65M1028.19 182.5H1030.79M1037.33 182.5H1039.93M1046.47 182.5H1049.07M1055.61 182.5H1058.21M1064.75 182.5H1067.35M1073.89 182.5H1076.49M1083.03 182.5H1085.63M1092.17 182.5H1094.77M1101.31 182.5H1103.91M1110.45 182.5H1113.05M1119.59 182.5H1122.19M1128.73 182.5H1131.33M1137.87 182.5H1140.47M1147.01 182.5H1149.61M1156.15 182.5H1158.75M1165.29 182.5H1167.89M169.03 166.5H171.63M178.17 166.5H180.77M187.31 166.5H189.91M196.45 166.5H199.05M205.59 166.5H208.19M214.73 166.5H217.33M223.87 166.5H226.47M233.01 166.5H235.61M242.15 166.5H244.75M251.29 166.5H253.89M260.43 166.5H263.03M269.57 166.5H272.17M278.71 166.5H281.31M287.85 166.5H290.45M296.99 166.5H299.59M306.13 166.5H308.73M315.27 166.5H317.87M324.41 166.5H327.01M333.55 166.5H336.15M342.69 166.5H345.29M351.83 166.5H354.43M360.97 166.5H363.57M370.11 166.5H372.71M379.25 166.5H381.85M388.39 166.5H390.99M397.53 166.5H400.13M406.67 166.5H409.27M415.81 166.5H418.41M424.95 166.5H427.55M434.09 166.5H436.69M443.23 166.5H445.83M452.37 166.5H454.97M461.51 166.5H464.11M470.65 166.5H473.25M479.79 166.5H482.39M488.93 166.5H491.53M498.07 166.5H500.67M507.21 166.5H509.81M516.35 166.5H518.95M525.49 166.5H528.09M534.63 166.5H537.23M543.77 166.5H546.37M552.91 166.5H555.51M562.05 166.5H564.65M571.19 166.5H573.79M580.33 166.5H582.93M589.47 166.5H592.07M598.61 166.5H601.21M607.75 166.5H610.35M616.89 166.5H619.49M626.03 166.5H628.63M635.17 166.5H637.77M644.31 166.5H646.91M653.45 166.5H656.05M662.59 166.5H665.19M671.73 166.5H674.33M680.87 166.5H683.47M690.01 166.5H692.61M699.15 166.5H701.75M708.29 166.5H710.89M717.43 166.5H720.03M726.57 166.5H729.17M735.71 166.5H738.31M744.85 166.5H747.45M753.99 166.5H756.59M763.13 166.5H765.73M772.27 166.5H774.87M781.41 166.5H784.01M790.55 166.5H793.15M799.69 166.5H802.29M808.83 166.5H811.43M817.97 166.5H820.57M827.11 166.5H829.71M836.25 166.5H838.85M845.39 166.5H847.99M854.53 166.5H857.13M863.67 166.5H866.27M872.81 166.5H875.41M881.95 166.5H884.55M891.09 166.5H893.69M900.23 166.5H902.83M909.37 166.5H911.97M918.51 166.5H921.11M927.65 166.5H930.25M936.79 166.5H939.39M945.93 166.5H948.53M955.07 166.5H957.67M964.21 166.5H966.81M973.35 166.5H975.95M982.49 166.5H985.09M991.63 166.5H994.23M1000.77 166.5H1003.37M1009.91 166.5H1012.51M1019.05 166.5H1021.65M1028.19 166.5H1030.79M1037.33 166.5H1039.93M1046.47 166.5H1049.07M1055.61 166.5H1058.21M1064.75 166.5H1067.35M1073.89 166.5H1076.49M1083.03 166.5H1085.63M1092.17 166.5H1094.77M1101.31 166.5H1103.91M1110.45 166.5H1113.05M1119.59 166.5H1122.19M1128.73 166.5H1131.33M1137.87 166.5H1140.47M1147.01 166.5H1149.61M1156.15 166.5H1158.75M1165.29 166.5H1167.89M169.03 150.5H171.63M178.17 150.5H180.77M187.31 150.5H189.91M196.45 150.5H199.05M205.59 150.5H208.19M214.73 150.5H217.33M223.87 150.5H226.47M233.01 150.5H235.61M242.15 150.5H244.75M251.29 150.5H253.89M260.43 150.5H263.03M269.57 150.5H272.17M278.71 150.5H281.31M287.85 150.5H290.45M296.99 150.5H299.59M306.13 150.5H308.73M315.27 150.5H317.87M324.41 150.5H327.01M333.55 150.5H336.15M342.69 150.5H345.29M351.83 150.5H354.43M360.97 150.5H363.57M370.11 150.5H372.71M379.25 150.5H381.85M388.39 150.5H390.99M397.53 150.5H400.13M406.67 150.5H409.27M415.81 150.5H418.41M424.95 150.5H427.55M434.09 150.5H436.69M443.23 150.5H445.83M452.37 150.5H454.97M461.51 150.5H464.11M470.65 150.5H473.25M479.79 150.5H482.39M488.93 150.5H491.53M498.07 150.5H500.67M507.21 150.5H509.81M516.35 150.5H518.95M525.49 150.5H528.09M534.63 150.5H537.23M543.77 150.5H546.37M552.91 150.5H555.51M562.05 150.5H564.65M571.19 150.5H573.79M580.33 150.5H582.93M589.47 150.5H592.07M598.61 150.5H601.21M607.75 150.5H610.35M616.89 150.5H619.49M626.03 150.5H628.63M635.17 150.5H637.77M644.31 150.5H646.91M653.45 150.5H656.05M662.59 150.5H665.19M671.73 150.5H674.33M680.87 150.5H683.47M690.01 150.5H692.61M699.15 150.5H701.75M708.29 150.5H710.89M717.43 150.5H720.03M726.57 150.5H729.17M735.71 150.5H738.31M744.85 150.5H747.45M753.99 150.5H756.59M763.13 150.5H765.73M772.27 150.5H774.87M781.41 150.5H784.01M790.55 150.5H793.15M799.69 150.5H802.29M808.83 150.5H811.43M817.97 150.5H820.57M827.11 150.5H829.71M836.25 150.5H838.85M845.39 150.5H847.99M854.53 150.5H857.13M863.67 150.5H866.27M872.81 150.5H875.41M881.95 150.5H884.55M891.09 150.5H893.69M900.23 150.5H902.83M909.37 150.5H911.97M918.51 150.5H921.11M927.65 150.5H930.25M936.79 150.5H939.39M945.93 150.5H948.53M955.07 150.5H957.67M964.21 150.5H966.81M973.35 150.5H975.95M982.49 150.5H985.09M991.63 150.5H994.23M1000.77 150.5H1003.37M1009.91 150.5H1012.51M1019.05 150.5H1021.65M1028.19 150.5H1030.79M1037.33 150.5H1039.93M1046.47 150.5H1049.07M1055.61 150.5H1058.21M1064.75 150.5H1067.35M1073.89 150.5H1076.49M1083.03 150.5H1085.63M1092.17 150.5H1094.77M1101.31 150.5H1103.91M1110.45 150.5H1113.05M1119.59 150.5H1122.19M1128.73 150.5H1131.33M1137.87 150.5H1140.47M1147.01 150.5H1149.61M1156.15 150.5H1158.75M1165.29 150.5H1167.89M169.03 134.5H171.63M178.17 134.5H180.77M187.31 134.5H189.91M196.45 134.5H199.05M205.59 134.5H208.19M214.73 134.5H217.33M223.87 134.5H226.47M233.01 134.5H235.61M242.15 134.5H244.75M251.29 134.5H253.89M260.43 134.5H263.03M269.57 134.5H272.17M278.71 134.5H281.31M287.85 134.5H290.45M296.99 134.5H299.59M306.13 134.5H308.73M315.27 134.5H317.87M324.41 134.5H327.01M333.55 134.5H336.15M342.69 134.5H345.29M351.83 134.5H354.43M360.97 134.5H363.57M370.11 134.5H372.71M379.25 134.5H381.85M388.39 134.5H390.99M397.53 134.5H400.13M406.67 134.5H409.27M415.81 134.5H418.41M424.95 134.5H427.55M434.09 134.5H436.69M443.23 134.5H445.83M452.37 134.5H454.97M461.51 134.5H464.11M470.65 134.5H473.25M479.79 134.5H482.39M488.93 134.5H491.53M498.07 134.5H500.67M507.21 134.5H509.81M516.35 134.5H518.95M525.49 134.5H528.09M534.63 134.5H537.23M543.77 134.5H546.37M552.91 134.5H555.51M562.05 134.5H564.65M571.19 134.5H573.79M580.33 134.5H582.93M589.47 134.5H592.07M598.61 134.5H601.21M607.75 134.5H610.35M616.89 134.5H619.49M626.03 134.5H628.63M635.17 134.5H637.77M644.31 134.5H646.91M653.45 134.5H656.05M662.59 134.5H665.19M671.73 134.5H674.33M680.87 134.5H683.47M690.01 134.5H692.61M699.15 134.5H701.75M708.29 134.5H710.89M717.43 134.5H720.03M726.57 134.5H729.17M735.71 134.5H738.31M744.85 134.5H747.45M753.99 134.5H756.59M763.13 134.5H765.73M772.27 134.5H774.87M781.41 134.5H784.01M790.55 134.5H793.15M799.69 134.5H802.29M808.83 134.5H811.43M817.97 134.5H820.57M827.11 134.5H829.71M836.25 134.5H838.85M845.39 134.5H847.99M854.53 134.5H857.13M863.67 134.5H866.27M872.81 134.5H875.41M881.95 134.5H884.55M891.09 134.5H893.69M900.23 134.5H902.83M909.37 134.5H911.97M918.51 134.5H921.11M927.65 134.5H930.25M936.79 134.5H939.39M945.93 134.5H948.53M955.07 134.5H957.67M964.21 134.5H966.81M973.35 134.5H975.95M982.49 134.5H985.09M991.63 134.5H994.23M1000.77 134.5H1003.37M1009.91 134.5H1012.51M1019.05 134.5H1021.65M1028.19 134.5H1030.79M1037.33 134.5H1039.93M1046.47 134.5H1049.07M1055.61 134.5H1058.21M1064.75 134.5H1067.35M1073.89 134.5H1076.49M1083.03 134.5H1085.63M1092.17 134.5H1094.77M1101.31 134.5H1103.91M1110.45 134.5H1113.05M1119.59 134.5H1122.19M1128.73 134.5H1131.33M1137.87 134.5H1140.47M1147.01 134.5H1149.61M1156.15 134.5H1158.75M1165.29 134.5H1167.89M169.03 118.5H171.63M178.17 118.5H180.77M187.31 118.5H189.91M196.45 118.5H199.05M205.59 118.5H208.19M214.73 118.5H217.33M223.87 118.5H226.47M233.01 118.5H235.61M242.15 118.5H244.75M251.29 118.5H253.89M260.43 118.5H263.03M269.57 118.5H272.17M278.71 118.5H281.31M287.85 118.5H290.45M296.99 118.5H299.59M306.13 118.5H308.73M315.27 118.5H317.87M324.41 118.5H327.01M333.55 118.5H336.15M342.69 118.5H345.29M351.83 118.5H354.43M360.97 118.5H363.57M370.11 118.5H372.71M379.25 118.5H381.85M388.39 118.5H390.99M397.53 118.5H400.13M406.67 118.5H409.27M415.81 118.5H418.41M424.95 118.5H427.55M434.09 118.5H436.69M443.23 118.5H445.83M452.37 118.5H454.97M461.51 118.5H464.11M470.65 118.5H473.25M479.79 118.5H482.39M488.93 118.5H491.53M498.07 118.5H500.67M507.21 118.5H509.81M516.35 118.5H518.95M525.49 118.5H528.09M534.63 118.5H537.23M543.77 118.5H546.37M552.91 118.5H555.51M562.05 118.5H564.65M571.19 118.5H573.79M580.33 118.5H582.93M589.47 118.5H592.07M598.61 118.5H601.21M607.75 118.5H610.35M616.89 118.5H619.49M626.03 118.5H628.63M635.17 118.5H637.77M644.31 118.5H646.91M653.45 118.5H656.05M662.59 118.5H665.19M671.73 118.5H674.33M680.87 118.5H683.47M690.01 118.5H692.61M699.15 118.5H701.75M708.29 118.5H710.89M717.43 118.5H720.03M726.57 118.5H729.17M735.71 118.5H738.31M744.85 118.5H747.45M753.99 118.5H756.59M763.13 118.5H765.73M772.27 118.5H774.87M781.41 118.5H784.01M790.55 118.5H793.15M799.69 118.5H802.29M808.83 118.5H811.43M817.97 118.5H820.57M827.11 118.5H829.71M836.25 118.5H838.85M845.39 118.5H847.99M854.53 118.5H857.13M863.67 118.5H866.27M872.81 118.5H875.41M881.95 118.5H884.55M891.09 118.5H893.69M900.23 118.5H902.83M909.37 118.5H911.97M918.51 118.5H921.11M927.65 118.5H930.25M936.79 118.5H939.39M945.93 118.5H948.53M955.07 118.5H957.67M964.21 118.5H966.81M973.35 118.5H975.95M982.49 118.5H985.09M991.63 118.5H994.23M1000.77 118.5H1003.37M1009.91 118.5H1012.51M1019.05 118.5H1021.65M1028.19 118.5H1030.79M1037.33 118.5H1039.93M1046.47 118.5H1049.07M1055.61 118.5H1058.21M1064.75 118.5H1067.35M1073.89 118.5H1076.49M1083.03 118.5H1085.63M1092.17 118.5H1094.77M1101.31 118.5H1103.91M1110.45 118.5H1113.05M1119.59 118.5H1122.19M1128.73 118.5H1131.33M1137.87 118.5H1140.47M1147.01 118.5H1149.61M1156.15 118.5H1158.75M1165.29 118.5H1167.89M169.03 103.5H171.63M178.17 103.5H180.77M187.31 103.5H189.91M196.45 103.5H199.05M205.59 103.5H208.19M214.73 103.5H217.33M223.87 103.5H226.47M233.01 103.5H235.61M242.15 103.5H244.75M251.29 103.5H253.89M260.43 103.5H263.03M269.57 103.5H272.17M278.71 103.5H281.31M287.85 103.5H290.45M296.99 103.5H299.59M306.13 103.5H308.73M315.27 103.5H317.87M324.41 103.5H327.01M333.55 103.5H336.15M342.69 103.5H345.29M351.83 103.5H354.43M360.97 103.5H363.57M370.11 103.5H372.71M379.25 103.5H381.85M388.39 103.5H390.99M397.53 103.5H400.13M406.67 103.5H409.27M415.81 103.5H418.41M424.95 103.5H427.55M434.09 103.5H436.69M443.23 103.5H445.83M452.37 103.5H454.97M461.51 103.5H464.11M470.65 103.5H473.25M479.79 103.5H482.39M488.93 103.5H491.53M498.07 103.5H500.67M507.21 103.5H509.81M516.35 103.5H518.95M525.49 103.5H528.09M534.63 103.5H537.23M543.77 103.5H546.37M552.91 103.5H555.51M562.05 103.5H564.65M571.19 103.5H573.79M580.33 103.5H582.93M589.47 103.5H592.07M598.61 103.5H601.21M607.75 103.5H610.35M616.89 103.5H619.49M626.03 103.5H628.63M635.17 103.5H637.77M644.31 103.5H646.91M653.45 103.5H656.05M662.59 103.5H665.19M671.73 103.5H674.33M680.87 103.5H683.47M690.01 103.5H692.61M699.15 103.5H701.75M708.29 103.5H710.89M717.43 103.5H720.03M726.57 103.5H729.17M735.71 103.5H738.31M744.85 103.5H747.45M753.99 103.5H756.59M763.13 103.5H765.73M772.27 103.5H774.87M781.41 103.5H784.01M790.55 103.5H793.15M799.69 103.5H802.29M808.83 103.5H811.43M817.97 103.5H820.57M827.11 103.5H829.71M836.25 103.5H838.85M845.39 103.5H847.99M854.53 103.5H857.13M863.67 103.5H866.27M872.81 103.5H875.41M881.95 103.5H884.55M891.09 103.5H893.69M900.23 103.5H902.83M909.37 103.5H911.97M918.51 103.5H921.11M927.65 103.5H930.25M936.79 103.5H939.39M945.93 103.5H948.53M955.07 103.5H957.67M964.21 103.5H966.81M973.35 103.5H975.95M982.49 103.5H985.09M991.63 103.5H994.23M1000.77 103.5H1003.37M1009.91 103.5H1012.51M1019.05 103.5H1021.65M1028.19 103.5H1030.79M1037.33 103.5H1039.93M1046.47 103.5H1049.07M1055.61 103.5H1058.21M1064.75 103.5H1067.35M1073.89 103.5H1076.49M1083.03 103.5H1085.63M1092.17 103.5H1094.77M1101.31 103.5H1103.91M1110.45 103.5H1113.05M1119.59 103.5H1122.19M1128.73 103.5H1131.33M1137.87 103.5H1140.47M1147.01 103.5H1149.61M1156.15 103.5H1158.75M1165.29 103.5H1167.89M169.03 87.5H171.63M178.17 87.5H180.77M187.31 87.5H189.91M196.45 87.5H199.05M205.59 87.5H208.19M214.73 87.5H217.33M223.87 87.5H226.47M233.01 87.5H235.61M242.15 87.5H244.75M251.29 87.5H253.89M260.43 87.5H263.03M269.57 87.5H272.17M278.71 87.5H281.31M287.85 87.5H290.45M296.99 87.5H299.59M306.13 87.5H308.73M315.27 87.5H317.87M324.41 87.5H327.01M333.55 87.5H336.15M342.69 87.5H345.29M351.83 87.5H354.43M360.97 87.5H363.57M370.11 87.5H372.71M379.25 87.5H381.85M388.39 87.5H390.99M397.53 87.5H400.13M406.67 87.5H409.27M415.81 87.5H418.41M424.95 87.5H427.55M434.09 87.5H436.69M443.23 87.5H445.83M452.37 87.5H454.97M461.51 87.5H464.11M470.65 87.5H473.25M479.79 87.5H482.39M488.93 87.5H491.53M498.07 87.5H500.67M507.21 87.5H509.81M516.35 87.5H518.95M525.49 87.5H528.09M534.63 87.5H537.23M543.77 87.5H546.37M552.91 87.5H555.51M562.05 87.5H564.65M571.19 87.5H573.79M580.33 87.5H582.93M589.47 87.5H592.07M598.61 87.5H601.21M607.75 87.5H610.35M616.89 87.5H619.49M626.03 87.5H628.63M635.17 87.5H637.77M644.31 87.5H646.91M653.45 87.5H656.05M662.59 87.5H665.19M671.73 87.5H674.33M680.87 87.5H683.47M690.01 87.5H692.61M699.15 87.5H701.75M708.29 87.5H710.89M717.43 87.5H720.03M726.57 87.5H729.17M735.71 87.5H738.31M744.85 87.5H747.45M753.99 87.5H756.59M763.13 87.5H765.73M772.27 87.5H774.87M781.41 87.5H784.01M790.55 87.5H793.15M799.69 87.5H802.29M808.83 87.5H811.43M817.97 87.5H820.57M827.11 87.5H829.71M836.25 87.5H838.85M845.39 87.5H847.99M854.53 87.5H857.13M863.67 87.5H866.27M872.81 87.5H875.41M881.95 87.5H884.55M891.09 87.5H893.69M900.23 87.5H902.83M909.37 87.5H911.97M918.51 87.5H921.11M927.65 87.5H930.25M936.79 87.5H939.39M945.93 87.5H948.53M955.07 87.5H957.67M964.21 87.5H966.81M973.35 87.5H975.95M982.49 87.5H985.09M991.63 87.5H994.23M1000.77 87.5H1003.37M1009.91 87.5H1012.51M1019.05 87.5H1021.65M1028.19 87.5H1030.79M1037.33 87.5H1039.93M1046.47 87.5H1049.07M1055.61 87.5H1058.21M1064.75 87.5H1067.35M1073.89 87.5H1076.49M1083.03 87.5H1085.63M1092.17 87.5H1094.77M1101.31 87.5H1103.91M1110.45 87.5H1113.05M1119.59 87.5H1122.19M1128.73 87.5H1131.33M1137.87 87.5H1140.47M1147.01 87.5H1149.61M1156.15 87.5H1158.75M1165.29 87.5H1167.89" stroke="#cdcdcd" stroke-width="1" fill="none"/>
<path d="M168.5 71.5H1168.5V861.5H168.5Z" stroke="#262626" stroke-width="1" fill="none"/>
<path d="M168.5 861.5V851.5M168.5 71.5V81.5M218.5 861.5V856.5M218.5 71.5V76.5M268.5 861.5V856.5M268.5 71.5V76.5M318.5 861.5V856.5M318.5 71.5V76.5M368.5 861.5V856.5M368.5 71.5V76.5M418.5 861.5V851.5M418.5 71.5V81.5M468.5 861.5V856.5M468.5 71.5V76.5M518.5 861.5V856.5M518.5 71.5V76.5M568.5 861.5V856.5M568.5 71.5V76.5M618.5 861.5V856.5M618.5 71.5V76.5M668.5 861.5V851.5M668.5 71.5V81.5M718.5 861.5V856.5M718.5 71.5V76.5M768.5 861.5V856.5M768.5 71.5V76.5M818.5 861.5V856.5M818.5 71.5V76.5M868.5 861.5V856.5M868.5 71.5V76.5M918.5 861.5V851.5M918.5 71.5V81.5M968.5 861.5V856.5M968.5 71.5V76.5M1018.5 861.5V856.5M1018.5 71.5V76.5M1068.5 861.5V856.5M1068.5 71.5V76.5M1118.5 861.5V856.5M1118.5 71.5V76.5M1168.5 861.5V851.5M1168.5 71.5V81.5M168.5 861.5H178.5M1168.5 861.5H1158.5M168.5 846.5H173.5M1168.5 846.5H1163.5M168.5 830.5H173.5M1168.5 830.5H1163.5M168.5 814.5H173.5M1168.5 814.5H1163.5M168.5 798.5H173.5M1168.5 798.5H1163.5M168.5 782.5H178.5M1168.5 782.5H1158.5M168.5 767.5H173.5M1168.5 767.5H1163.5M168.5 751.5H173.5M1168.5 751.5H1163.5M168.5 735.5H173.5M1168.5 735.5H1163.5M168.5 719.5H173.5M1168.5 719.5H1163.5M168.5 703.5H178.5M1168.5 703.5H1158.5M168.5 687.5H173.5M1168.5 687.5H1163.5M168.5 672.5H173.5M1168.5 672.5H1163.5M168.5 656.5H173.5M1168.5 656.5H1163.5M168.5 640.5H173.5M1168.5 640.5H1163.5M168.5 624.5H178.5M1168.5 624.5H1158.5M168.5 608.5H173.5M1168.5 608.5H1163.5M168.5 593.5H173.5M1168.5 593.5H1163.5M168.5 577.5H173.5M1168.5 577.5H1163.5M168.5 561.5H173.5M1168.5 561.5H1163.5M168.5 545.5H178.5M1168.5 545.5H1158.5M168.5 529.5H173.5M1168.5 529.5H1163.5M168.5 514.5H173.5M1168.5 514.5H1163.5M168.5 498.5H173.5M1168.5 498.5H1163.5M168.5 482.5H173.5M1168.5 482.5H1163.5M168.5 466.5H178.5M1168.5 466.5H1158.5M168.5 450.5H173.5M1168.5 450.5H1163.5M168.5 435.5H173.5M1168.5 435.5H1163.5M168.5 419.5H173.5M1168.5 419.5H1163.5M168.5 403.5H173.5M1168.5 403.5H1163.5M168.5 387.5H178.5M1168.5 387.5H1158.5M168.5 371.5H173.5M1168.5 371.5H1163.5M168.5 355.5H173.5M1168.5 355.5H1163.5M168.5 340.5H173.5M1168.5 340.5H1163.5M168.5 324.5H173.5M1168.5 324.5H1163.5M168.5 308.5H178.5M1168.5 308.5H1158.5M168.5 292.5H173.5M1168.5 292.5H1163.5M168.5 276.5H173.5M1168.5 276.5H1163.5M168.5 261.5H173.5M1168.5 261.5H1163.5M168.5 245.5H173.5M1168.5 245.5H1163.5M168.5 229.5H178.5M1168.5 229.5H1158.5M168.5 213.5H173.5M1168.5 213.5H1163.5M168.5 197.5H173.5M1168.5 197.5H1163.5M168.5 182.5H173.5M1168.5 182.5H1163.5M168.5 166.5H173.5M1168.5 166.5H1163.5M168.5 150.5H178.5M1168.5 150.5H1158.5M168.5 134.5H173.5M1168.5 134.5H1163.5M168.5 118.5H173.5M1168.5 118.5H1163.5M168.5 103.5H173.5M1168.5 103.5H1163.5M168.5 87.5H173.5M1168.5 87.5H1163.5M168.5 71.5H178.5M1168.5 71.5H1158.5" stroke="#262626" stroke-width="1" fill="none"/>
<g fill="none" stroke-width="5.0" stroke-linecap="round" stroke-linejoin="round">
<path d="M168.40 82.50C169.33 83.68 172.07 87.58 174.00 89.60C175.93 91.62 177.33 92.50 180.00 94.60C182.67 96.70 186.67 99.48 190.00 102.20C193.33 104.92 196.67 108.20 200.00 110.90C203.33 113.60 206.67 115.77 210.00 118.40C213.33 121.03 215.00 122.83 220.00 126.70C225.00 130.57 233.33 136.40 240.00 141.60C246.67 146.80 250.00 149.97 260.00 157.90C270.00 165.83 286.67 178.82 300.00 189.20C313.33 199.58 326.67 209.98 340.00 220.20C353.33 230.42 367.50 240.78 380.00 250.50C392.50 260.22 407.10 272.42 415.00 278.50C422.90 284.58 423.78 284.08 427.40 287.00C431.02 289.92 434.43 293.33 436.70 296.00C438.97 298.67 439.45 300.72 441.00 303.00C442.55 305.28 442.83 306.45 446.00 309.70C449.17 312.95 456.00 319.03 460.00 322.50C464.00 325.97 463.33 325.33 470.00 330.50C476.67 335.67 488.33 344.45 500.00 353.50C511.67 362.55 526.67 374.37 540.00 384.80C553.33 395.23 566.67 405.72 580.00 416.10C593.33 426.48 606.67 436.73 620.00 447.10C633.33 457.47 650.35 470.60 660.00 478.30C669.65 486.00 671.23 488.05 677.90 493.30C684.57 498.55 690.27 502.30 700.00 509.80C709.73 517.30 724.30 528.85 736.30 538.30C748.30 547.75 763.63 559.87 772.00 566.50C780.37 573.13 783.25 575.13 786.50 578.10C789.75 581.07 789.70 582.08 791.50 584.30C793.30 586.52 794.00 588.48 797.30 591.40C800.60 594.32 804.18 596.13 811.30 601.80C818.42 607.47 831.88 618.78 840.00 625.40C848.12 632.02 855.00 637.42 860.00 641.50C865.00 645.58 866.55 647.18 870.00 649.90C873.45 652.62 875.48 653.95 880.70 657.80C885.92 661.65 894.77 668.08 901.30 673.00C907.83 677.92 916.28 684.13 919.90 687.30C923.52 690.47 921.32 689.43 923.00 692.00C924.68 694.57 927.33 699.00 930.00 702.70C932.67 706.40 937.50 712.28 939.00 714.20" stroke="#0000ff"/>
<path d="M168.10 88.00C169.08 89.17 172.02 92.92 174.00 95.00C175.98 97.08 177.33 98.32 180.00 100.50C182.67 102.68 186.67 105.39 190.00 108.10C193.33 110.81 196.67 114.00 200.00 116.75C203.33 119.50 206.67 121.91 210.00 124.60C213.33 127.29 215.00 129.15 220.00 132.90C225.00 136.65 233.33 142.00 240.00 147.10C246.67 152.20 250.00 155.82 260.00 163.50C270.00 171.18 286.67 183.20 300.00 193.20C313.33 203.20 326.67 213.82 340.00 223.50C353.33 233.18 367.50 242.18 380.00 251.30C392.50 260.42 407.10 272.35 415.00 278.20C422.90 284.05 423.78 283.68 427.40 286.40C431.02 289.12 434.43 292.27 436.70 294.50C438.97 296.73 439.45 297.95 441.00 299.80C442.55 301.65 442.83 302.70 446.00 305.60C449.17 308.50 456.00 313.95 460.00 317.20C464.00 320.45 463.33 320.15 470.00 325.10C476.67 330.05 488.33 337.90 500.00 346.90C511.67 355.90 526.67 368.48 540.00 379.10C553.33 389.72 566.67 400.18 580.00 410.60C593.33 421.02 606.67 431.17 620.00 441.60C633.33 452.03 650.35 465.30 660.00 473.20C669.65 481.10 671.23 483.20 677.90 489.00C684.57 494.80 689.65 499.17 700.00 508.00C710.35 516.83 726.67 531.17 740.00 542.00C753.33 552.83 772.25 566.98 780.00 573.00C787.75 579.02 784.58 576.22 786.50 578.10C788.42 579.98 789.70 582.12 791.50 584.30C793.30 586.48 792.78 587.08 797.30 591.20C801.82 595.32 811.48 602.97 818.60 609.00C825.72 615.03 833.10 621.32 840.00 627.40C846.90 633.48 855.00 641.08 860.00 645.50C865.00 649.92 865.62 650.38 870.00 653.90C874.38 657.42 879.63 661.43 886.30 666.60C892.97 671.77 904.73 680.77 910.00 684.90C915.27 689.03 916.07 689.53 917.90 691.40C919.73 693.27 918.98 693.27 921.00 696.10C923.02 698.93 927.08 704.70 930.00 708.40C932.92 712.10 937.08 716.65 938.50 718.30" stroke="#ff0000"/>
<path d="M168.10 856.70C170.68 856.57 177.92 856.07 183.60 855.90C189.28 855.73 197.03 855.78 202.20 855.70C207.37 855.62 210.47 855.30 214.60 855.40C218.73 855.50 222.37 856.00 227.00 856.30C231.63 856.60 237.65 857.17 242.40 857.20C247.15 857.23 251.25 856.67 255.50 856.50C259.75 856.33 263.25 856.20 267.90 856.20C272.55 856.20 278.23 856.27 283.40 856.50C288.57 856.73 293.23 857.30 298.90 857.60C304.57 857.90 311.62 858.07 317.40 858.30C323.18 858.53 328.32 858.80 333.60 859.00C338.88 859.20 344.97 859.27 349.10 859.50C353.23 859.73 354.78 860.15 358.40 860.40C362.02 860.65 365.13 860.82 370.80 861.00C376.47 861.18 386.10 861.47 392.40 861.50C398.70 861.53 402.80 861.33 408.60 861.20C414.40 861.07 422.25 860.83 427.20 860.70C432.15 860.57 435.72 860.67 438.30 860.40C440.88 860.13 440.42 859.53 442.70 859.10C444.98 858.67 448.12 858.32 452.00 857.80C455.88 857.28 460.22 856.58 466.00 856.00C471.78 855.42 480.67 854.42 486.70 854.30C492.73 854.18 497.55 855.27 502.20 855.30C506.85 855.33 509.95 854.47 514.60 854.50C519.25 854.53 525.03 855.20 530.10 855.50C535.17 855.80 540.25 856.15 545.00 856.30C549.75 856.45 553.23 856.43 558.60 856.40C563.97 856.37 571.00 856.10 577.20 856.10C583.40 856.10 588.67 856.38 595.80 856.40C602.93 856.42 613.70 856.22 620.00 856.20C626.30 856.18 628.23 856.30 633.60 856.30C638.97 856.30 647.03 856.03 652.20 856.20C657.37 856.37 660.47 856.92 664.60 857.30C668.73 857.68 672.43 858.12 677.00 858.50C681.57 858.88 686.73 859.32 692.00 859.60C697.27 859.88 703.77 859.92 708.60 860.20C713.43 860.48 715.83 861.07 721.00 861.30C726.17 861.53 733.40 861.58 739.60 861.60C745.80 861.62 753.13 861.40 758.20 861.40C763.27 861.40 764.73 861.75 770.00 861.60C775.27 861.45 784.95 860.50 789.80 860.50C794.65 860.50 794.45 861.42 799.10 861.60C803.75 861.78 812.02 861.73 817.70 861.60C823.38 861.47 829.32 861.07 833.20 860.80C837.08 860.53 836.77 860.43 841.00 860.00C845.23 859.57 853.08 858.70 858.60 858.20C864.12 857.70 868.93 857.37 874.10 857.00C879.27 856.63 883.92 856.12 889.60 856.00C895.28 855.88 903.13 856.18 908.20 856.30C913.27 856.42 916.53 856.57 920.00 856.70C923.47 856.83 926.00 856.95 929.00 857.10C932.00 857.25 936.50 857.52 938.00 857.60" stroke="#00ff00" stroke-width="5.0"/>
</g>
<rect x="604.5" y="94.5" width="541" height="114.7" fill="#fff" stroke="#262626" stroke-width="1"/>
<circle cx="647.7" cy="116.4" r="2.3" fill="#0000ff"/>
<circle cx="647.7" cy="151.9" r="2.3" fill="#ff0000"/>
<circle cx="647.7" cy="187.7" r="2.3" fill="#00ff00"/>
<text x="432.00" y="55.25" font-size="31.07" textLength="101.88" lengthAdjust="spacingAndGlyphs" fill="#000" stroke="#000" stroke-width="0.50">Glider</text>
<text x="544.65" y="55.25" font-size="31.07" textLength="107.92" lengthAdjust="spacingAndGlyphs" fill="#000" stroke="#000" stroke-width="0.50">SG130</text>
<text x="664.65" y="55.25" font-size="31.07" textLength="123.59" lengthAdjust="spacingAndGlyphs" fill="#000" stroke="#000" stroke-width="0.50">Battery</text>
<text x="800.79" y="55.25" font-size="31.07" textLength="102.93" lengthAdjust="spacingAndGlyphs" fill="#000" stroke="#000" stroke-width="0.50">Usage</text>
<text x="504.48" y="939.25" font-size="31.07" textLength="81.16" lengthAdjust="spacingAndGlyphs" fill="#262626" stroke="#262626" stroke-width="0.50">Days</text>
<text x="597.42" y="939.25" font-size="31.07" textLength="30.88" lengthAdjust="spacingAndGlyphs" fill="#262626" stroke="#262626" stroke-width="0.50">in</text>
<text x="639.51" y="939.25" font-size="31.07" textLength="54.38" lengthAdjust="spacingAndGlyphs" fill="#262626" stroke="#262626" stroke-width="0.50">the</text>
<text x="705.65" y="939.25" font-size="31.07" textLength="127.83" lengthAdjust="spacingAndGlyphs" fill="#262626" stroke="#262626" stroke-width="0.50">Mission</text>
<text x="-733.58" y="81.55" font-size="31.07" textLength="177.85" lengthAdjust="spacingAndGlyphs" fill="#262626" stroke="#262626" stroke-width="0.50" transform="rotate(-90)">Remaining</text>
<text x="-543.96" y="81.55" font-size="31.07" textLength="124.10" lengthAdjust="spacingAndGlyphs" fill="#262626" stroke="#262626" stroke-width="0.50" transform="rotate(-90)">Battery</text>
<text x="-408.20" y="81.55" font-size="31.07" textLength="140.05" lengthAdjust="spacingAndGlyphs" fill="#262626" stroke="#262626" stroke-width="0.50" transform="rotate(-90)">Voltage,</text>
<text x="-255.10" y="81.55" font-size="31.07" textLength="54.70" lengthAdjust="spacingAndGlyphs" fill="#262626" stroke="#262626" stroke-width="0.50" transform="rotate(-90)">(%)</text>
<text x="137.89" y="871.87" font-size="28.99" textLength="19.18" lengthAdjust="spacingAndGlyphs" fill="#262626" stroke="#262626" stroke-width="0.50">0</text>
<text x="118.14" y="792.87" font-size="28.99" textLength="38.94" lengthAdjust="spacingAndGlyphs" fill="#262626" stroke="#262626" stroke-width="0.50">10</text>
<text x="119.17" y="713.87" font-size="28.99" textLength="37.88" lengthAdjust="spacingAndGlyphs" fill="#262626" stroke="#262626" stroke-width="0.50">20</text>
<text x="119.58" y="634.87" font-size="28.99" textLength="37.45" lengthAdjust="spacingAndGlyphs" fill="#262626" stroke="#262626" stroke-width="0.50">30</text>
<text x="119.84" y="555.87" font-size="28.99" textLength="37.18" lengthAdjust="spacingAndGlyphs" fill="#262626" stroke="#262626" stroke-width="0.50">40</text>
<text x="119.31" y="476.87" font-size="28.99" textLength="37.74" lengthAdjust="spacingAndGlyphs" fill="#262626" stroke="#262626" stroke-width="0.50">50</text>
<text x="119.10" y="397.87" font-size="28.99" textLength="37.95" lengthAdjust="spacingAndGlyphs" fill="#262626" stroke="#262626" stroke-width="0.50">60</text>
<text x="118.87" y="318.87" font-size="28.99" textLength="38.18" lengthAdjust="spacingAndGlyphs" fill="#262626" stroke="#262626" stroke-width="0.50">70</text>
<text x="119.27" y="239.87" font-size="28.99" textLength="37.77" lengthAdjust="spacingAndGlyphs" fill="#262626" stroke="#262626" stroke-width="0.50">80</text>
<text x="119.17" y="160.87" font-size="28.99" textLength="37.88" lengthAdjust="spacingAndGlyphs" fill="#262626" stroke="#262626" stroke-width="0.50">90</text>
<text x="99.27" y="81.87" font-size="28.99" textLength="57.80" lengthAdjust="spacingAndGlyphs" fill="#262626" stroke="#262626" stroke-width="0.50">100</text>
<text x="158.94" y="899.65" font-size="28.99" textLength="19.18" lengthAdjust="spacingAndGlyphs" fill="#262626" stroke="#262626" stroke-width="0.50">0</text>
<text x="399.81" y="899.65" font-size="28.99" textLength="37.74" lengthAdjust="spacingAndGlyphs" fill="#262626" stroke="#262626" stroke-width="0.50">50</text>
<text x="639.22" y="899.65" font-size="28.99" textLength="57.80" lengthAdjust="spacingAndGlyphs" fill="#262626" stroke="#262626" stroke-width="0.50">100</text>
<text x="889.22" y="899.65" font-size="28.99" textLength="57.80" lengthAdjust="spacingAndGlyphs" fill="#262626" stroke="#262626" stroke-width="0.50">150</text>
<text x="1140.22" y="899.65" font-size="28.99" textLength="56.78" lengthAdjust="spacingAndGlyphs" fill="#262626" stroke="#262626" stroke-width="0.50">200</text>
<text x="689.42" y="126.65" font-size="28.97" textLength="60.67" lengthAdjust="spacingAndGlyphs" fill="#000" stroke="#000" stroke-width="0.50">Low</text>
<text x="761.12" y="126.65" font-size="28.97" textLength="120.77" lengthAdjust="spacingAndGlyphs" fill="#000" stroke="#000" stroke-width="0.50">Voltage</text>
<text x="890.06" y="126.65" font-size="28.97" textLength="158.71" lengthAdjust="spacingAndGlyphs" fill="#000" stroke="#000" stroke-width="0.50">remaining</text>
<text x="689.26" y="161.75" font-size="28.97" textLength="72.72" lengthAdjust="spacingAndGlyphs" fill="#000" stroke="#000" stroke-width="0.50">High</text>
<text x="770.92" y="161.75" font-size="28.97" textLength="121.07" lengthAdjust="spacingAndGlyphs" fill="#000" stroke="#000" stroke-width="0.50">Voltage</text>
<text x="899.85" y="161.75" font-size="28.97" textLength="159.23" lengthAdjust="spacingAndGlyphs" fill="#000" stroke="#000" stroke-width="0.50">remaining</text>
<text x="689.34" y="198.05" font-size="28.97" textLength="141.75" lengthAdjust="spacingAndGlyphs" fill="#000" stroke="#000" stroke-width="0.50">High/Low</text>
<text x="843.02" y="198.05" font-size="28.97" textLength="120.16" lengthAdjust="spacingAndGlyphs" fill="#000" stroke="#000" stroke-width="0.50">Voltage</text>
<text x="973.33" y="198.05" font-size="28.97" textLength="162.05" lengthAdjust="spacingAndGlyphs" fill="#000" stroke="#000" stroke-width="0.50">Difference</text>
</svg>
</body></html>
